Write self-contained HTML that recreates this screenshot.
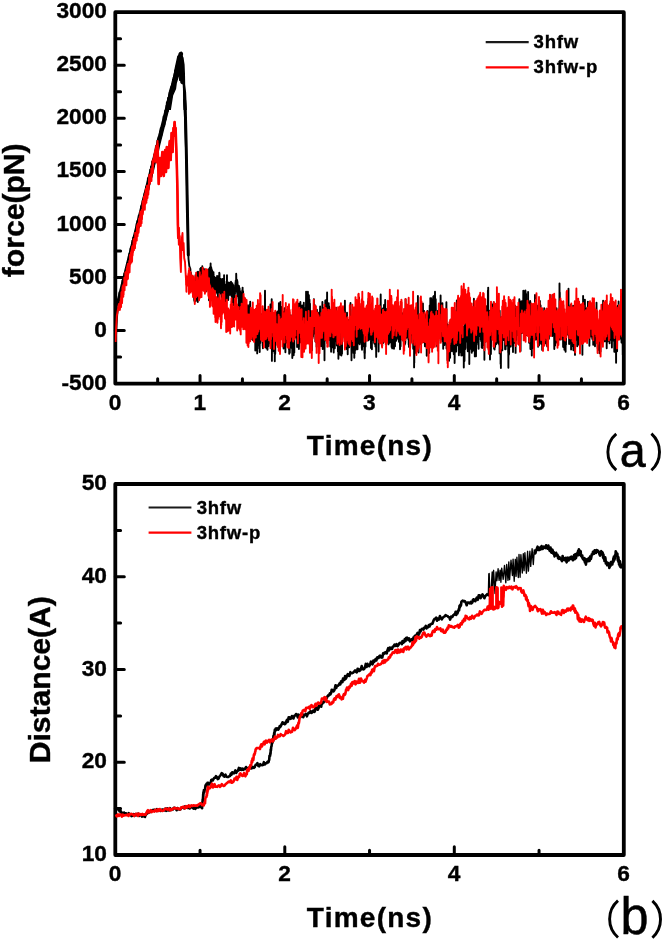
<!DOCTYPE html>
<html><head><meta charset="utf-8"><title>Force and distance vs time</title>
<style>html,body{margin:0;padding:0;background:#fff;width:666px;height:943px;overflow:hidden}svg{display:block;will-change:transform}</style>
</head><body>
<svg width="666" height="943" viewBox="0 0 666 943">
<rect width="666" height="943" fill="#fff"/>
<clipPath id="ca"><rect x="114.6" y="14" width="507.4" height="368"/></clipPath>
<clipPath id="cb"><rect x="114.6" y="486" width="507.4" height="367"/></clipPath>
<path d="M115.3 65.30H124.3 M115.3 118.35H124.3 M115.3 171.40H124.3 M115.3 224.45H124.3 M115.3 277.50H124.3 M115.3 330.55H124.3 M115.3 38.77H120.6 M115.3 91.83H120.6 M115.3 144.88H120.6 M115.3 197.93H120.6 M115.3 250.97H120.6 M115.3 304.03H120.6 M115.3 357.07H120.6 M200.05 383.6V375.4 M284.80 383.6V375.4 M369.55 383.6V375.4 M454.30 383.6V375.4 M539.05 383.6V375.4 M157.67 383.6V378.8 M242.42 383.6V378.8 M327.17 383.6V378.8 M411.92 383.6V378.8 M496.67 383.6V378.8 M581.42 383.6V378.8" stroke="#000" stroke-width="3" stroke-linecap="round" fill="none"/>
<path d="M115.3 12.2 H623.8 V383.6 H115.3 Z" fill="none" stroke="#000" stroke-width="3.8" stroke-linejoin="round"/>
<g clip-path="url(#ca)">
<polyline points="115.9,341.0 116.1,334.0 116.5,325.0 117.2,315.0 118.0,308.0 118.7,303.0 118.5,299.3 118.7,303.0 118.8,299.9 119.0,302.5 119.1,302.2 119.3,293.7 119.5,292.3 119.6,303.2 119.8,294.5 119.9,293.5 120.1,303.5 120.3,295.5 120.4,300.0 120.6,294.3 120.7,296.0 120.9,288.5 121.1,294.6 121.2,297.3 121.4,291.8 121.5,294.2 121.7,292.6 121.9,283.5 122.0,292.5 122.2,289.6 122.3,284.9 122.5,280.4 122.7,291.5 122.8,285.3 123.0,288.1 123.1,289.7 123.3,286.8 123.5,289.1 123.6,281.0 123.8,286.1 123.9,280.5 124.1,286.7 124.3,285.3 124.4,273.7 124.6,273.6 124.7,274.1 124.9,283.9 125.1,275.9 125.2,277.9 125.4,272.7 125.5,274.9 125.7,272.6 125.9,271.5 126.0,274.1 126.2,273.5 126.3,277.3 126.5,273.5 126.7,276.4 126.8,274.7 127.0,276.0 127.1,270.8 127.3,263.1 127.5,272.2 127.6,273.0 127.8,271.5 127.9,266.2 128.1,267.6 128.3,259.9 128.4,268.0 128.6,263.7 128.7,259.0 128.9,255.3 129.1,265.7 129.2,267.0 129.4,253.7 129.5,263.0 129.7,256.9 129.9,252.7 130.0,254.0 130.2,260.0 130.3,260.9 130.5,248.6 130.7,256.0 130.8,247.3 131.0,256.1 131.1,250.1 131.3,257.1 131.5,257.9 131.6,250.6 131.8,256.9 131.9,246.6 132.1,242.7 132.3,249.4 132.4,240.8 132.6,242.4 132.7,244.8 132.9,246.9 133.1,239.9 133.2,237.7 133.4,248.6 133.5,240.2 133.7,248.6 133.9,247.1 134.0,239.2 134.2,239.7 134.3,239.9 134.5,241.0 134.7,239.7 134.8,238.5 135.0,238.8 135.1,242.6 135.3,235.9 135.5,234.2 135.6,237.6 135.8,230.2 135.9,230.5 136.1,239.3 136.3,232.3 136.4,232.0 136.6,223.8 136.7,228.9 136.9,230.5 137.1,222.0 137.2,229.7 137.4,229.3 137.5,220.7 137.7,228.0 137.9,225.1 138.0,227.4 138.2,222.2 138.3,226.5 138.5,226.3 138.7,215.7 138.8,215.6 139.0,223.5 139.1,226.9 139.3,216.3 139.5,218.5 139.6,219.8 139.8,215.4 139.9,215.3 140.1,214.0 140.3,214.1 140.4,216.7 140.6,211.9 140.7,212.3 140.9,217.2 141.1,206.1 141.2,213.1 141.4,214.8 141.5,208.2 141.7,206.3 141.9,213.8 142.0,205.3 142.2,203.9 142.3,206.7 142.5,209.8 142.7,200.8 142.8,203.2 143.0,202.8 143.1,209.1 143.3,202.9 143.5,208.1 143.6,197.9 143.8,199.6 143.9,203.3 144.1,206.0 144.3,199.3 144.4,195.5 144.6,193.4 144.7,198.5 144.9,193.1 145.1,201.1 145.2,200.9 145.4,191.1 145.5,191.7 145.7,198.5 145.9,195.5 146.0,197.2 146.2,190.1 146.3,186.5 146.5,188.1 146.7,194.5 146.8,186.5 147.0,186.9 147.1,187.3 147.3,186.7 147.5,185.9 147.6,192.4 147.8,181.1 147.9,178.3 148.1,190.8 148.3,189.3 148.4,190.1 148.6,181.8 148.7,188.3 148.9,187.4 149.1,176.9 149.2,183.6 149.4,184.2 149.5,181.1 149.7,178.5 149.9,174.6 150.0,174.7 150.2,172.5 150.3,169.6 150.5,176.2 150.7,171.4 150.8,178.1 151.0,166.7 151.1,178.1 151.3,174.5 151.5,177.1 151.6,176.1 151.8,175.5 151.9,170.3 152.1,161.8 152.3,171.4 152.4,162.7 152.6,163.9 152.7,168.3 152.9,165.7 153.1,163.6 153.2,170.3 153.4,165.1 153.5,160.6 153.7,158.7 153.9,166.6 154.0,160.6 154.2,164.2 154.3,157.6 154.5,154.8 154.7,158.8 154.8,162.2 155.0,152.5 155.1,160.5 155.3,161.7 155.5,159.4 155.6,159.0 155.8,147.0 155.9,155.0 156.1,157.7 156.3,145.7 156.4,148.1 156.6,147.4 156.7,150.4 156.9,148.3 157.1,148.4 157.2,152.0 157.4,140.5 157.5,140.6 157.7,141.0 157.9,140.3 158.0,138.9 158.2,150.9 158.3,148.6 158.5,137.2 158.7,142.4 158.8,139.1 159.0,138.5 159.1,138.4 159.3,141.9 159.5,140.4 159.6,136.6 159.8,133.6 159.9,134.8 160.1,131.3 160.3,136.7 160.4,138.3 160.6,133.0 160.7,128.2 160.9,128.9 161.1,131.0 161.2,133.6 161.4,135.4 161.5,129.2 161.7,134.4 161.9,131.3 162.0,128.0 162.2,126.5 162.3,127.6 162.5,129.8 162.7,125.2 162.8,128.4 163.0,124.5 163.1,120.9 163.3,124.3 163.5,125.9 163.6,116.5 163.8,120.8 163.9,120.2 164.1,125.9 164.3,126.1 164.4,117.6 164.6,124.2 164.7,122.1 164.9,114.1 165.1,116.3 165.2,110.8 165.4,119.9 165.5,117.1 165.7,119.6 165.9,117.7 166.0,115.3 166.2,115.6 166.3,112.5 166.5,105.4 166.7,111.6 166.8,102.8 167.0,104.1 167.1,112.3 167.3,101.4 167.5,101.4 167.6,100.9 167.8,111.2 167.9,100.7 168.1,97.9 168.3,108.7 168.4,98.0 168.6,107.5 168.7,104.5 168.9,106.1 169.1,107.1 169.2,101.2 169.4,103.7 169.5,92.3 169.7,101.9 169.9,97.7 170.0,99.9 170.2,90.8 170.3,99.1 170.5,101.1 170.7,88.2 170.8,91.3 171.0,94.0 171.1,97.0 171.3,88.2 171.5,86.7 171.6,87.0 171.8,91.5 171.9,92.8 172.1,87.1 172.3,86.1 172.4,85.9 172.6,84.6 172.7,84.9 172.9,79.6 173.1,84.8 173.2,90.7 173.4,82.3 173.5,86.3 173.7,77.4 173.9,84.2 174.0,84.5 174.2,82.7 174.3,79.9 174.5,78.8 174.7,80.4 174.8,83.3 175.0,72.2 175.1,70.8 175.3,79.3 175.5,81.0 175.6,74.8 175.8,73.1 175.9,76.3 176.1,68.2 176.3,68.7 176.4,67.1 176.6,71.9 176.7,67.4 176.9,65.7 177.1,71.4 177.2,74.5 177.4,64.6 177.5,69.7 177.7,65.0 177.9,70.5 178.0,66.1 178.2,61.0 178.3,59.7 178.5,56.3 178.7,62.1 178.8,60.1 179.0,56.5 179.1,58.5 179.3,57.3 179.5,63.0 179.6,53.5 179.8,64.8 179.9,57.0 180.1,58.0 180.3,55.5 181.3,52.6 180.6,66.0 179.9,80.0 180.4,74.0 181.2,60.0 182.2,57.0 182.8,68.0 183.3,76.0 183.8,84.6 184.5,105.0 185.2,125.0 186.0,150.0 186.6,170.0 187.1,195.0 187.6,221.0 188.1,240.0 188.5,259.0 189.3,266.0 190.4,269.0 190.5,282.7 190.6,279.0 190.7,280.0 190.8,286.9 190.9,272.7 191.0,283.1 191.0,287.5 191.1,280.5 191.2,283.1 191.3,277.5 191.4,284.5 191.5,282.9 191.6,287.2 191.7,285.6 191.8,286.3 191.9,280.0 191.9,279.4 192.0,279.9 192.1,282.0 192.2,275.9 192.3,286.3 192.4,284.6 192.5,277.1 192.6,278.7 192.7,282.2 192.8,285.5 192.8,283.0 192.9,286.4 193.0,291.5 193.1,283.7 193.2,290.9 193.3,287.7 193.4,292.7 193.5,290.9 193.6,286.3 193.7,285.9 193.7,296.6 193.8,294.8 193.9,293.2 194.0,293.4 194.1,288.9 194.2,300.2 194.3,294.6 194.4,283.6 194.5,301.6 194.6,295.7 194.6,286.3 194.7,292.6 194.8,295.1 194.9,298.2 195.0,293.9 195.1,288.6 195.2,282.9 195.3,290.7 195.4,283.6 195.5,292.3 195.5,275.1 195.6,301.3 195.7,284.2 195.8,289.7 195.9,294.1 196.0,298.9 196.1,300.0 196.2,286.0 196.3,296.8 196.4,290.9 196.4,283.0 196.5,283.0 196.6,284.5 196.7,287.3 196.8,286.9 196.9,291.1 197.0,284.3 197.1,292.8 197.2,284.3 197.3,277.7 197.3,285.7 197.4,288.0 197.5,272.0 197.6,287.8 197.7,285.8 197.8,302.1 197.9,287.1 198.0,271.7 198.1,274.7 198.2,271.9 198.2,289.4 198.3,277.7 198.4,287.4 198.5,277.8 198.6,278.5 198.7,277.3 198.8,286.2 198.9,283.9 199.0,278.6 199.1,276.5 199.1,285.6 199.2,287.8 199.3,285.8 199.4,284.0 199.5,276.7 199.6,272.7 199.7,281.8 199.8,288.4 199.9,283.8 200.0,277.3 200.0,283.9 200.1,286.3 200.2,285.0 200.3,268.6 200.4,277.3 200.5,277.7 200.6,285.9 200.7,272.8 200.8,268.0 200.9,284.5 200.9,281.6 201.0,286.2 201.1,275.0 201.2,288.6 201.3,279.4 201.4,280.9 201.5,279.3 201.6,273.1 201.7,288.7 201.8,280.4 201.8,280.1 201.9,276.5 202.0,281.7 202.1,275.1 202.2,272.5 202.3,266.3 202.4,275.8 202.5,279.2 202.6,280.3 202.7,276.3 202.7,284.7 202.8,272.7 202.9,271.6 203.0,282.7 203.1,275.7 203.2,275.0 203.3,284.1 203.4,269.1 203.5,282.1 203.6,271.6 203.6,277.6 203.7,276.2 203.8,268.7 203.9,270.9 204.0,290.3 204.1,279.6 204.2,277.3 204.3,289.8 204.4,275.1 204.5,283.3 204.5,275.5 204.6,278.4 204.7,276.6 204.8,275.4 204.9,286.4 205.0,280.8 205.1,275.7 205.2,270.3 205.3,276.7 205.4,278.6 205.4,286.5 205.5,288.1 205.6,273.0 205.7,273.1 205.8,283.9 205.9,270.0 206.0,291.3 206.1,280.5 206.2,279.4 206.3,278.2 206.3,278.7 206.4,279.5 206.5,285.1 206.6,275.4 206.7,275.9 206.8,275.4 206.9,275.9 207.0,285.6 207.1,284.4 207.2,269.7 207.2,280.6 207.3,287.8 207.4,279.5 207.5,279.6 207.6,284.8 207.7,275.9 207.8,285.8 207.9,286.6 208.0,286.5 208.1,285.4 208.1,279.1 208.2,283.6 208.3,278.2 208.4,287.0 208.5,273.0 208.6,272.9 208.7,276.5 208.8,269.2 208.9,277.5 209.0,291.2 209.0,300.2 209.1,278.4 209.2,289.7 209.3,283.0 209.4,275.6 209.5,278.0 209.6,284.4 209.7,280.6 209.8,267.5 209.9,279.0 209.9,277.3 210.0,275.9 210.1,278.5 210.2,277.9 210.3,273.7 210.4,274.2 210.5,279.7 210.6,263.4 210.7,277.6 210.8,286.6 210.8,281.8 210.9,284.7 211.0,277.4 211.1,277.4 211.2,267.1 211.3,283.9 211.4,272.6 211.5,281.9 211.6,278.6 211.7,274.0 211.7,269.1 211.8,275.0 211.9,274.4 212.0,279.3 212.1,292.7 212.2,270.6 212.3,275.6 212.4,275.7 212.5,273.1 212.6,276.5 212.6,280.0 212.7,286.7 212.8,282.9 212.9,275.7 213.0,295.2 213.1,277.2 213.2,274.8 213.3,278.8 213.4,281.6 213.5,272.2 213.5,281.3 213.6,274.3 213.7,285.9 213.8,282.3 213.9,282.7 214.0,293.0 214.1,278.0 214.2,280.1 214.3,282.9 214.4,281.3 214.4,276.6 214.5,287.8 214.6,290.1 214.7,291.0 214.8,283.9 214.9,284.2 215.0,283.4 215.1,287.4 215.2,277.6 215.3,291.4 215.3,284.0 215.4,284.8 215.5,291.7 215.6,289.9 215.7,281.0 215.8,284.3 215.9,292.4 216.0,288.7 216.1,286.1 216.2,282.5 216.2,278.3 216.3,284.8 216.4,284.1 216.5,280.8 216.6,286.7 216.7,284.0 216.8,285.9 216.9,283.7 217.0,279.1 217.1,275.9 217.1,284.7 217.2,281.1 217.3,293.8 217.4,279.7 217.5,289.5 217.6,279.6 217.7,280.7 217.8,281.4 217.9,299.4 218.0,281.4 218.0,287.5 218.1,292.3 218.2,284.9 218.3,285.7 218.4,291.6 218.5,283.9 218.6,289.7 218.7,290.4 218.8,276.0 218.9,287.5 218.9,280.2 219.0,283.5 219.1,288.2 219.2,282.2 219.3,272.6 219.4,290.5 219.5,273.4 219.6,286.3 219.7,291.9 219.8,287.5 219.8,283.2 219.9,281.4 220.0,283.6 220.1,293.2 220.2,288.9 220.3,278.9 220.4,289.3 220.5,291.9 220.6,287.3 220.7,278.9 220.7,281.4 220.8,285.4 220.9,284.4 221.0,292.6 221.1,285.6 221.2,294.5 221.3,292.6 221.4,291.3 221.5,294.8 221.6,283.0 221.6,284.0 221.7,297.8 221.8,287.9 221.9,292.5 222.0,288.5 222.1,290.0 222.2,289.8 222.3,287.1 222.4,291.0 222.5,278.9 222.5,294.4 222.6,298.2 222.7,288.0 222.8,299.7 222.9,288.3 223.0,291.5 223.1,288.6 223.2,289.1 223.3,280.7 223.4,286.7 223.4,283.3 223.5,283.7 223.6,282.7 223.7,291.1 223.8,290.1 223.9,286.5 224.0,292.2 224.1,275.1 224.2,292.2 224.3,295.4 224.3,302.4 224.4,291.8 224.5,296.0 224.6,288.1 224.7,294.2 224.8,284.5 224.9,291.0 225.0,293.9 225.1,298.7 225.2,288.0 225.2,294.1 225.3,298.5 225.4,296.3 225.5,285.6 225.6,301.1 225.7,288.9 225.8,285.2 225.9,288.6 226.0,294.2 226.1,286.0 226.1,288.4 226.2,304.2 226.3,285.5 226.4,290.1 226.5,295.0 226.6,281.6 226.7,291.1 226.8,291.9 226.9,284.7 227.0,275.2 227.0,293.4 227.1,295.3 227.2,290.2 227.3,283.4 227.4,293.7 227.5,289.3 227.6,291.0 227.7,289.7 227.8,288.6 227.9,287.0 227.9,291.2 228.0,289.4 228.1,289.6 228.2,300.1 228.3,295.7 228.4,294.3 228.5,292.4 228.6,295.7 228.7,293.6 228.8,291.2 228.8,282.4 228.9,290.2 229.0,286.0 229.1,286.5 229.2,292.7 229.3,288.6 229.4,288.4 229.5,294.7 229.6,294.3 229.7,293.6 229.7,292.3 229.8,284.4 229.9,287.9 230.0,285.5 230.1,288.2 230.2,292.2 230.3,282.7 230.4,294.9 230.5,285.1 230.6,293.4 230.6,293.9 230.7,292.4 230.8,289.6 230.9,290.2 231.0,281.6 231.1,293.2 231.2,290.6 231.3,293.5 231.4,289.7 231.5,284.1 231.5,291.4 231.6,296.2 231.7,293.9 231.8,288.6 231.9,283.7 232.0,298.0 232.1,288.1 232.2,295.8 232.3,298.2 232.4,292.6 232.4,283.2 232.5,304.7 232.6,290.3 232.7,295.1 232.8,288.2 232.9,300.9 233.0,294.4 233.1,301.5 233.2,301.5 233.3,290.2 233.3,289.8 233.4,285.3 233.5,287.9 233.6,301.9 233.7,305.1 233.8,301.1 233.9,291.8 234.0,293.5 234.1,295.2 234.2,295.7 234.2,292.4 234.3,287.8 234.4,298.5 234.5,293.0 234.6,299.4 234.7,298.4 234.8,292.5 234.9,292.5 235.0,290.2 235.1,290.8 235.1,289.2 235.2,291.2 235.3,292.9 235.4,285.4 235.5,282.6 235.6,289.4 235.7,280.7 235.8,291.3 235.9,282.2 236.0,284.8 236.0,288.7 236.1,285.9 236.2,273.8 236.3,278.0 236.4,280.8 236.5,284.1 236.6,290.1 236.7,285.5 236.8,289.8 236.9,286.2 236.9,291.5 237.0,289.0 237.1,282.5 237.2,279.9 237.3,291.6 237.4,296.0 237.5,281.7 237.6,293.0 237.7,293.3 237.8,289.1 237.8,293.6 237.9,290.9 238.0,285.2 238.1,293.3 238.2,289.7 238.3,295.0 238.4,298.3 238.5,289.7 238.6,295.5 238.7,305.6 238.7,293.0 238.8,291.6 238.9,295.8 239.0,286.0 239.1,305.5 239.2,309.4 239.3,300.4 239.4,295.0 239.5,294.9 239.6,298.3 239.6,288.2 239.7,300.6 239.8,304.7 239.9,296.5 240.0,304.0 240.1,291.1 240.2,304.4 240.3,294.9 240.4,304.7 240.5,297.9 240.5,309.3 240.6,312.7 240.7,305.3 240.8,302.2 240.9,299.1 241.0,312.2 241.1,305.3 241.2,298.6 241.3,309.9 241.4,315.2 241.4,304.0 241.5,304.7 241.6,309.5 241.7,300.2 241.8,296.0 241.9,304.9 242.0,291.9 242.1,296.7 242.2,290.3 242.3,297.0 242.3,295.1 242.4,295.7 242.5,300.9 242.6,287.6 242.7,305.7 242.8,307.3 242.9,299.5 243.0,292.8 243.1,291.2 243.2,300.9 243.2,300.4 243.3,301.6 243.4,310.4 243.5,308.2 243.6,297.8 243.7,297.3 243.8,307.3 243.9,305.8 244.0,298.2 244.1,312.3 244.1,312.4 244.2,311.2 244.3,316.5 244.4,299.4 244.5,313.2 244.6,313.7 244.7,310.4 244.8,309.5 244.9,309.4 245.0,310.9 245.0,310.3 245.1,307.6 245.2,312.8 245.3,310.3 245.4,318.3 245.5,302.9 245.6,319.1 245.7,311.6 245.8,314.1 245.9,314.5 245.9,310.9 246.0,315.2 246.1,311.4 246.2,321.2 246.3,306.8 246.4,310.0 246.5,321.5 246.6,319.9 246.7,318.6 246.8,321.3 246.8,318.0 246.9,322.2 247.0,321.3 247.1,316.0 247.2,313.5 247.3,318.7 247.4,310.2 247.5,318.0 247.6,322.4 247.7,325.1 247.7,309.4 247.8,318.0 247.9,313.6 248.0,305.1 248.1,316.3 248.2,323.2 248.3,327.1 248.4,329.8 248.5,317.9 248.6,321.0 248.6,319.7 248.7,317.5 248.8,325.4 248.9,316.6 249.0,312.1 249.1,306.7 249.2,322.6 249.3,330.1 249.4,321.7 249.5,314.4 249.5,325.2 249.6,321.0 249.7,322.8 249.8,313.4 249.9,319.5 250.0,304.0 250.1,331.5 250.2,301.7 250.3,315.4 250.4,317.0 250.4,321.9 250.5,323.1 250.6,327.9 250.7,324.5 250.8,324.1 250.9,330.6 251.0,324.4 251.1,327.4 251.2,330.5 251.3,312.1 251.3,320.4 251.4,326.0 251.5,326.2 251.6,328.2 251.7,319.1 251.8,329.1 251.9,326.4 252.0,320.5 252.1,339.2 252.2,336.5 252.2,311.8 252.3,332.4 252.4,322.1 252.5,317.6 252.6,329.3 252.7,340.0 252.8,320.5 252.9,325.6 253.0,335.8 253.1,335.4 253.1,328.5 253.2,335.5 253.3,323.9 253.4,331.8 253.5,334.8 253.6,329.3 253.7,323.3 253.8,318.4 253.9,324.9 254.0,339.5 254.0,336.9 254.1,311.8 254.2,324.0 254.3,339.4 254.4,328.2 254.5,332.2 254.6,316.7 254.7,334.6 254.8,332.9 254.9,327.2 254.9,330.0 255.0,339.4 255.1,339.2 255.2,323.5 255.3,350.6 255.4,333.9 255.5,346.7 255.6,328.3 255.7,330.0 255.8,328.7 255.8,348.2 255.9,323.1 256.0,331.8 256.1,322.8 256.2,322.3 256.3,343.8 256.4,331.1 256.5,338.3 256.6,322.3 256.7,333.4 256.7,324.9 256.8,325.8 256.9,326.3 257.0,344.1 257.1,341.8 257.2,353.4 257.3,339.5 257.4,341.1 257.5,334.4 257.6,341.5 257.6,320.4 257.7,345.3 257.8,323.7 257.9,334.8 258.0,324.3 258.1,330.5 258.2,339.5 258.3,334.0 258.4,336.1 258.5,337.2 258.5,332.6 258.6,328.4 258.7,344.3 258.8,338.3 258.9,334.7 259.0,329.9 259.1,338.5 259.2,333.0 259.3,348.6 259.4,330.3 259.4,321.5 259.5,336.5 259.6,320.4 259.7,352.0 259.8,312.2 259.9,337.3 260.0,325.5 260.1,333.3 260.2,335.4 260.3,343.1 260.3,340.7 260.4,332.2 260.5,331.8 260.6,326.1 260.7,315.4 260.8,337.4 260.9,315.3 261.0,329.9 261.1,329.2 261.2,325.0 261.2,331.1 261.3,328.0 261.4,335.6 261.5,314.1 261.6,336.8 261.7,332.2 261.8,323.3 261.9,334.1 262.0,323.1 262.1,317.9 262.1,324.0 262.2,333.4 262.3,337.2 262.4,332.1 262.5,334.9 262.6,320.7 262.7,345.9 262.8,340.5 262.9,348.2 263.0,336.9 263.0,336.7 263.1,321.6 263.2,341.1 263.3,326.2 263.4,337.8 263.5,330.5 263.6,322.9 263.7,324.0 263.8,313.3 263.9,317.9 263.9,325.7 264.0,340.8 264.1,318.8 264.2,319.1 264.3,331.4 264.4,317.9 264.5,324.8 264.6,316.6 264.7,315.3 264.8,321.5 264.8,324.4 264.9,310.9 265.0,290.8 265.1,327.9 265.2,342.0 265.3,321.0 265.4,311.0 265.5,319.3 265.6,316.1 265.6,327.7 265.7,319.1 265.8,347.3 265.9,331.3 266.0,324.2 266.1,341.9 266.2,336.1 266.3,320.4 266.4,348.4 266.5,320.3 266.5,323.0 266.6,324.4 266.7,332.5 266.8,332.9 266.9,319.6 267.0,338.0 267.1,343.0 267.2,314.2 267.3,345.5 267.4,346.6 267.4,324.7 267.5,349.7 267.6,336.3 267.7,341.6 267.8,327.6 267.9,321.9 268.0,335.8 268.1,320.3 268.2,334.5 268.3,328.6 268.3,337.4 268.4,334.6 268.5,325.6 268.6,343.0 268.7,346.0 268.8,340.0 268.9,335.8 269.0,324.7 269.1,336.6 269.2,337.4 269.2,343.3 269.3,342.1 269.4,313.4 269.5,321.1 269.6,311.9 269.7,325.8 269.8,327.4 269.9,328.3 270.0,333.7 270.1,312.7 270.1,321.6 270.2,316.0 270.3,323.7 270.4,304.4 270.5,313.4 270.6,335.8 270.7,330.4 270.8,334.7 270.9,315.3 271.0,312.8 271.0,331.8 271.1,329.8 271.2,328.4 271.3,313.8 271.4,325.8 271.5,332.1 271.6,321.2 271.7,299.2 271.8,337.7 271.9,339.2 271.9,360.9 272.0,341.4 272.1,341.0 272.2,329.0 272.3,346.5 272.4,320.6 272.5,349.5 272.6,314.4 272.7,340.1 272.8,338.0 272.8,332.4 272.9,342.1 273.0,335.2 273.1,351.1 273.2,349.8 273.3,349.0 273.4,343.1 273.5,337.4 273.6,330.6 273.7,338.5 273.7,347.4 273.8,330.7 273.9,331.2 274.0,330.6 274.1,335.0 274.2,342.1 274.3,318.5 274.4,337.6 274.5,353.3 274.6,322.4 274.6,348.6 274.7,339.9 274.8,361.2 274.9,319.5 275.0,338.9 275.1,340.5 275.2,353.9 275.3,348.2 275.4,318.7 275.5,333.3 275.5,332.9 275.6,336.7 275.7,323.9 275.8,337.6 275.9,329.5 276.0,330.9 276.1,335.6 276.2,336.5 276.3,327.1 276.4,334.6 276.4,335.1 276.5,328.4 276.6,316.4 276.7,330.3 276.8,329.6 276.9,312.1 277.0,334.3 277.1,329.6 277.2,313.6 277.3,331.9 277.3,317.0 277.4,321.4 277.5,328.2 277.6,311.5 277.7,315.3 277.8,337.1 277.9,342.0 278.0,320.8 278.1,343.6 278.2,314.1 278.2,336.7 278.3,337.3 278.4,321.8 278.5,327.1 278.6,325.0 278.7,330.8 278.8,320.8 278.9,303.1 279.0,327.3 279.1,319.3 279.1,320.1 279.2,331.1 279.3,334.8 279.4,325.1 279.5,344.0 279.6,319.5 279.7,334.1 279.8,351.7 279.9,316.9 280.0,335.6 280.0,318.2 280.1,339.5 280.2,325.6 280.3,327.7 280.4,301.9 280.5,320.0 280.6,328.5 280.7,330.4 280.8,333.4 280.9,331.6 280.9,332.0 281.0,316.0 281.1,329.2 281.2,314.5 281.3,315.0 281.4,321.7 281.5,315.8 281.6,338.6 281.7,318.3 281.8,332.5 281.8,334.2 281.9,326.8 282.0,307.0 282.1,313.3 282.2,318.8 282.3,314.2 282.4,335.9 282.5,324.7 282.6,314.4 282.7,324.4 282.7,317.9 282.8,319.3 282.9,317.3 283.0,336.6 283.1,321.3 283.2,311.9 283.3,315.3 283.4,319.1 283.5,326.0 283.6,348.6 283.6,321.7 283.7,331.4 283.8,326.2 283.9,334.8 284.0,337.5 284.1,336.8 284.2,340.0 284.3,325.0 284.4,316.5 284.5,321.7 284.5,317.1 284.6,308.2 284.7,319.6 284.8,339.2 284.9,342.4 285.0,340.1 285.1,338.8 285.2,325.3 285.3,324.0 285.4,352.3 285.4,346.7 285.5,327.9 285.6,329.0 285.7,328.6 285.8,331.5 285.9,329.9 286.0,328.6 286.1,336.5 286.2,335.0 286.3,324.5 286.3,336.5 286.4,334.3 286.5,331.7 286.6,331.8 286.7,321.1 286.8,330.5 286.9,328.7 287.0,327.9 287.1,337.3 287.2,342.6 287.2,323.9 287.3,330.9 287.4,322.2 287.5,343.2 287.6,330.5 287.7,327.2 287.8,334.8 287.9,328.3 288.0,333.0 288.1,316.8 288.1,335.6 288.2,322.9 288.3,331.7 288.4,315.2 288.5,333.7 288.6,308.8 288.7,326.6 288.8,342.0 288.9,338.7 289.0,349.6 289.0,332.9 289.1,323.3 289.2,353.7 289.3,338.5 289.4,344.4 289.5,324.4 289.6,347.6 289.7,344.8 289.8,352.7 289.9,339.3 289.9,340.3 290.0,316.5 290.1,319.7 290.2,342.4 290.3,341.0 290.4,344.3 290.5,334.3 290.6,316.3 290.7,334.9 290.8,315.2 290.8,345.1 290.9,334.5 291.0,317.1 291.1,325.6 291.2,326.3 291.3,327.4 291.4,323.1 291.5,346.8 291.6,325.7 291.7,348.1 291.7,342.9 291.8,329.5 291.9,344.7 292.0,324.5 292.1,333.5 292.2,339.4 292.3,358.1 292.4,338.3 292.5,337.3 292.6,339.9 292.6,343.8 292.7,329.3 292.8,320.3 292.9,331.6 293.0,336.8 293.1,347.1 293.2,327.8 293.3,341.4 293.4,328.6 293.5,307.3 293.5,333.8 293.6,322.2 293.7,355.3 293.8,332.8 293.9,322.8 294.0,335.7 294.1,349.3 294.2,336.5 294.3,352.5 294.4,331.8 294.4,331.7 294.5,332.6 294.6,335.0 294.7,324.9 294.8,330.9 294.9,336.3 295.0,320.8 295.1,333.7 295.2,328.0 295.3,323.3 295.3,322.8 295.4,327.1 295.5,323.9 295.6,331.2 295.7,317.9 295.8,321.3 295.9,323.2 296.0,337.1 296.1,337.4 296.2,323.0 296.2,320.1 296.3,323.6 296.4,336.4 296.5,313.9 296.6,330.6 296.7,323.4 296.8,322.0 296.9,324.4 297.0,316.6 297.1,309.6 297.1,347.0 297.2,323.2 297.3,311.0 297.4,318.2 297.5,335.7 297.6,315.6 297.7,323.4 297.8,303.4 297.9,320.7 298.0,306.0 298.0,304.1 298.1,316.6 298.2,315.5 298.3,346.3 298.4,327.9 298.5,339.2 298.6,307.0 298.7,318.0 298.8,332.6 298.9,349.1 298.9,325.6 299.0,347.1 299.1,303.7 299.2,328.2 299.3,328.0 299.4,320.7 299.5,314.0 299.6,319.3 299.7,318.9 299.8,332.7 299.8,328.5 299.9,321.0 300.0,311.7 300.1,313.9 300.2,332.1 300.3,339.4 300.4,302.0 300.5,342.4 300.6,319.4 300.7,322.4 300.7,325.7 300.8,335.9 300.9,324.9 301.0,334.8 301.1,325.5 301.2,320.3 301.3,341.3 301.4,337.7 301.5,330.6 301.6,337.4 301.6,325.7 301.7,333.6 301.8,339.9 301.9,328.1 302.0,332.8 302.1,314.0 302.2,305.5 302.3,320.9 302.4,310.1 302.5,317.0 302.5,315.2 302.6,330.8 302.7,336.3 302.8,311.7 302.9,306.6 303.0,310.1 303.1,322.3 303.2,319.9 303.3,314.8 303.4,322.3 303.4,308.4 303.5,328.0 303.6,310.5 303.7,324.4 303.8,302.8 303.9,323.5 304.0,322.3 304.1,320.1 304.2,326.3 304.3,322.2 304.3,319.5 304.4,323.8 304.5,347.2 304.6,328.1 304.7,343.0 304.8,320.8 304.9,330.9 305.0,336.5 305.1,308.0 305.2,325.7 305.2,319.1 305.3,308.3 305.4,331.5 305.5,316.8 305.6,308.2 305.7,328.6 305.8,314.9 305.9,324.3 306.0,307.7 306.1,291.6 306.1,302.4 306.2,318.7 306.3,331.2 306.4,302.7 306.5,322.1 306.6,312.7 306.7,304.8 306.8,307.6 306.9,327.2 307.0,331.5 307.0,318.5 307.1,298.6 307.2,323.0 307.3,297.7 307.4,301.7 307.5,331.2 307.6,309.1 307.7,315.1 307.8,307.7 307.9,291.8 307.9,329.3 308.0,312.7 308.1,329.0 308.2,310.2 308.3,336.7 308.4,321.2 308.5,310.3 308.6,306.1 308.7,297.8 308.8,320.9 308.8,313.6 308.9,295.2 309.0,302.6 309.1,321.2 309.2,311.7 309.3,321.4 309.4,319.8 309.5,299.7 309.6,323.4 309.7,321.1 309.7,303.6 309.8,331.3 309.9,317.6 310.0,303.7 310.1,338.1 310.2,313.8 310.3,318.8 310.4,323.7 310.5,325.8 310.6,311.3 310.6,318.5 310.7,333.7 310.8,344.3 310.9,331.4 311.0,327.2 311.1,314.4 311.2,331.5 311.3,316.3 311.4,312.4 311.5,335.9 311.5,342.8 311.6,334.3 311.7,340.4 311.8,326.7 311.9,332.3 312.0,350.3 312.1,312.2 312.2,326.7 312.3,330.0 312.4,335.8 312.4,313.6 312.5,336.3 312.6,338.1 312.7,332.0 312.8,333.1 312.9,326.6 313.0,336.5 313.1,328.9 313.2,316.0 313.3,323.2 313.3,315.4 313.4,314.1 313.5,312.6 313.6,327.5 313.7,320.1 313.8,316.1 313.9,299.1 314.0,322.3 314.1,322.8 314.2,308.1 314.2,327.9 314.3,310.2 314.4,309.1 314.5,312.3 314.6,329.3 314.7,305.0 314.8,319.9 314.9,334.0 315.0,330.5 315.1,330.0 315.1,322.9 315.2,332.4 315.3,332.6 315.4,341.6 315.5,328.9 315.6,319.0 315.7,331.9 315.8,315.8 315.9,334.3 316.0,317.9 316.0,337.9 316.1,323.1 316.2,316.5 316.3,325.6 316.4,318.3 316.5,334.7 316.6,346.7 316.7,322.4 316.8,317.3 316.9,309.8 316.9,321.3 317.0,332.1 317.1,334.3 317.2,331.2 317.3,329.3 317.4,331.6 317.5,319.6 317.6,313.2 317.7,323.2 317.8,318.9 317.8,316.7 317.9,317.2 318.0,319.5 318.1,327.3 318.2,314.6 318.3,326.1 318.4,332.1 318.5,312.6 318.6,326.6 318.7,320.0 318.7,315.2 318.8,333.0 318.9,335.2 319.0,328.1 319.1,328.2 319.2,333.6 319.3,312.7 319.4,336.8 319.5,322.8 319.6,318.8 319.6,338.2 319.7,336.2 319.8,329.3 319.9,328.2 320.0,310.7 320.1,306.5 320.2,332.2 320.3,331.8 320.4,328.0 320.5,321.8 320.5,330.8 320.6,319.3 320.7,329.4 320.8,337.2 320.9,336.5 321.0,346.3 321.1,338.2 321.2,328.6 321.3,342.6 321.4,329.4 321.4,329.7 321.5,323.8 321.6,329.2 321.7,321.2 321.8,335.8 321.9,326.8 322.0,337.1 322.1,335.8 322.2,323.4 322.3,333.0 322.3,307.3 322.4,301.9 322.5,333.9 322.6,313.0 322.7,349.1 322.8,310.2 322.9,339.0 323.0,326.9 323.1,318.7 323.2,332.1 323.2,308.0 323.3,338.4 323.4,327.1 323.5,325.7 323.6,322.2 323.7,339.2 323.8,337.9 323.9,308.0 324.0,340.4 324.1,324.1 324.1,325.3 324.2,325.8 324.3,329.0 324.4,330.7 324.5,360.2 324.6,326.1 324.7,321.4 324.8,327.3 324.9,309.8 325.0,331.0 325.0,330.7 325.1,314.2 325.2,319.8 325.3,300.5 325.4,340.4 325.5,329.6 325.6,329.6 325.7,313.0 325.8,300.2 325.9,326.4 325.9,329.4 326.0,314.6 326.1,318.7 326.2,327.6 326.3,322.2 326.4,326.6 326.5,327.8 326.6,322.8 326.7,309.8 326.8,325.1 326.8,305.4 326.9,313.4 327.0,309.0 327.1,292.4 327.2,333.7 327.3,307.4 327.4,319.3 327.5,332.4 327.6,316.2 327.7,320.3 327.7,307.0 327.8,319.4 327.9,331.1 328.0,316.5 328.1,328.2 328.2,314.0 328.3,313.1 328.4,313.2 328.5,315.7 328.6,308.4 328.6,323.9 328.7,303.1 328.8,315.4 328.9,326.2 329.0,313.0 329.1,306.3 329.2,319.3 329.3,307.7 329.4,327.4 329.5,332.9 329.5,320.0 329.6,320.2 329.7,339.9 329.8,328.3 329.9,316.0 330.0,317.7 330.1,331.2 330.2,319.6 330.3,346.5 330.4,340.0 330.4,340.2 330.5,327.9 330.6,345.4 330.7,323.2 330.8,338.3 330.9,346.2 331.0,333.4 331.1,351.8 331.2,343.6 331.3,320.3 331.3,344.8 331.4,319.0 331.5,334.2 331.6,337.2 331.7,323.9 331.8,325.4 331.9,336.4 332.0,332.0 332.1,347.3 332.2,325.3 332.2,319.6 332.3,318.0 332.4,341.9 332.5,339.5 332.6,340.9 332.7,336.3 332.8,315.9 332.9,311.5 333.0,336.2 333.1,335.5 333.1,340.2 333.2,326.8 333.3,333.5 333.4,342.8 333.5,329.3 333.6,348.7 333.7,352.5 333.8,339.6 333.9,338.8 334.0,333.0 334.0,326.6 334.1,312.9 334.2,332.0 334.3,329.6 334.4,314.3 334.5,330.7 334.6,323.0 334.7,332.3 334.8,348.3 334.9,341.6 334.9,316.2 335.0,341.4 335.1,337.3 335.2,333.5 335.3,333.0 335.4,331.6 335.5,320.6 335.6,321.0 335.7,334.8 335.8,325.9 335.8,327.0 335.9,324.3 336.0,312.8 336.1,307.7 336.2,330.0 336.3,329.8 336.4,327.4 336.5,331.7 336.6,322.8 336.7,317.5 336.7,313.4 336.8,330.9 336.9,345.5 337.0,338.3 337.1,321.5 337.2,324.5 337.3,331.0 337.4,332.1 337.5,325.4 337.6,335.5 337.6,325.0 337.7,334.0 337.8,325.6 337.9,351.5 338.0,335.5 338.1,317.5 338.2,334.2 338.3,341.4 338.4,358.7 338.5,332.4 338.5,346.0 338.6,353.4 338.7,320.5 338.8,339.4 338.9,334.9 339.0,334.1 339.1,320.6 339.2,325.9 339.3,332.8 339.4,331.6 339.4,336.3 339.5,327.6 339.6,337.4 339.7,340.6 339.8,345.7 339.9,327.7 340.0,340.3 340.1,340.5 340.2,354.7 340.3,334.2 340.3,346.5 340.4,321.9 340.5,347.4 340.6,344.2 340.7,327.6 340.8,315.3 340.9,316.9 341.0,330.5 341.1,333.5 341.2,329.0 341.2,343.2 341.3,321.2 341.4,355.6 341.5,327.1 341.6,339.8 341.7,346.3 341.8,333.3 341.9,334.4 342.0,353.8 342.1,342.3 342.1,337.6 342.2,340.5 342.3,339.1 342.4,333.0 342.5,322.1 342.6,328.7 342.7,331.3 342.8,335.7 342.9,329.5 343.0,327.7 343.0,322.2 343.1,330.8 343.2,328.1 343.3,315.4 343.4,326.6 343.5,314.3 343.6,308.8 343.7,319.7 343.8,318.6 343.9,323.3 343.9,319.7 344.0,320.7 344.1,309.5 344.2,307.5 344.3,326.2 344.4,336.9 344.5,332.4 344.6,336.8 344.7,321.7 344.8,339.1 344.8,321.6 344.9,300.6 345.0,313.8 345.1,332.4 345.2,321.2 345.3,322.1 345.4,331.6 345.5,332.6 345.6,316.4 345.7,340.9 345.7,347.4 345.8,339.3 345.9,337.5 346.0,334.2 346.1,324.3 346.2,325.2 346.3,342.9 346.4,336.0 346.5,324.9 346.6,331.7 346.6,333.3 346.7,349.1 346.8,330.8 346.9,340.6 347.0,312.8 347.1,338.0 347.2,332.5 347.3,325.9 347.4,319.3 347.5,334.1 347.5,329.1 347.6,342.8 347.7,354.3 347.8,340.0 347.9,331.2 348.0,331.3 348.1,326.2 348.2,338.5 348.3,320.0 348.4,336.2 348.4,347.2 348.5,337.9 348.6,337.3 348.7,322.8 348.8,326.0 348.9,331.3 349.0,326.9 349.1,326.0 349.2,347.3 349.3,323.7 349.3,335.5 349.4,338.0 349.5,340.4 349.6,338.3 349.7,324.9 349.8,339.0 349.9,323.2 350.0,325.7 350.1,334.5 350.2,327.8 350.2,308.6 350.3,315.4 350.4,305.3 350.5,303.0 350.6,331.2 350.7,319.1 350.8,319.7 350.9,330.7 351.0,318.8 351.1,332.2 351.1,321.3 351.2,336.3 351.3,331.9 351.4,339.8 351.5,360.3 351.6,338.4 351.7,328.5 351.8,341.4 351.9,343.1 352.0,338.6 352.0,350.6 352.1,339.6 352.2,329.7 352.3,347.0 352.4,337.4 352.5,323.5 352.6,323.3 352.7,330.1 352.8,309.0 352.9,311.3 352.9,314.2 353.0,329.3 353.1,308.1 353.2,329.6 353.3,342.9 353.4,320.2 353.5,352.9 353.6,330.8 353.7,331.8 353.8,341.7 353.8,341.9 353.9,346.6 354.0,345.6 354.1,319.4 354.2,325.0 354.3,357.7 354.4,347.6 354.5,342.7 354.6,339.2 354.7,327.6 354.7,342.7 354.8,353.3 354.9,334.8 355.0,345.0 355.1,340.5 355.2,334.3 355.3,332.6 355.4,320.7 355.5,349.3 355.6,327.1 355.6,328.9 355.7,349.7 355.8,341.2 355.9,331.2 356.0,331.6 356.1,302.6 356.2,328.5 356.3,333.3 356.4,319.3 356.5,327.6 356.5,337.0 356.6,332.0 356.7,328.3 356.8,343.0 356.9,340.8 357.0,321.8 357.1,328.1 357.2,323.8 357.3,318.8 357.4,306.8 357.4,316.9 357.5,349.2 357.6,319.6 357.7,329.5 357.8,343.5 357.9,332.2 358.0,338.0 358.1,335.1 358.2,336.1 358.3,333.8 358.3,323.9 358.4,326.3 358.5,330.4 358.6,342.4 358.7,334.0 358.8,323.3 358.9,317.9 359.0,297.4 359.1,314.4 359.2,333.1 359.2,334.5 359.3,333.0 359.4,325.9 359.5,344.0 359.6,313.1 359.7,344.2 359.8,341.4 359.9,326.0 360.0,329.6 360.1,341.4 360.1,323.3 360.2,341.8 360.3,336.8 360.4,322.1 360.5,313.2 360.6,338.5 360.7,342.4 360.8,340.3 360.9,318.1 361.0,331.8 361.0,315.6 361.1,325.5 361.2,334.4 361.3,320.1 361.4,332.2 361.5,337.6 361.6,328.9 361.7,319.8 361.8,348.3 361.9,342.7 361.9,335.0 362.0,349.8 362.1,345.3 362.2,346.9 362.3,327.4 362.4,334.1 362.5,342.9 362.6,328.8 362.7,343.0 362.8,339.6 362.8,341.4 362.9,339.6 363.0,325.7 363.1,329.5 363.2,346.1 363.3,328.7 363.4,326.4 363.5,340.5 363.6,342.7 363.7,331.9 363.7,339.2 363.8,330.1 363.9,331.8 364.0,336.2 364.1,340.8 364.2,333.6 364.3,341.1 364.4,353.1 364.5,332.6 364.6,353.7 364.6,355.2 364.7,358.3 364.8,316.5 364.9,353.2 365.0,327.2 365.1,322.9 365.2,332.0 365.3,324.1 365.4,341.8 365.5,346.5 365.5,342.3 365.6,328.0 365.7,313.8 365.8,319.7 365.9,322.6 366.0,339.6 366.1,326.1 366.2,311.2 366.3,319.5 366.4,330.1 366.4,332.9 366.5,319.4 366.6,313.3 366.7,308.9 366.8,317.1 366.9,329.0 367.0,309.2 367.1,337.3 367.2,321.4 367.3,340.4 367.3,329.4 367.4,332.3 367.5,329.8 367.6,324.0 367.7,312.7 367.8,313.9 367.9,315.6 368.0,322.0 368.1,335.7 368.2,301.6 368.2,305.9 368.3,306.9 368.4,322.1 368.5,298.8 368.6,340.2 368.7,318.7 368.8,322.7 368.9,325.5 369.0,326.9 369.1,311.4 369.1,315.0 369.2,311.9 369.3,314.6 369.4,311.8 369.5,333.8 369.6,315.0 369.7,325.3 369.8,339.0 369.9,332.5 370.0,324.7 370.0,322.4 370.1,318.2 370.2,335.9 370.3,331.8 370.4,326.4 370.5,322.2 370.6,339.6 370.7,335.1 370.8,337.7 370.9,329.3 370.9,314.5 371.0,348.0 371.1,319.7 371.2,314.9 371.3,328.1 371.4,323.1 371.5,329.6 371.6,325.9 371.7,316.1 371.8,311.8 371.8,303.5 371.9,349.3 372.0,317.8 372.1,336.6 372.2,324.2 372.3,338.6 372.4,339.0 372.5,321.2 372.6,310.1 372.7,310.2 372.7,312.6 372.8,339.4 372.9,324.2 373.0,317.3 373.1,327.1 373.2,322.9 373.3,324.5 373.4,324.9 373.5,334.6 373.6,323.9 373.6,317.7 373.7,322.7 373.8,340.4 373.9,330.3 374.0,326.2 374.1,343.1 374.2,324.7 374.3,329.0 374.4,337.7 374.5,327.6 374.5,343.7 374.6,317.0 374.7,327.3 374.8,329.4 374.9,327.9 375.0,338.1 375.1,332.5 375.2,339.2 375.3,340.5 375.4,322.1 375.4,346.6 375.5,336.4 375.6,338.3 375.7,314.3 375.8,325.3 375.9,328.0 376.0,342.7 376.1,346.5 376.2,356.9 376.3,337.4 376.3,327.9 376.4,320.1 376.5,333.8 376.6,309.1 376.7,319.4 376.8,324.3 376.9,334.2 377.0,326.2 377.1,324.3 377.2,317.0 377.2,328.0 377.3,316.0 377.4,311.9 377.5,310.0 377.6,331.6 377.7,333.1 377.8,323.1 377.9,320.9 378.0,322.5 378.1,331.6 378.1,334.0 378.2,330.1 378.3,336.4 378.4,331.8 378.5,330.4 378.6,351.6 378.7,326.7 378.8,329.3 378.9,320.8 379.0,332.0 379.0,340.7 379.1,321.2 379.2,316.1 379.3,316.5 379.4,315.8 379.5,310.3 379.6,316.5 379.7,318.8 379.8,335.2 379.9,323.2 379.9,319.4 380.0,319.4 380.1,334.8 380.2,305.2 380.3,332.4 380.4,326.1 380.5,308.2 380.6,303.2 380.7,294.4 380.8,322.8 380.8,311.7 380.9,311.0 381.0,314.1 381.1,319.7 381.2,330.0 381.3,318.5 381.4,309.2 381.5,317.4 381.6,331.8 381.7,334.3 381.7,327.6 381.8,317.5 381.9,346.0 382.0,341.9 382.1,332.9 382.2,346.0 382.3,338.2 382.4,339.1 382.5,323.2 382.6,338.7 382.6,314.0 382.7,323.2 382.8,339.4 382.9,308.5 383.0,320.4 383.1,321.6 383.2,342.9 383.3,309.6 383.4,320.2 383.5,322.9 383.5,330.3 383.6,327.1 383.7,323.2 383.8,316.2 383.9,328.3 384.0,304.9 384.1,335.0 384.2,328.4 384.3,338.3 384.4,307.9 384.4,308.4 384.5,320.0 384.6,321.5 384.7,323.6 384.8,328.4 384.9,329.8 385.0,324.9 385.1,305.0 385.2,300.0 385.3,316.6 385.3,318.6 385.4,326.7 385.5,319.3 385.6,316.6 385.7,324.4 385.8,308.9 385.9,334.9 386.0,337.3 386.1,332.5 386.2,321.0 386.2,340.7 386.3,322.9 386.4,311.3 386.5,314.5 386.6,329.2 386.7,313.2 386.8,309.2 386.9,316.9 387.0,321.2 387.1,320.4 387.1,320.5 387.2,313.1 387.3,331.1 387.4,325.9 387.5,322.3 387.6,310.9 387.7,319.6 387.8,328.1 387.9,334.3 388.0,330.8 388.0,321.8 388.1,338.1 388.2,317.8 388.3,328.0 388.4,323.7 388.5,344.4 388.6,334.1 388.7,332.5 388.8,343.8 388.9,331.9 388.9,319.1 389.0,340.2 389.1,331.0 389.2,341.5 389.3,328.2 389.4,334.2 389.5,333.5 389.6,340.2 389.7,340.1 389.8,342.6 389.8,342.1 389.9,333.9 390.0,332.4 390.1,323.5 390.2,328.0 390.3,310.6 390.4,295.8 390.5,327.4 390.6,318.9 390.7,321.6 390.7,311.8 390.8,310.3 390.9,315.8 391.0,298.0 391.1,308.7 391.2,314.3 391.3,322.3 391.4,305.8 391.5,323.9 391.6,309.4 391.6,347.0 391.7,336.6 391.8,326.1 391.9,331.1 392.0,327.6 392.1,311.6 392.2,348.4 392.3,327.1 392.4,318.3 392.5,325.3 392.5,313.3 392.6,332.0 392.7,311.5 392.8,338.8 392.9,345.3 393.0,317.2 393.1,333.2 393.2,323.8 393.3,333.0 393.4,320.7 393.4,336.0 393.5,317.0 393.6,326.4 393.7,331.2 393.8,341.0 393.9,332.7 394.0,348.7 394.1,326.6 394.2,346.7 394.3,337.1 394.3,338.1 394.4,324.4 394.5,325.2 394.6,333.7 394.7,334.4 394.8,315.9 394.9,312.9 395.0,346.2 395.1,319.9 395.2,331.4 395.2,307.9 395.3,316.8 395.4,316.8 395.5,312.8 395.6,330.6 395.7,333.4 395.8,316.8 395.9,329.3 396.0,304.4 396.1,320.4 396.1,334.7 396.2,340.8 396.3,324.9 396.4,323.8 396.5,328.1 396.6,316.2 396.7,331.8 396.8,323.5 396.9,330.9 397.0,324.4 397.0,313.4 397.1,334.6 397.2,337.8 397.3,335.2 397.4,304.2 397.5,314.1 397.6,320.7 397.7,327.7 397.8,317.4 397.9,325.9 397.9,312.9 398.0,315.8 398.1,321.1 398.2,325.8 398.3,339.2 398.4,327.3 398.5,326.8 398.6,317.4 398.7,328.3 398.8,328.7 398.8,334.0 398.9,341.8 399.0,331.5 399.1,341.5 399.2,328.1 399.3,334.0 399.4,323.1 399.5,321.1 399.6,331.2 399.7,337.1 399.7,335.5 399.8,331.6 399.9,327.2 400.0,349.3 400.1,348.9 400.2,328.4 400.3,337.1 400.4,322.6 400.5,317.7 400.6,335.3 400.6,346.3 400.7,322.1 400.8,326.9 400.9,325.4 401.0,336.5 401.1,324.4 401.2,320.4 401.3,321.5 401.4,316.8 401.5,334.2 401.5,323.0 401.6,323.8 401.7,329.0 401.8,329.2 401.9,328.8 402.0,316.4 402.1,327.3 402.2,316.4 402.3,326.9 402.4,313.3 402.4,322.1 402.5,339.3 402.6,315.3 402.7,321.1 402.8,328.0 402.9,331.1 403.0,340.4 403.1,329.3 403.2,330.2 403.3,335.2 403.3,340.1 403.4,337.5 403.5,337.4 403.6,335.2 403.7,328.0 403.8,333.7 403.9,344.8 404.0,322.3 404.1,321.9 404.2,341.3 404.2,344.6 404.3,345.6 404.4,321.7 404.5,327.9 404.6,319.6 404.7,312.1 404.8,322.3 404.9,324.3 405.0,326.6 405.1,341.4 405.1,343.9 405.2,328.5 405.3,343.1 405.4,336.4 405.5,327.2 405.6,299.2 405.7,334.5 405.8,315.8 405.9,322.3 406.0,325.5 406.0,331.1 406.1,306.3 406.2,323.2 406.3,330.9 406.4,305.0 406.5,337.7 406.6,318.3 406.7,314.1 406.8,324.0 406.9,325.9 406.9,314.1 407.0,333.2 407.1,317.9 407.2,328.1 407.3,314.7 407.4,325.1 407.5,333.8 407.6,336.8 407.7,324.4 407.8,332.2 407.8,310.3 407.9,337.4 408.0,329.5 408.1,323.1 408.2,334.0 408.3,315.1 408.4,339.7 408.5,329.1 408.6,339.8 408.7,331.8 408.7,344.4 408.8,321.7 408.9,330.9 409.0,346.9 409.1,329.3 409.2,339.5 409.3,337.6 409.4,336.5 409.5,310.1 409.6,310.1 409.6,338.8 409.7,341.0 409.8,316.2 409.9,315.7 410.0,338.0 410.1,338.5 410.2,347.5 410.3,332.8 410.4,328.9 410.5,344.0 410.5,340.8 410.6,329.3 410.7,329.5 410.8,331.2 410.9,342.2 411.0,324.5 411.1,326.0 411.2,334.7 411.3,319.3 411.4,335.6 411.4,335.1 411.5,329.8 411.6,322.9 411.7,331.1 411.8,316.8 411.9,322.1 412.0,328.8 412.1,333.6 412.2,324.7 412.3,329.3 412.3,311.4 412.4,322.1 412.5,334.4 412.6,321.8 412.7,307.8 412.8,325.8 412.9,333.8 413.0,326.9 413.1,344.1 413.2,338.3 413.2,348.7 413.3,339.7 413.4,340.2 413.5,335.0 413.6,325.6 413.7,335.9 413.8,332.6 413.9,343.7 414.0,337.1 414.1,338.4 414.1,367.4 414.2,335.6 414.3,362.7 414.4,322.7 414.5,335.9 414.6,335.5 414.7,326.1 414.8,336.6 414.9,329.1 415.0,347.1 415.0,343.8 415.1,337.6 415.2,334.7 415.3,333.9 415.4,336.8 415.5,352.9 415.6,339.3 415.7,338.2 415.8,340.5 415.9,324.4 415.9,342.3 416.0,342.0 416.1,339.8 416.2,326.1 416.3,310.3 416.4,347.3 416.5,331.2 416.6,318.5 416.7,328.0 416.8,347.6 416.8,307.5 416.9,338.8 417.0,326.0 417.1,339.3 417.2,321.0 417.3,344.6 417.4,331.0 417.5,318.7 417.6,335.1 417.7,311.2 417.7,337.0 417.8,338.2 417.9,295.9 418.0,319.6 418.1,330.6 418.2,328.4 418.3,337.1 418.4,347.2 418.5,337.9 418.6,340.5 418.6,352.6 418.7,322.1 418.8,333.0 418.9,316.3 419.0,327.2 419.1,335.0 419.2,327.4 419.3,317.1 419.4,333.9 419.5,340.2 419.5,333.3 419.6,316.7 419.7,316.3 419.8,321.8 419.9,336.0 420.0,315.5 420.1,328.3 420.2,320.5 420.3,340.8 420.4,332.0 420.4,336.2 420.5,320.4 420.6,317.7 420.7,323.0 420.8,344.1 420.9,323.2 421.0,320.3 421.1,333.4 421.2,343.0 421.3,315.5 421.3,327.2 421.4,332.1 421.5,341.0 421.6,325.1 421.7,331.2 421.8,315.3 421.9,309.7 422.0,321.2 422.1,342.3 422.2,324.9 422.2,322.1 422.3,310.8 422.4,313.7 422.5,329.1 422.6,336.9 422.7,325.3 422.8,315.8 422.9,303.5 423.0,311.8 423.1,318.6 423.1,318.4 423.2,323.3 423.3,328.5 423.4,323.6 423.5,340.5 423.6,325.8 423.7,333.9 423.8,327.8 423.9,342.3 424.0,329.6 424.0,328.0 424.1,310.9 424.2,322.5 424.3,320.3 424.4,326.8 424.5,322.2 424.6,330.9 424.7,334.6 424.8,316.2 424.9,323.6 424.9,346.2 425.0,329.9 425.1,328.4 425.2,331.2 425.3,339.3 425.4,346.4 425.5,318.5 425.6,330.4 425.7,342.3 425.8,317.1 425.8,335.4 425.9,330.0 426.0,322.7 426.1,314.1 426.2,327.1 426.3,337.9 426.4,329.2 426.5,323.0 426.6,341.8 426.7,323.1 426.7,355.4 426.8,355.8 426.9,335.9 427.0,324.3 427.1,332.2 427.2,339.9 427.3,329.4 427.4,335.2 427.5,335.2 427.6,310.9 427.6,345.9 427.7,334.8 427.8,323.9 427.9,331.1 428.0,340.4 428.1,332.0 428.2,336.9 428.3,345.1 428.4,327.2 428.5,323.2 428.5,318.0 428.6,339.3 428.7,337.4 428.8,324.0 428.9,334.3 429.0,315.2 429.1,334.1 429.2,352.9 429.3,338.8 429.4,324.9 429.4,338.4 429.5,321.2 429.6,319.0 429.7,305.4 429.8,331.8 429.9,324.4 430.0,311.7 430.1,323.6 430.2,317.8 430.3,324.3 430.3,298.1 430.4,317.0 430.5,320.2 430.6,322.4 430.7,314.9 430.8,309.7 430.9,326.8 431.0,310.8 431.1,311.1 431.2,298.3 431.2,317.0 431.3,327.5 431.4,315.6 431.5,311.9 431.6,306.4 431.7,328.2 431.8,328.0 431.9,313.9 432.0,310.3 432.1,320.4 432.1,321.4 432.2,310.8 432.3,301.2 432.4,316.6 432.5,301.0 432.6,336.6 432.7,318.7 432.8,306.1 432.9,299.7 433.0,305.5 433.0,319.6 433.1,317.7 433.2,297.3 433.3,296.5 433.4,302.2 433.5,301.4 433.6,334.0 433.7,305.8 433.8,304.4 433.9,303.6 433.9,295.9 434.0,307.7 434.1,323.7 434.2,309.7 434.3,312.3 434.4,308.0 434.5,320.5 434.6,326.2 434.7,305.1 434.8,301.0 434.8,320.5 434.9,308.1 435.0,291.8 435.1,313.1 435.2,313.8 435.3,330.0 435.4,324.7 435.5,310.2 435.6,313.6 435.7,302.8 435.7,299.1 435.8,306.2 435.9,312.5 436.0,324.1 436.1,311.9 436.2,318.5 436.3,319.4 436.4,319.3 436.5,335.0 436.6,326.9 436.6,339.8 436.7,325.8 436.8,345.2 436.9,333.8 437.0,331.6 437.1,346.5 437.2,328.5 437.3,324.4 437.4,324.3 437.5,328.5 437.5,334.6 437.6,330.0 437.7,324.0 437.8,334.6 437.9,315.3 438.0,310.6 438.1,346.5 438.2,330.3 438.3,328.1 438.4,343.5 438.4,335.5 438.5,319.6 438.6,324.5 438.7,315.3 438.8,303.8 438.9,331.9 439.0,315.4 439.1,322.1 439.2,324.0 439.3,334.6 439.3,315.9 439.4,314.8 439.5,333.7 439.6,324.2 439.7,316.3 439.8,324.3 439.9,326.2 440.0,327.3 440.1,325.2 440.2,320.5 440.2,309.5 440.3,330.9 440.4,333.7 440.5,328.4 440.6,295.4 440.7,332.5 440.8,324.0 440.9,322.1 441.0,314.9 441.1,339.1 441.1,320.6 441.2,325.3 441.3,304.4 441.4,335.6 441.5,326.5 441.6,313.4 441.7,311.4 441.8,314.3 441.9,309.9 442.0,335.8 442.0,323.3 442.1,331.1 442.2,341.1 442.3,319.3 442.4,303.1 442.5,324.5 442.6,308.6 442.7,315.7 442.8,325.2 442.9,313.8 442.9,310.2 443.0,312.9 443.1,322.8 443.2,348.7 443.3,319.2 443.4,319.3 443.5,315.2 443.6,316.0 443.7,316.9 443.8,317.9 443.8,321.5 443.9,322.7 444.0,323.7 444.1,326.8 444.2,326.5 444.3,330.4 444.4,331.7 444.5,345.1 444.6,339.6 444.7,328.3 444.7,322.3 444.8,330.1 444.9,342.6 445.0,327.4 445.1,326.2 445.2,331.7 445.3,326.0 445.4,324.3 445.5,323.1 445.6,322.3 445.6,316.4 445.7,337.7 445.8,332.2 445.9,328.2 446.0,322.5 446.1,322.8 446.2,330.5 446.3,310.7 446.4,302.3 446.5,324.7 446.5,348.4 446.6,344.4 446.7,326.5 446.8,348.8 446.9,330.9 447.0,330.7 447.1,323.9 447.2,336.6 447.3,341.4 447.4,331.7 447.4,346.8 447.5,360.3 447.6,332.7 447.7,351.2 447.8,340.5 447.9,358.4 448.0,344.0 448.1,332.1 448.2,330.7 448.3,325.1 448.3,353.9 448.4,343.1 448.5,337.9 448.6,339.7 448.7,338.3 448.8,341.2 448.9,334.9 449.0,344.2 449.1,360.8 449.2,331.9 449.2,331.6 449.3,337.5 449.4,330.1 449.5,331.1 449.6,341.5 449.7,341.7 449.8,343.1 449.9,353.3 450.0,352.1 450.1,357.7 450.1,351.5 450.2,337.7 450.3,345.0 450.4,328.2 450.5,343.5 450.6,334.5 450.7,341.0 450.8,349.7 450.9,348.4 451.0,333.4 451.0,328.6 451.1,351.3 451.2,328.8 451.3,337.6 451.4,326.2 451.5,327.5 451.6,335.4 451.7,318.5 451.8,342.9 451.9,321.7 451.9,321.7 452.0,343.7 452.1,329.1 452.2,336.2 452.3,337.3 452.4,342.3 452.5,321.0 452.6,339.3 452.7,340.2 452.8,332.7 452.8,317.5 452.9,330.3 453.0,351.4 453.1,339.6 453.2,347.5 453.3,328.0 453.4,339.9 453.5,329.4 453.6,330.8 453.7,345.3 453.7,336.6 453.8,354.3 453.9,326.0 454.0,341.5 454.1,320.8 454.2,333.6 454.3,334.2 454.4,337.5 454.5,329.5 454.6,345.3 454.6,363.0 454.7,356.1 454.8,342.3 454.9,349.1 455.0,322.7 455.1,338.7 455.2,351.0 455.3,346.6 455.4,338.7 455.5,337.1 455.5,345.4 455.6,338.3 455.7,321.3 455.8,333.3 455.9,348.7 456.0,318.4 456.1,331.0 456.2,351.5 456.3,310.3 456.4,319.1 456.4,325.3 456.5,325.3 456.6,327.7 456.7,309.5 456.8,300.4 456.9,334.5 457.0,316.2 457.1,337.4 457.2,324.4 457.3,323.2 457.3,333.1 457.4,331.9 457.5,333.5 457.6,329.0 457.7,325.2 457.8,341.1 457.9,337.4 458.0,345.4 458.1,326.2 458.2,330.9 458.2,330.1 458.3,322.7 458.4,339.5 458.5,320.5 458.6,343.5 458.7,344.3 458.8,348.8 458.9,355.2 459.0,317.3 459.1,337.6 459.1,339.2 459.2,343.4 459.3,343.7 459.4,330.3 459.5,336.9 459.6,346.7 459.7,340.4 459.8,333.1 459.9,352.2 460.0,334.7 460.0,319.6 460.1,317.8 460.2,335.2 460.3,320.3 460.4,344.7 460.5,329.1 460.6,343.9 460.7,348.5 460.8,339.3 460.9,335.2 460.9,332.4 461.0,332.8 461.1,331.1 461.2,331.5 461.3,355.6 461.4,346.9 461.5,348.7 461.6,348.8 461.7,339.9 461.8,340.3 461.8,344.7 461.9,334.0 462.0,343.6 462.1,322.1 462.2,345.7 462.3,349.3 462.4,332.2 462.5,348.3 462.6,350.6 462.7,339.5 462.7,347.4 462.8,337.1 462.9,347.2 463.0,355.6 463.1,338.3 463.2,333.2 463.3,337.4 463.4,353.4 463.5,345.6 463.6,330.4 463.6,344.1 463.7,326.6 463.8,367.6 463.9,338.2 464.0,341.3 464.1,347.6 464.2,353.2 464.3,353.4 464.4,361.0 464.5,360.9 464.5,334.3 464.6,325.0 464.7,338.9 464.8,323.1 464.9,338.2 465.0,331.5 465.1,337.2 465.2,321.6 465.3,333.0 465.4,318.2 465.4,349.0 465.5,323.2 465.6,323.1 465.7,332.5 465.8,342.0 465.9,311.7 466.0,333.8 466.1,329.4 466.2,338.6 466.3,321.4 466.3,337.8 466.4,325.1 466.5,313.2 466.6,323.7 466.7,325.7 466.8,326.2 466.9,331.4 467.0,311.8 467.1,333.6 467.2,328.1 467.2,320.7 467.3,325.2 467.4,329.7 467.5,330.4 467.6,348.0 467.7,335.7 467.8,351.2 467.9,338.5 468.0,327.8 468.1,326.2 468.1,335.4 468.2,328.9 468.3,337.5 468.4,334.0 468.5,341.6 468.6,332.0 468.7,333.9 468.8,336.8 468.9,309.3 469.0,329.7 469.0,317.2 469.1,334.8 469.2,324.4 469.3,364.0 469.4,343.1 469.5,305.3 469.6,331.7 469.7,335.7 469.8,309.1 469.9,344.1 469.9,331.0 470.0,329.2 470.1,344.6 470.2,324.7 470.3,336.3 470.4,348.8 470.5,318.3 470.6,307.0 470.7,316.4 470.8,331.8 470.8,331.1 470.9,337.2 471.0,334.7 471.1,336.9 471.2,343.9 471.3,340.8 471.4,311.8 471.5,339.0 471.6,333.0 471.7,338.9 471.7,350.8 471.8,352.8 471.9,319.8 472.0,337.3 472.1,311.6 472.2,351.2 472.3,314.7 472.4,341.3 472.5,344.4 472.6,348.3 472.6,349.5 472.7,346.9 472.8,317.8 472.9,349.2 473.0,335.2 473.1,328.6 473.2,316.3 473.3,350.6 473.4,308.1 473.5,329.2 473.5,324.3 473.6,326.3 473.7,338.7 473.8,321.3 473.9,298.7 474.0,330.4 474.1,307.5 474.2,326.3 474.3,334.3 474.4,335.8 474.4,328.2 474.5,343.2 474.6,317.9 474.7,331.7 474.8,356.4 474.9,326.8 475.0,332.0 475.1,332.3 475.2,314.0 475.3,353.9 475.3,334.1 475.4,337.8 475.5,339.7 475.6,328.1 475.7,334.8 475.8,343.0 475.9,335.4 476.0,356.2 476.1,339.1 476.2,340.9 476.2,336.8 476.3,321.8 476.4,330.3 476.5,340.9 476.6,331.9 476.7,334.5 476.8,332.8 476.9,307.2 477.0,323.2 477.1,317.5 477.1,342.4 477.2,333.0 477.3,327.9 477.4,322.3 477.5,315.6 477.6,336.5 477.7,324.7 477.8,324.6 477.9,327.3 478.0,323.5 478.0,314.3 478.1,320.1 478.2,344.7 478.3,333.8 478.4,337.3 478.5,306.7 478.6,348.8 478.7,318.0 478.8,332.8 478.9,325.9 478.9,319.2 479.0,319.1 479.1,313.4 479.2,329.0 479.3,335.9 479.4,308.9 479.5,316.4 479.6,321.3 479.7,304.7 479.8,314.2 479.8,313.7 479.9,310.0 480.0,329.5 480.1,336.1 480.2,319.6 480.3,320.9 480.4,329.6 480.5,330.9 480.6,311.7 480.7,332.6 480.7,316.3 480.8,339.7 480.9,336.9 481.0,312.7 481.1,320.8 481.2,341.3 481.3,322.3 481.4,328.3 481.5,336.6 481.6,340.4 481.6,328.0 481.7,347.4 481.8,329.2 481.9,341.0 482.0,333.2 482.1,327.4 482.2,348.1 482.3,328.7 482.4,311.6 482.5,317.1 482.5,342.7 482.6,333.4 482.7,337.5 482.8,338.6 482.9,317.2 483.0,330.6 483.1,316.9 483.2,337.2 483.3,343.1 483.4,332.2 483.4,343.6 483.5,323.2 483.6,335.6 483.7,327.4 483.8,322.3 483.9,326.8 484.0,329.5 484.1,345.8 484.2,340.7 484.3,330.8 484.3,319.3 484.4,359.7 484.5,331.2 484.6,332.4 484.7,338.3 484.8,342.6 484.9,329.0 485.0,323.4 485.1,336.4 485.2,326.8 485.2,305.6 485.3,336.2 485.4,324.0 485.5,330.0 485.6,330.7 485.7,322.4 485.8,320.0 485.9,317.7 486.0,324.7 486.1,330.0 486.1,334.9 486.2,327.8 486.3,313.5 486.4,316.3 486.5,320.6 486.6,330.4 486.7,321.6 486.8,315.6 486.9,330.2 487.0,305.9 487.0,311.2 487.1,325.9 487.2,329.1 487.3,325.2 487.4,325.0 487.5,326.2 487.6,326.6 487.7,323.2 487.8,314.9 487.9,325.4 487.9,290.5 488.0,326.2 488.1,319.2 488.2,287.6 488.3,316.8 488.4,324.9 488.5,332.7 488.6,325.2 488.7,330.5 488.8,319.2 488.8,343.4 488.9,337.0 489.0,325.8 489.1,322.3 489.2,349.6 489.3,328.4 489.4,325.0 489.5,319.0 489.6,342.6 489.7,352.3 489.7,333.6 489.8,310.7 489.9,330.6 490.0,359.5 490.1,335.8 490.2,329.3 490.3,343.3 490.4,341.3 490.5,336.3 490.6,338.7 490.6,346.1 490.7,349.3 490.8,341.3 490.9,354.0 491.0,343.5 491.1,332.9 491.2,333.5 491.3,338.0 491.4,331.3 491.5,333.0 491.5,336.5 491.6,320.2 491.7,319.5 491.8,304.1 491.9,318.2 492.0,321.9 492.1,313.9 492.2,331.8 492.3,322.7 492.4,326.8 492.4,310.7 492.5,314.2 492.6,329.1 492.7,317.4 492.8,311.0 492.9,320.0 493.0,329.6 493.1,322.4 493.2,329.7 493.3,310.5 493.3,328.4 493.4,307.7 493.5,308.3 493.6,319.1 493.7,302.3 493.8,331.6 493.9,325.5 494.0,311.9 494.1,348.7 494.2,325.8 494.2,324.8 494.3,326.7 494.4,341.3 494.5,331.8 494.6,349.6 494.7,326.6 494.8,340.6 494.9,334.4 495.0,339.6 495.1,346.9 495.1,326.3 495.2,319.1 495.3,324.9 495.4,330.7 495.5,323.3 495.6,313.0 495.7,324.9 495.8,322.6 495.9,329.4 496.0,336.7 496.0,341.8 496.1,334.6 496.2,344.3 496.3,336.9 496.4,325.2 496.5,343.8 496.6,335.7 496.7,329.0 496.8,340.4 496.9,331.2 496.9,334.8 497.0,333.1 497.1,331.0 497.2,333.0 497.3,332.9 497.4,326.1 497.5,322.8 497.6,329.9 497.7,330.8 497.8,313.1 497.8,328.2 497.9,327.1 498.0,328.9 498.1,308.6 498.2,331.2 498.3,313.1 498.4,343.0 498.5,336.2 498.6,315.8 498.7,323.3 498.7,327.0 498.8,327.7 498.9,319.9 499.0,339.0 499.1,344.7 499.2,332.9 499.3,325.4 499.4,341.2 499.5,333.3 499.6,353.4 499.6,318.1 499.7,310.7 499.8,318.5 499.9,324.6 500.0,339.8 500.1,336.8 500.2,325.8 500.3,331.6 500.4,342.4 500.5,317.4 500.5,322.1 500.6,364.0 500.7,340.1 500.8,337.8 500.9,368.0 501.0,336.6 501.1,340.8 501.2,345.4 501.3,350.0 501.4,334.3 501.4,341.0 501.5,346.4 501.6,341.6 501.7,339.6 501.8,335.0 501.9,339.6 502.0,330.8 502.1,342.3 502.2,329.1 502.3,340.4 502.3,350.4 502.4,332.4 502.5,334.8 502.6,338.4 502.7,332.4 502.8,331.5 502.9,334.6 503.0,323.5 503.1,329.7 503.2,337.0 503.2,336.8 503.3,316.1 503.4,321.1 503.5,323.9 503.6,319.8 503.7,318.5 503.8,319.4 503.9,340.0 504.0,332.7 504.1,331.1 504.1,321.8 504.2,336.1 504.3,310.0 504.4,307.0 504.5,317.6 504.6,317.5 504.7,322.7 504.8,322.8 504.9,310.7 505.0,330.1 505.0,328.8 505.1,349.3 505.2,305.6 505.3,316.6 505.4,327.5 505.5,341.3 505.6,349.3 505.7,335.5 505.8,319.5 505.9,322.3 505.9,321.6 506.0,313.5 506.1,312.0 506.2,341.2 506.3,338.2 506.4,325.1 506.5,332.3 506.6,315.4 506.7,336.3 506.8,327.4 506.8,328.3 506.9,333.6 507.0,326.2 507.1,325.4 507.2,345.6 507.3,340.0 507.4,336.6 507.5,336.5 507.6,330.5 507.7,336.5 507.7,340.2 507.8,326.2 507.9,326.9 508.0,345.8 508.1,336.4 508.2,352.5 508.3,346.4 508.4,367.8 508.5,340.8 508.6,346.1 508.6,348.3 508.7,345.4 508.8,341.5 508.9,337.5 509.0,352.3 509.1,354.4 509.2,336.5 509.3,347.5 509.4,325.7 509.5,339.1 509.5,327.5 509.6,337.0 509.7,344.6 509.8,316.5 509.9,334.7 510.0,345.8 510.1,330.9 510.2,338.5 510.3,331.0 510.4,323.0 510.4,330.6 510.5,332.3 510.6,314.7 510.7,336.2 510.8,346.5 510.9,321.7 511.0,311.2 511.1,319.8 511.2,322.6 511.3,319.9 511.3,322.1 511.4,319.4 511.5,321.8 511.6,324.2 511.7,331.0 511.8,326.9 511.9,317.1 512.0,314.4 512.1,340.7 512.2,329.3 512.2,323.9 512.3,321.5 512.4,329.0 512.5,327.7 512.6,315.5 512.7,342.9 512.8,334.8 512.9,305.8 513.0,352.1 513.1,332.1 513.1,320.8 513.2,317.2 513.3,313.0 513.4,324.2 513.5,314.7 513.6,327.5 513.7,330.6 513.8,317.6 513.9,304.0 514.0,321.5 514.0,331.4 514.1,315.8 514.2,342.8 514.3,336.2 514.4,313.6 514.5,337.9 514.6,336.2 514.7,307.0 514.8,319.5 514.9,339.1 514.9,305.5 515.0,322.5 515.1,323.3 515.2,318.3 515.3,329.8 515.4,330.1 515.5,311.6 515.6,352.9 515.7,330.2 515.8,328.6 515.8,321.6 515.9,314.7 516.0,320.3 516.1,328.6 516.2,320.1 516.3,339.9 516.4,326.4 516.5,308.9 516.6,316.2 516.7,310.9 516.7,325.0 516.8,335.6 516.9,326.1 517.0,313.4 517.1,335.4 517.2,315.3 517.3,332.0 517.4,320.5 517.5,332.4 517.6,307.6 517.6,320.5 517.7,324.6 517.8,323.8 517.9,318.4 518.0,330.2 518.1,332.4 518.2,318.2 518.3,328.1 518.4,316.3 518.5,325.3 518.5,327.0 518.6,323.9 518.7,314.9 518.8,330.1 518.9,328.3 519.0,324.3 519.1,344.8 519.2,331.5 519.3,299.3 519.4,328.7 519.4,330.2 519.5,336.3 519.6,328.9 519.7,342.7 519.8,330.2 519.9,335.1 520.0,334.9 520.1,332.7 520.2,336.3 520.3,324.1 520.3,338.6 520.4,325.8 520.5,311.7 520.6,351.1 520.7,318.9 520.8,326.6 520.9,314.7 521.0,320.6 521.1,312.4 521.2,333.2 521.2,301.3 521.3,326.6 521.4,311.3 521.5,317.0 521.6,309.7 521.7,321.1 521.8,314.4 521.9,313.9 522.0,319.7 522.1,318.5 522.1,331.0 522.2,332.9 522.3,321.8 522.4,313.8 522.5,318.3 522.6,310.6 522.7,329.3 522.8,301.0 522.9,313.5 523.0,316.5 523.0,303.7 523.1,310.0 523.2,305.9 523.3,290.8 523.4,317.9 523.5,304.2 523.6,313.2 523.7,306.6 523.8,319.3 523.9,307.6 523.9,325.2 524.0,324.3 524.1,330.4 524.2,316.7 524.3,309.5 524.4,326.6 524.5,314.8 524.6,310.4 524.7,291.0 524.8,330.3 524.8,307.1 524.9,314.8 525.0,309.4 525.1,306.2 525.2,316.4 525.3,307.2 525.4,290.5 525.5,300.5 525.6,291.7 525.7,301.0 525.7,307.3 525.8,308.8 525.9,325.9 526.0,323.8 526.1,294.0 526.2,315.1 526.3,312.1 526.4,317.9 526.5,302.7 526.6,315.3 526.6,315.6 526.7,335.1 526.8,319.0 526.9,304.9 527.0,314.9 527.1,332.1 527.2,325.2 527.3,319.3 527.4,324.6 527.5,323.8 527.5,322.8 527.6,324.0 527.7,321.0 527.8,321.9 527.9,314.1 528.0,319.5 528.1,291.9 528.2,312.8 528.3,323.4 528.4,315.8 528.4,302.0 528.5,311.3 528.6,323.8 528.7,308.7 528.8,307.6 528.9,308.4 529.0,330.2 529.1,342.8 529.2,325.6 529.3,326.3 529.3,332.0 529.4,330.0 529.5,327.4 529.6,324.5 529.7,318.1 529.8,323.4 529.9,323.7 530.0,322.5 530.1,338.3 530.2,301.0 530.2,322.3 530.3,342.6 530.4,349.0 530.5,321.9 530.6,348.5 530.7,330.2 530.8,318.3 530.9,343.5 531.0,336.5 531.1,327.1 531.1,336.8 531.2,323.7 531.3,333.8 531.4,319.8 531.5,335.8 531.6,317.3 531.7,317.6 531.8,355.5 531.9,325.9 532.0,330.1 532.0,345.4 532.1,332.2 532.2,319.5 532.3,327.8 532.4,333.3 532.5,322.0 532.6,341.6 532.7,317.9 532.8,329.6 532.9,331.7 532.9,339.4 533.0,348.0 533.1,332.8 533.2,317.3 533.3,317.9 533.4,323.5 533.5,326.7 533.6,343.8 533.7,347.3 533.8,338.7 533.8,335.0 533.9,318.8 534.0,331.1 534.1,315.4 534.2,315.5 534.3,318.3 534.4,306.9 534.5,314.1 534.6,328.2 534.7,324.9 534.7,325.4 534.8,329.1 534.9,325.4 535.0,295.0 535.1,316.5 535.2,297.7 535.3,321.0 535.4,320.6 535.5,317.0 535.6,324.7 535.6,339.6 535.7,337.6 535.8,332.6 535.9,303.5 536.0,327.7 536.1,305.6 536.2,316.0 536.3,324.6 536.4,311.8 536.5,310.6 536.5,327.0 536.6,316.2 536.7,307.5 536.8,339.4 536.9,324.4 537.0,316.1 537.1,325.7 537.2,331.3 537.3,305.7 537.4,317.5 537.4,333.9 537.5,316.4 537.6,310.7 537.7,330.1 537.8,343.3 537.9,311.0 538.0,338.3 538.1,346.8 538.2,317.6 538.3,321.8 538.3,327.3 538.4,323.7 538.5,326.4 538.6,333.4 538.7,333.9 538.8,322.1 538.9,339.9 539.0,345.4 539.1,336.5 539.2,336.6 539.2,320.3 539.3,328.1 539.4,311.3 539.5,332.1 539.6,322.8 539.7,306.1 539.8,316.7 539.9,301.0 540.0,316.3 540.1,304.2 540.1,318.6 540.2,320.7 540.3,319.3 540.4,307.4 540.5,325.0 540.6,305.5 540.7,312.5 540.8,320.2 540.9,327.9 541.0,343.8 541.0,328.7 541.1,336.4 541.2,339.9 541.3,335.7 541.4,337.2 541.5,338.0 541.6,327.9 541.7,314.8 541.8,340.2 541.9,320.8 541.9,330.3 542.0,343.3 542.1,330.0 542.2,350.0 542.3,329.0 542.4,320.0 542.5,341.0 542.6,321.8 542.7,325.1 542.8,342.9 542.8,336.2 542.9,331.2 543.0,332.7 543.1,342.3 543.2,330.7 543.3,343.6 543.4,342.2 543.5,333.4 543.6,324.4 543.7,320.4 543.7,336.6 543.8,333.3 543.9,328.6 544.0,341.6 544.1,339.7 544.2,308.1 544.3,337.5 544.4,320.5 544.5,335.8 544.6,331.3 544.6,342.4 544.7,319.1 544.8,343.2 544.9,333.3 545.0,336.3 545.1,316.6 545.2,335.6 545.3,318.6 545.4,327.2 545.5,328.9 545.5,322.2 545.6,342.6 545.7,317.8 545.8,343.2 545.9,340.6 546.0,339.4 546.1,336.5 546.2,339.4 546.3,340.9 546.4,338.1 546.4,338.8 546.5,334.8 546.6,340.9 546.7,333.2 546.8,344.3 546.9,345.6 547.0,339.0 547.1,326.6 547.2,342.5 547.3,346.5 547.3,346.4 547.4,331.0 547.5,344.0 547.6,342.3 547.7,312.7 547.8,319.3 547.9,329.4 548.0,335.8 548.1,312.2 548.2,314.2 548.2,330.2 548.3,325.3 548.4,317.2 548.5,316.6 548.6,320.6 548.7,326.1 548.8,321.7 548.9,338.8 549.0,306.2 549.1,329.0 549.1,328.4 549.2,330.0 549.3,308.7 549.4,330.5 549.5,305.3 549.6,305.5 549.7,313.6 549.8,310.3 549.9,315.9 550.0,296.2 550.0,309.3 550.1,313.2 550.2,296.1 550.3,328.3 550.4,316.4 550.5,313.3 550.6,295.3 550.7,303.9 550.8,318.1 550.9,330.8 550.9,311.2 551.0,313.5 551.1,318.2 551.2,301.6 551.3,328.1 551.4,316.6 551.5,318.6 551.6,323.4 551.7,315.6 551.8,303.7 551.8,303.1 551.9,309.4 552.0,312.0 552.1,323.3 552.2,313.2 552.3,336.1 552.4,326.3 552.5,323.9 552.6,316.7 552.7,328.9 552.7,321.7 552.8,321.7 552.9,327.6 553.0,323.0 553.1,335.5 553.2,319.2 553.3,314.5 553.4,326.2 553.5,313.8 553.6,322.5 553.6,324.9 553.7,301.9 553.8,319.4 553.9,324.9 554.0,335.3 554.1,330.8 554.2,338.7 554.3,349.0 554.4,333.4 554.5,333.9 554.5,326.4 554.6,322.3 554.7,318.8 554.8,306.2 554.9,329.6 555.0,336.2 555.1,345.6 555.2,334.4 555.3,328.3 555.4,311.5 555.4,314.5 555.5,309.1 555.6,335.3 555.7,319.9 555.8,313.1 555.9,340.4 556.0,337.0 556.1,333.2 556.2,311.2 556.3,322.2 556.3,316.4 556.4,316.5 556.5,319.3 556.6,308.2 556.7,342.5 556.8,328.8 556.9,312.8 557.0,314.0 557.1,315.8 557.2,317.8 557.2,331.4 557.3,340.7 557.4,332.9 557.5,330.4 557.6,331.2 557.7,333.5 557.8,320.3 557.9,322.1 558.0,328.8 558.1,318.7 558.1,328.3 558.2,325.1 558.3,316.7 558.4,314.7 558.5,325.4 558.6,317.5 558.7,333.7 558.8,326.9 558.9,332.7 559.0,339.8 559.0,323.4 559.1,327.9 559.2,329.3 559.3,330.0 559.4,310.6 559.5,283.4 559.6,314.2 559.7,331.8 559.8,292.4 559.9,308.5 559.9,310.6 560.0,310.2 560.1,330.4 560.2,334.3 560.3,335.8 560.4,333.5 560.5,300.7 560.6,314.5 560.7,339.6 560.8,327.9 560.8,315.1 560.9,324.8 561.0,318.8 561.1,319.6 561.2,326.2 561.3,326.2 561.4,318.3 561.5,311.1 561.6,312.7 561.7,337.7 561.7,316.9 561.8,323.8 561.9,312.7 562.0,338.5 562.1,316.7 562.2,326.6 562.3,325.5 562.4,314.5 562.5,325.8 562.6,328.6 562.6,322.4 562.7,317.9 562.8,325.7 562.9,331.6 563.0,332.6 563.1,346.6 563.2,346.9 563.3,318.5 563.4,336.9 563.5,325.9 563.5,338.2 563.6,316.2 563.7,331.1 563.8,342.8 563.9,320.4 564.0,320.8 564.1,324.0 564.2,321.6 564.3,343.6 564.4,349.8 564.4,312.0 564.5,322.8 564.6,331.9 564.7,333.2 564.8,329.0 564.9,328.6 565.0,346.3 565.1,330.8 565.2,326.6 565.3,336.5 565.3,332.8 565.4,335.5 565.5,343.3 565.6,351.7 565.7,339.6 565.8,336.2 565.9,339.1 566.0,344.8 566.1,329.7 566.2,325.6 566.2,320.2 566.3,333.1 566.4,319.2 566.5,323.3 566.6,318.9 566.7,327.9 566.8,335.1 566.9,324.0 567.0,332.3 567.1,322.8 567.1,328.2 567.2,329.2 567.3,322.0 567.4,303.9 567.5,325.6 567.6,323.4 567.7,304.9 567.8,316.5 567.9,316.7 568.0,315.9 568.0,313.7 568.1,330.8 568.2,326.4 568.3,318.8 568.4,299.9 568.5,288.7 568.6,312.8 568.7,334.5 568.8,310.2 568.9,308.8 568.9,321.6 569.0,306.9 569.1,344.0 569.2,344.0 569.3,309.9 569.4,331.0 569.5,323.6 569.6,339.7 569.7,320.2 569.8,340.3 569.8,324.3 569.9,324.5 570.0,340.1 570.1,325.5 570.2,314.1 570.3,328.9 570.4,311.6 570.5,338.3 570.6,316.2 570.7,316.5 570.7,304.9 570.8,319.4 570.9,339.6 571.0,330.7 571.1,349.6 571.2,329.8 571.3,329.8 571.4,320.3 571.5,338.4 571.6,315.4 571.6,329.4 571.7,331.9 571.8,327.4 571.9,343.0 572.0,313.8 572.1,333.8 572.2,339.0 572.3,318.8 572.4,341.3 572.5,314.3 572.5,343.9 572.6,341.1 572.7,325.5 572.8,346.3 572.9,329.2 573.0,314.4 573.1,305.6 573.2,322.1 573.3,340.7 573.4,350.3 573.4,328.6 573.5,324.2 573.6,329.5 573.7,324.9 573.8,329.3 573.9,328.8 574.0,335.9 574.1,318.5 574.2,328.0 574.3,336.0 574.3,322.4 574.4,334.1 574.5,332.9 574.6,338.8 574.7,333.4 574.8,326.4 574.9,340.0 575.0,354.9 575.1,336.8 575.2,325.7 575.2,340.8 575.3,331.8 575.4,335.8 575.5,329.4 575.6,339.7 575.7,324.6 575.8,312.8 575.9,314.5 576.0,329.6 576.1,323.9 576.1,311.9 576.2,332.1 576.3,334.9 576.4,309.3 576.5,332.1 576.6,315.4 576.7,332.5 576.8,336.5 576.9,333.6 577.0,325.4 577.0,319.6 577.1,315.7 577.2,346.3 577.3,322.5 577.4,338.7 577.5,338.7 577.6,345.4 577.7,322.7 577.8,331.4 577.9,333.1 577.9,310.4 578.0,335.7 578.1,336.3 578.2,323.3 578.3,330.4 578.4,334.5 578.5,324.8 578.6,344.4 578.7,319.7 578.8,327.2 578.8,317.1 578.9,319.0 579.0,333.0 579.1,326.7 579.2,338.0 579.3,336.0 579.4,332.3 579.5,320.5 579.6,334.0 579.7,325.5 579.7,317.7 579.8,327.6 579.9,338.6 580.0,329.2 580.1,323.4 580.2,319.2 580.3,332.6 580.4,337.0 580.5,317.6 580.6,304.9 580.6,331.7 580.7,330.6 580.8,325.1 580.9,332.5 581.0,324.5 581.1,328.7 581.2,307.8 581.3,328.8 581.4,323.5 581.5,332.4 581.5,334.6 581.6,343.0 581.7,330.4 581.8,339.7 581.9,309.7 582.0,322.6 582.1,332.4 582.2,339.0 582.3,328.9 582.4,332.9 582.4,354.7 582.5,333.1 582.6,333.0 582.7,328.8 582.8,316.7 582.9,317.8 583.0,318.9 583.1,295.9 583.2,338.6 583.3,318.0 583.3,331.2 583.4,323.8 583.5,315.8 583.6,311.0 583.7,333.2 583.8,328.1 583.9,315.3 584.0,319.8 584.1,319.9 584.2,309.9 584.2,310.6 584.3,328.0 584.4,319.7 584.5,315.6 584.6,307.2 584.7,326.6 584.8,330.3 584.9,299.8 585.0,320.7 585.1,324.0 585.1,325.1 585.2,334.4 585.3,323.3 585.4,332.8 585.5,327.6 585.6,333.6 585.7,319.1 585.8,319.4 585.9,323.3 586.0,310.9 586.0,319.5 586.1,333.5 586.2,325.2 586.3,332.4 586.4,308.8 586.5,333.3 586.6,321.6 586.7,325.0 586.8,326.0 586.9,316.2 586.9,332.0 587.0,333.4 587.1,320.5 587.2,320.9 587.3,307.4 587.4,310.7 587.5,319.4 587.6,325.8 587.7,309.1 587.8,317.4 587.8,332.4 587.9,301.6 588.0,323.2 588.1,323.5 588.2,325.7 588.3,305.9 588.4,316.9 588.5,314.9 588.6,318.1 588.7,320.9 588.7,325.9 588.8,327.2 588.9,335.8 589.0,320.8 589.1,323.8 589.2,328.7 589.3,323.4 589.4,345.7 589.5,337.5 589.6,320.8 589.6,321.3 589.7,317.0 589.8,318.8 589.9,312.1 590.0,311.5 590.1,311.9 590.2,333.4 590.3,328.9 590.4,322.0 590.5,335.9 590.5,317.4 590.6,330.1 590.7,307.4 590.8,318.5 590.9,322.7 591.0,321.4 591.1,306.7 591.2,336.5 591.3,312.5 591.4,310.5 591.4,327.1 591.5,313.3 591.6,318.2 591.7,325.0 591.8,330.6 591.9,331.6 592.0,321.4 592.1,330.6 592.2,321.1 592.3,338.9 592.3,315.5 592.4,323.6 592.5,308.5 592.6,331.6 592.7,323.2 592.8,334.7 592.9,327.2 593.0,336.5 593.1,330.1 593.2,328.2 593.2,344.7 593.3,341.1 593.4,344.6 593.5,329.8 593.6,336.4 593.7,336.5 593.8,327.6 593.9,342.0 594.0,331.1 594.1,327.4 594.1,316.6 594.2,333.0 594.3,330.8 594.4,314.0 594.5,329.4 594.6,323.8 594.7,328.3 594.8,322.8 594.9,327.2 595.0,346.2 595.0,319.7 595.1,334.8 595.2,325.7 595.3,321.5 595.4,322.3 595.5,327.0 595.6,331.3 595.7,322.6 595.8,328.0 595.9,319.9 595.9,324.1 596.0,340.2 596.1,334.2 596.2,337.1 596.3,333.1 596.4,325.0 596.5,302.6 596.6,317.3 596.7,313.8 596.8,332.8 596.8,328.8 596.9,340.4 597.0,332.6 597.1,324.2 597.2,323.3 597.3,342.5 597.4,324.4 597.5,337.0 597.6,328.9 597.7,348.3 597.7,332.7 597.8,341.9 597.9,332.5 598.0,329.9 598.1,331.6 598.2,344.5 598.3,334.7 598.4,338.9 598.5,338.9 598.6,338.2 598.6,338.1 598.7,327.6 598.8,349.9 598.9,345.6 599.0,347.3 599.1,343.2 599.2,333.0 599.3,326.3 599.4,330.1 599.5,353.3 599.5,332.5 599.6,351.5 599.7,334.5 599.8,330.5 599.9,325.2 600.0,338.0 600.1,326.2 600.2,316.5 600.3,351.8 600.4,327.8 600.4,338.1 600.5,351.5 600.6,333.2 600.7,344.2 600.8,332.7 600.9,322.5 601.0,316.0 601.1,323.5 601.2,335.8 601.3,327.8 601.3,317.0 601.4,321.6 601.5,318.3 601.6,335.2 601.7,335.2 601.8,336.4 601.9,305.0 602.0,311.3 602.1,320.0 602.2,330.6 602.2,330.1 602.3,309.2 602.4,325.4 602.5,307.9 602.6,322.6 602.7,314.5 602.8,326.5 602.9,315.0 603.0,339.5 603.1,300.8 603.1,314.0 603.2,321.0 603.3,314.1 603.4,325.2 603.5,322.9 603.6,334.9 603.7,324.4 603.8,316.4 603.9,306.8 604.0,331.7 604.0,320.1 604.1,304.4 604.2,307.4 604.3,339.4 604.4,307.8 604.5,310.6 604.6,314.0 604.7,320.9 604.8,341.4 604.9,338.2 604.9,316.3 605.0,318.7 605.1,324.5 605.2,317.4 605.3,328.9 605.4,336.8 605.5,317.4 605.6,315.1 605.7,315.1 605.8,327.4 605.8,326.4 605.9,328.9 606.0,324.9 606.1,329.7 606.2,331.6 606.3,331.2 606.4,321.0 606.5,318.5 606.6,317.6 606.7,326.3 606.7,348.2 606.8,329.4 606.9,325.7 607.0,333.3 607.1,338.6 607.2,335.7 607.3,318.7 607.4,321.4 607.5,324.8 607.6,341.6 607.6,330.7 607.7,311.9 607.8,326.2 607.9,329.3 608.0,325.7 608.1,340.9 608.2,340.0 608.3,320.9 608.4,324.9 608.5,320.7 608.5,316.5 608.6,332.6 608.7,331.6 608.8,333.1 608.9,335.0 609.0,324.2 609.1,322.1 609.2,308.8 609.3,330.7 609.4,329.0 609.4,327.7 609.5,335.1 609.6,343.2 609.7,327.5 609.8,319.6 609.9,333.2 610.0,311.2 610.1,303.7 610.2,328.2 610.3,338.7 610.3,326.8 610.4,335.7 610.5,328.2 610.6,334.9 610.7,308.6 610.8,318.3 610.9,338.7 611.0,318.6 611.1,324.5 611.2,337.3 611.2,332.5 611.3,328.7 611.4,317.9 611.5,340.3 611.6,331.9 611.7,319.0 611.8,333.9 611.9,347.6 612.0,333.9 612.1,330.9 612.1,326.0 612.2,336.8 612.3,337.4 612.4,319.0 612.5,331.6 612.6,326.9 612.7,325.2 612.8,326.2 612.9,334.5 613.0,320.6 613.0,340.5 613.1,315.3 613.2,332.4 613.3,311.3 613.4,314.2 613.5,335.9 613.6,324.6 613.7,325.1 613.8,331.2 613.9,313.4 613.9,325.5 614.0,336.1 614.1,326.9 614.2,321.9 614.3,351.8 614.4,326.7 614.5,344.8 614.6,328.3 614.7,320.1 614.8,347.3 614.8,341.1 614.9,334.9 615.0,332.1 615.1,336.4 615.2,331.9 615.3,340.1 615.4,346.4 615.5,352.0 615.6,329.1 615.7,343.1 615.7,319.7 615.8,342.8 615.9,331.4 616.0,347.2 616.1,362.7 616.2,324.7 616.3,337.3 616.4,330.7 616.5,334.7 616.6,348.4 616.6,320.9 616.7,322.5 616.8,332.9 616.9,319.1 617.0,341.4 617.1,351.3 617.2,342.9 617.3,330.1 617.4,325.5 617.5,326.9 617.5,322.4 617.6,316.6 617.7,305.7 617.8,322.2 617.9,323.2 618.0,315.8 618.1,334.5 618.2,326.6 618.3,305.3 618.4,313.5 618.4,324.3 618.5,327.4 618.6,301.4 618.7,336.5 618.8,332.7 618.9,328.9 619.0,310.1 619.1,321.6 619.2,327.7 619.3,317.2 619.3,323.7 619.4,328.4 619.5,333.7 619.6,331.1 619.7,333.0 619.8,311.4 619.9,312.6 620.0,336.8 620.1,329.9 620.2,321.6 620.2,323.3 620.3,329.6 620.4,338.5 620.5,320.4 620.6,323.6 620.7,307.6 620.8,336.8 620.9,329.5 621.0,333.1 621.1,337.0 621.1,333.8 621.2,320.7 621.3,323.8 621.4,334.7 621.5,342.5 621.6,323.7 621.7,324.3 621.8,320.2 621.9,320.9 622.0,336.3 622.0,312.3 622.1,330.9 622.2,314.0 622.3,324.4 622.4,326.3 622.5,323.7 622.6,344.0 622.7,333.0 622.8,354.7 622.9,343.0 622.9,345.7" fill="none" stroke="#000" stroke-width="1.9" stroke-linejoin="round"/>
<path d="M118.2,303.5 L180.9,54" stroke="#000" stroke-width="4.4" stroke-linecap="round"/>
<path d="M177.2,56.3 L180.9,51.9 L183.5,57.8 L184.6,64.5 L185,73.4 L185.2,84.5 L186.1,91.9 L186.9,110 L183.5,110 L182.8,84.5 L181.5,84 L180.4,83 L179.3,75.6 L176.9,83 L176.1,88.9 L173.2,95.6 L170.9,110 L165.7,110 L168,96.3 L170.2,87.4 L172.4,81.5 L174.6,68.2 Z" fill="#000"/>
<path d="M184.6,100 L185.3,110 L186.3,150 L187.4,210 L188.3,255" fill="none" stroke="#000" stroke-width="3.0" stroke-linecap="round" stroke-linejoin="round"/>
<polyline points="115.6,342.0 116.0,330.0 116.8,316.0 118.9,304.0 119.8,310.0 120.0,309.1 120.1,303.7 120.3,301.7 120.4,305.3 120.6,307.1 120.8,298.3 120.9,303.6 121.1,307.0 121.2,297.5 121.4,292.6 121.6,292.0 121.7,300.0 121.9,298.6 122.0,303.1 122.2,300.5 122.4,288.8 122.5,287.2 122.7,287.8 122.8,285.9 123.0,294.5 123.2,296.7 123.3,296.7 123.5,284.5 123.6,294.8 123.8,284.2 124.0,285.5 124.1,290.4 124.3,278.2 124.4,277.6 124.6,290.3 124.8,279.9 124.9,280.4 125.1,283.8 125.2,284.8 125.4,272.1 125.6,277.4 125.7,278.5 125.9,278.8 126.0,273.2 126.2,279.3 126.4,285.3 126.5,274.4 126.7,276.5 126.8,268.2 127.0,270.4 127.2,276.8 127.3,266.1 127.5,279.4 127.6,279.2 127.8,263.9 128.0,278.4 128.1,267.6 128.3,274.1 128.4,273.2 128.6,264.2 128.8,270.4 128.9,269.3 129.1,271.4 129.2,261.0 129.4,269.2 129.6,272.2 129.7,266.4 129.9,263.3 130.0,255.0 130.2,261.2 130.4,258.0 130.5,263.9 130.7,262.5 130.8,259.9 131.0,252.3 131.2,260.0 131.3,259.1 131.5,250.3 131.6,262.4 131.8,257.5 132.0,247.3 132.1,261.2 132.3,246.3 132.4,249.1 132.6,255.4 132.8,252.5 132.9,251.1 133.1,252.1 133.2,248.1 133.4,244.8 133.6,241.7 133.7,239.1 133.9,250.1 134.0,250.1 134.2,245.6 134.4,248.5 134.5,241.0 134.7,238.7 134.8,240.1 135.0,248.3 135.2,232.7 135.3,240.4 135.5,235.1 135.6,243.8 135.8,235.7 136.0,234.6 136.1,235.2 136.3,237.1 136.4,240.6 136.6,232.4 136.8,240.6 136.9,226.7 137.1,228.9 137.2,225.2 137.4,224.8 137.6,236.1 137.7,234.5 137.9,224.1 138.0,223.5 138.2,226.9 138.4,232.2 138.5,232.8 138.7,231.0 138.8,227.5 139.0,218.8 139.2,222.7 139.3,218.3 139.5,223.7 139.6,223.8 139.8,216.5 140.0,216.7 140.1,225.6 140.3,211.4 140.4,224.7 140.6,225.6 140.8,226.0 140.9,215.2 141.1,217.6 141.2,217.5 141.4,217.7 141.6,223.2 141.7,217.4 141.9,209.7 142.0,219.2 142.2,211.7 142.4,213.2 142.5,214.8 142.7,201.1 142.8,214.3 143.0,211.7 143.2,207.9 143.3,207.8 143.5,206.1 143.6,200.6 143.8,206.0 144.0,196.5 144.1,204.1 144.3,206.1 144.4,201.8 144.6,203.4 144.8,209.8 144.9,207.9 145.1,193.6 145.2,204.8 145.4,201.1 145.6,190.1 145.7,195.0 145.9,192.1 146.0,188.7 146.2,196.3 146.4,202.7 146.5,191.1 146.7,200.3 146.8,196.5 147.0,185.7 147.2,198.1 147.3,192.8 147.5,198.0 147.6,193.6 147.8,193.3 148.0,185.6 148.1,193.2 148.3,194.8 148.4,192.9 148.6,184.6 148.8,189.7 148.9,184.2 149.1,176.7 149.2,174.9 149.4,174.9 149.6,176.4 149.7,175.0 149.9,180.4 150.0,183.4 150.2,179.8 150.4,177.1 150.5,180.5 150.7,173.7 150.8,175.9 151.0,180.5 151.2,173.5 151.3,168.8 151.5,181.1 151.6,177.2 151.8,170.2 152.0,169.6 152.1,171.8 152.3,172.4 152.4,165.0 152.6,160.4 152.8,163.4 152.9,173.1 153.1,160.9 153.2,166.0 153.4,160.5 153.6,160.1 153.7,158.8 153.9,162.3 154.0,157.4 154.2,154.2 154.4,155.1 154.5,155.5 154.7,160.6 154.8,152.2 155.0,150.9 155.2,157.9 155.3,156.5 155.5,161.2 155.6,148.8 155.8,154.4 156.0,153.7 156.1,146.3 156.3,162.6 156.4,148.5 156.6,145.6 156.8,151.8 156.9,145.5 157.1,153.1 157.2,147.5 157.4,142.8 157.6,140.9 157.7,152.4 157.9,143.6 157.5,145.5 158.0,160.0 158.4,172.0 158.7,184.0 159.1,175.0 159.5,162.0 160.0,158.0 160.5,170.0 160.9,176.0 161.4,165.0 161.9,157.0 162.4,152.0 162.9,162.0 163.4,172.0 163.8,176.0 164.3,165.0 164.8,152.0 165.2,150.0 165.6,165.0 166.0,172.0 166.4,158.0 166.8,147.0 167.3,155.0 167.8,164.0 168.3,168.0 168.8,156.0 169.3,146.0 169.8,141.0 170.3,152.0 170.7,160.0 171.1,146.0 171.6,133.0 172.1,142.0 172.6,152.0 173.0,140.0 173.5,128.0 173.9,134.0 174.3,126.0 174.6,122.0 175.0,128.0 175.4,136.0 175.6,128.0 176.0,140.0 176.4,152.0 176.8,165.0 177.2,180.0 177.5,195.0 177.7,210.0 177.9,225.0 178.3,238.0 178.7,228.0 179.2,245.0 179.7,236.0 180.2,258.0 180.9,272.0 181.4,250.0 181.9,238.0 182.5,233.0 183.0,250.0 183.6,243.0 184.2,258.0 185.0,262.0 186.0,280.0 186.1,285.1 186.2,282.3 186.3,284.4 186.4,291.2 186.5,291.8 186.5,286.3 186.6,279.8 186.7,283.0 186.8,285.1 186.9,276.4 187.0,276.4 187.1,283.3 187.2,278.8 187.3,279.2 187.4,285.1 187.4,282.7 187.5,277.0 187.6,277.3 187.7,285.4 187.8,277.8 187.9,283.6 188.0,284.0 188.1,276.4 188.2,285.7 188.3,285.7 188.3,274.1 188.4,284.2 188.5,273.1 188.6,278.8 188.7,276.6 188.8,270.6 188.9,293.9 189.0,283.6 189.1,285.3 189.2,268.1 189.2,270.3 189.3,276.4 189.4,275.4 189.5,281.2 189.6,284.6 189.7,282.7 189.8,278.7 189.9,287.4 190.0,283.4 190.1,279.3 190.1,288.5 190.2,279.8 190.3,292.6 190.4,271.9 190.5,277.5 190.6,272.1 190.7,278.8 190.8,287.8 190.9,274.9 191.0,277.1 191.0,287.3 191.1,288.1 191.2,278.3 191.3,282.1 191.4,278.9 191.5,289.5 191.6,282.2 191.7,280.7 191.8,287.3 191.9,291.0 191.9,291.1 192.0,289.0 192.1,284.1 192.2,276.3 192.3,275.6 192.4,278.8 192.5,293.0 192.6,289.4 192.7,278.9 192.8,275.8 192.8,280.9 192.9,288.5 193.0,297.0 193.1,287.3 193.2,286.0 193.3,280.7 193.4,284.7 193.5,283.1 193.6,292.6 193.7,280.7 193.7,281.2 193.8,277.1 193.9,277.0 194.0,277.8 194.1,282.3 194.2,288.3 194.3,290.9 194.4,295.8 194.5,293.6 194.6,292.4 194.6,289.1 194.7,283.8 194.8,304.0 194.9,288.1 195.0,292.5 195.1,300.0 195.2,292.3 195.3,284.2 195.4,281.8 195.5,285.3 195.5,290.5 195.6,285.7 195.7,290.3 195.8,281.8 195.9,282.7 196.0,293.2 196.1,272.8 196.2,297.3 196.3,287.0 196.4,294.0 196.4,278.7 196.5,292.4 196.6,280.4 196.7,288.6 196.8,290.2 196.9,294.4 197.0,281.9 197.1,290.7 197.2,295.9 197.3,288.2 197.3,280.5 197.4,287.5 197.5,283.6 197.6,277.5 197.7,286.8 197.8,288.4 197.9,283.0 198.0,289.2 198.1,290.2 198.2,289.2 198.2,281.5 198.3,293.6 198.4,288.2 198.5,284.5 198.6,286.9 198.7,291.8 198.8,296.8 198.9,297.1 199.0,280.9 199.1,287.6 199.1,300.3 199.2,291.5 199.3,285.5 199.4,280.6 199.5,285.6 199.6,278.7 199.7,285.0 199.8,272.3 199.9,283.3 200.0,281.0 200.0,297.8 200.1,291.9 200.2,281.7 200.3,290.2 200.4,291.0 200.5,279.5 200.6,276.5 200.7,296.7 200.8,284.8 200.9,284.1 200.9,289.8 201.0,284.4 201.1,287.4 201.2,278.4 201.3,283.3 201.4,278.9 201.5,297.1 201.6,294.2 201.7,284.1 201.8,289.5 201.8,287.2 201.9,276.4 202.0,280.8 202.1,274.9 202.2,288.5 202.3,274.8 202.4,278.2 202.5,280.1 202.6,278.4 202.7,269.7 202.7,267.6 202.8,287.5 202.9,271.6 203.0,279.2 203.1,289.9 203.2,287.5 203.3,280.9 203.4,278.6 203.5,287.7 203.6,278.5 203.6,290.7 203.7,286.0 203.8,270.9 203.9,272.0 204.0,289.8 204.1,274.2 204.2,282.8 204.3,281.1 204.4,276.4 204.5,278.2 204.5,288.7 204.6,284.5 204.7,287.2 204.8,287.9 204.9,293.8 205.0,282.3 205.1,275.9 205.2,281.6 205.3,273.6 205.4,270.8 205.4,281.3 205.5,283.4 205.6,292.1 205.7,279.7 205.8,274.5 205.9,268.9 206.0,284.3 206.1,273.9 206.2,280.9 206.3,279.8 206.3,282.2 206.4,279.5 206.5,276.4 206.6,269.9 206.7,283.9 206.8,277.5 206.9,281.4 207.0,279.9 207.1,289.7 207.2,280.0 207.2,280.1 207.3,269.8 207.4,286.7 207.5,276.4 207.6,281.1 207.7,283.1 207.8,284.0 207.9,289.0 208.0,282.3 208.1,287.2 208.1,291.7 208.2,283.5 208.3,295.0 208.4,295.8 208.5,281.4 208.6,279.4 208.7,280.8 208.8,284.9 208.9,298.1 209.0,279.7 209.0,278.1 209.1,283.8 209.2,289.1 209.3,289.9 209.4,284.0 209.5,291.3 209.6,284.6 209.7,292.5 209.8,286.0 209.9,306.9 209.9,286.8 210.0,287.9 210.1,291.0 210.2,285.9 210.3,287.3 210.4,296.8 210.5,291.8 210.6,291.0 210.7,305.7 210.8,299.2 210.8,289.4 210.9,296.0 211.0,297.3 211.1,292.9 211.2,292.0 211.3,292.7 211.4,299.6 211.5,294.4 211.6,299.4 211.7,290.6 211.7,289.5 211.8,290.2 211.9,296.9 212.0,298.0 212.1,298.1 212.2,290.4 212.3,295.6 212.4,293.9 212.5,300.5 212.6,299.6 212.6,288.3 212.7,299.0 212.8,306.5 212.9,302.8 213.0,299.8 213.1,289.7 213.2,291.8 213.3,301.8 213.4,289.7 213.5,296.3 213.5,302.2 213.6,313.8 213.7,307.9 213.8,302.0 213.9,299.2 214.0,297.8 214.1,300.5 214.2,309.1 214.3,312.0 214.4,307.2 214.4,304.0 214.5,311.6 214.6,313.9 214.7,306.1 214.8,303.3 214.9,304.8 215.0,291.0 215.1,311.3 215.2,317.4 215.3,302.0 215.3,301.3 215.4,306.4 215.5,322.0 215.6,313.9 215.7,310.9 215.8,318.7 215.9,313.1 216.0,303.3 216.1,303.2 216.2,297.3 216.2,302.2 216.3,308.2 216.4,309.8 216.5,305.5 216.6,319.3 216.7,297.1 216.8,305.2 216.9,310.4 217.0,306.7 217.1,304.7 217.1,315.7 217.2,316.4 217.3,306.9 217.4,322.8 217.5,322.4 217.6,318.4 217.7,307.5 217.8,319.6 217.9,310.6 218.0,317.0 218.0,318.5 218.1,307.0 218.2,303.2 218.3,305.4 218.4,305.7 218.5,302.6 218.6,298.4 218.7,316.2 218.8,306.0 218.9,314.4 218.9,315.1 219.0,312.9 219.1,308.4 219.2,316.0 219.3,297.6 219.4,301.3 219.5,300.9 219.6,313.2 219.7,294.8 219.8,313.1 219.8,311.5 219.9,316.6 220.0,314.7 220.1,312.9 220.2,309.0 220.3,308.0 220.4,301.9 220.5,313.2 220.6,319.6 220.7,317.4 220.7,310.9 220.8,309.1 220.9,317.5 221.0,328.2 221.1,312.3 221.2,305.0 221.3,325.0 221.4,315.3 221.5,305.9 221.6,322.3 221.6,299.9 221.7,322.1 221.8,298.1 221.9,305.2 222.0,301.6 222.1,303.7 222.2,300.9 222.3,306.7 222.4,294.2 222.5,313.4 222.5,313.8 222.6,309.2 222.7,304.2 222.8,296.7 222.9,301.3 223.0,296.5 223.1,296.5 223.2,307.4 223.3,295.6 223.4,306.2 223.4,305.5 223.5,309.7 223.6,304.9 223.7,312.1 223.8,309.7 223.9,302.8 224.0,303.3 224.1,305.4 224.2,295.0 224.3,300.8 224.3,291.8 224.4,306.7 224.5,299.2 224.6,305.3 224.7,305.0 224.8,314.1 224.9,303.7 225.0,318.5 225.1,312.7 225.2,308.8 225.2,310.3 225.3,308.4 225.4,309.8 225.5,313.9 225.6,306.0 225.7,316.6 225.8,311.0 225.9,302.8 226.0,320.1 226.1,316.8 226.1,311.2 226.2,332.1 226.3,304.8 226.4,312.5 226.5,308.1 226.6,309.5 226.7,312.0 226.8,317.9 226.9,299.7 227.0,320.7 227.0,317.5 227.1,317.4 227.2,322.1 227.3,310.2 227.4,309.6 227.5,322.1 227.6,316.7 227.7,331.2 227.8,318.8 227.9,328.5 227.9,319.6 228.0,308.9 228.1,330.8 228.2,323.6 228.3,308.4 228.4,317.4 228.5,315.2 228.6,315.8 228.7,314.9 228.8,318.0 228.8,327.0 228.9,325.8 229.0,321.0 229.1,330.2 229.2,321.2 229.3,325.5 229.4,317.7 229.5,315.1 229.6,313.7 229.7,310.1 229.7,324.1 229.8,320.5 229.9,317.3 230.0,315.3 230.1,311.2 230.2,333.5 230.3,316.9 230.4,313.9 230.5,324.5 230.6,324.6 230.6,318.3 230.7,304.4 230.8,316.3 230.9,320.0 231.0,316.6 231.1,316.5 231.2,326.7 231.3,301.1 231.4,317.0 231.5,325.3 231.5,298.3 231.6,314.0 231.7,325.0 231.8,327.0 231.9,315.0 232.0,326.9 232.1,320.1 232.2,319.2 232.3,323.2 232.4,317.0 232.4,303.6 232.5,326.0 232.6,306.4 232.7,306.0 232.8,320.1 232.9,319.4 233.0,311.5 233.1,315.5 233.2,314.4 233.3,323.4 233.3,306.9 233.4,308.3 233.5,322.1 233.6,312.3 233.7,326.1 233.8,311.0 233.9,319.0 234.0,307.8 234.1,318.4 234.2,311.4 234.2,326.5 234.3,307.6 234.4,313.8 234.5,307.9 234.6,315.7 234.7,308.6 234.8,312.9 234.9,298.6 235.0,307.6 235.1,309.6 235.1,304.0 235.2,305.2 235.3,306.0 235.4,314.2 235.5,302.5 235.6,319.5 235.7,307.0 235.8,305.1 235.9,317.2 236.0,309.6 236.0,316.6 236.1,311.9 236.2,295.8 236.3,310.0 236.4,319.0 236.5,317.0 236.6,317.2 236.7,309.3 236.8,312.3 236.9,307.1 236.9,307.5 237.0,304.2 237.1,320.5 237.2,330.6 237.3,316.8 237.4,317.6 237.5,314.5 237.6,312.8 237.7,312.8 237.8,312.6 237.8,328.7 237.9,311.7 238.0,324.7 238.1,317.8 238.2,307.2 238.3,312.7 238.4,326.6 238.5,323.2 238.6,317.4 238.7,317.1 238.7,315.3 238.8,307.3 238.9,314.9 239.0,318.8 239.1,310.8 239.2,323.5 239.3,314.3 239.4,316.6 239.5,321.5 239.6,317.7 239.6,328.0 239.7,319.7 239.8,329.0 239.9,329.8 240.0,326.6 240.1,324.1 240.2,313.6 240.3,329.6 240.4,319.3 240.5,332.0 240.5,318.4 240.6,324.2 240.7,334.4 240.8,325.3 240.9,318.5 241.0,306.7 241.1,320.6 241.2,319.0 241.3,326.4 241.4,324.9 241.4,319.3 241.5,319.8 241.6,303.6 241.7,317.1 241.8,318.8 241.9,323.3 242.0,317.8 242.1,326.8 242.2,325.0 242.3,320.1 242.3,313.2 242.4,317.0 242.5,312.2 242.6,309.1 242.7,325.9 242.8,310.5 242.9,313.8 243.0,316.9 243.1,320.2 243.2,317.5 243.2,319.7 243.3,329.2 243.4,322.2 243.5,294.8 243.6,293.9 243.7,307.7 243.8,315.3 243.9,323.8 244.0,312.2 244.1,316.6 244.1,309.5 244.2,326.4 244.3,320.5 244.4,308.6 244.5,312.2 244.6,324.9 244.7,322.1 244.8,328.7 244.9,321.3 245.0,319.5 245.0,319.4 245.1,329.2 245.2,298.2 245.3,307.6 245.4,324.3 245.5,310.9 245.6,316.4 245.7,305.2 245.8,308.4 245.9,323.9 245.9,324.5 246.0,312.4 246.1,316.1 246.2,321.0 246.3,321.3 246.4,342.8 246.5,324.5 246.6,300.0 246.7,328.9 246.8,314.4 246.8,312.9 246.9,314.0 247.0,322.5 247.1,326.6 247.2,341.6 247.3,335.3 247.4,332.9 247.5,328.3 247.6,345.4 247.7,319.6 247.7,322.9 247.8,337.8 247.9,336.5 248.0,334.3 248.1,325.0 248.2,331.3 248.3,341.0 248.4,347.0 248.5,327.9 248.6,336.4 248.6,333.8 248.7,314.4 248.8,343.2 248.9,333.4 249.0,334.3 249.1,318.0 249.2,326.0 249.3,338.9 249.4,321.1 249.5,328.4 249.5,325.2 249.6,328.1 249.7,325.4 249.8,327.5 249.9,326.6 250.0,318.1 250.1,324.3 250.2,341.3 250.3,324.4 250.4,314.0 250.4,329.1 250.5,339.5 250.6,320.8 250.7,314.4 250.8,307.7 250.9,319.9 251.0,321.0 251.1,330.9 251.2,316.8 251.3,324.8 251.3,338.4 251.4,317.3 251.5,319.1 251.6,322.9 251.7,314.7 251.8,315.8 251.9,317.5 252.0,316.5 252.1,310.0 252.2,325.3 252.2,319.5 252.3,316.3 252.4,336.2 252.5,323.4 252.6,321.9 252.7,323.2 252.8,302.5 252.9,332.1 253.0,322.4 253.1,333.0 253.1,330.5 253.2,313.8 253.3,337.2 253.4,328.1 253.5,339.7 253.6,341.0 253.7,330.7 253.8,325.2 253.9,335.0 254.0,329.3 254.0,309.7 254.1,336.8 254.2,342.0 254.3,325.8 254.4,322.4 254.5,323.4 254.6,314.6 254.7,323.8 254.8,321.5 254.9,330.3 254.9,334.2 255.0,317.0 255.1,323.9 255.2,332.5 255.3,314.9 255.4,324.5 255.5,309.9 255.6,327.5 255.7,327.7 255.8,308.8 255.8,337.5 255.9,315.0 256.0,314.9 256.1,323.5 256.2,322.1 256.3,328.1 256.4,326.7 256.5,313.5 256.6,327.5 256.7,305.6 256.7,315.9 256.8,325.3 256.9,322.6 257.0,309.5 257.1,310.2 257.2,312.3 257.3,323.9 257.4,334.0 257.5,319.3 257.6,313.9 257.6,311.8 257.7,313.5 257.8,312.3 257.9,300.0 258.0,313.7 258.1,317.0 258.2,329.2 258.3,321.8 258.4,331.5 258.5,314.6 258.5,322.2 258.6,314.7 258.7,330.0 258.8,324.3 258.9,311.4 259.0,308.6 259.1,307.1 259.2,312.9 259.3,304.0 259.4,325.1 259.4,324.4 259.5,309.4 259.6,305.3 259.7,306.5 259.8,313.1 259.9,328.7 260.0,325.4 260.1,293.1 260.2,316.4 260.3,319.4 260.3,296.6 260.4,320.0 260.5,309.4 260.6,295.1 260.7,328.5 260.8,324.3 260.9,318.9 261.0,339.8 261.1,324.2 261.2,329.0 261.2,329.9 261.3,316.0 261.4,325.1 261.5,324.5 261.6,318.3 261.7,321.3 261.8,329.2 261.9,320.7 262.0,332.8 262.1,315.3 262.1,319.6 262.2,324.2 262.3,341.1 262.4,322.3 262.5,318.4 262.6,334.1 262.7,306.3 262.8,335.4 262.9,328.2 263.0,308.6 263.0,314.0 263.1,327.2 263.2,329.2 263.3,325.7 263.4,319.5 263.5,321.7 263.6,337.9 263.7,335.6 263.8,314.3 263.9,347.6 263.9,333.4 264.0,323.3 264.1,330.8 264.2,315.0 264.3,333.8 264.4,328.3 264.5,336.3 264.6,311.4 264.7,338.5 264.8,323.3 264.8,317.5 264.9,321.5 265.0,330.1 265.1,329.2 265.2,327.9 265.3,327.5 265.4,319.7 265.5,320.9 265.6,319.3 265.6,330.5 265.7,339.4 265.8,316.4 265.9,332.5 266.0,312.0 266.1,338.4 266.2,327.1 266.3,324.5 266.4,314.1 266.5,315.8 266.5,332.1 266.6,332.6 266.7,338.0 266.8,313.2 266.9,309.7 267.0,323.8 267.1,326.1 267.2,321.5 267.3,313.5 267.4,325.5 267.4,327.1 267.5,324.7 267.6,321.1 267.7,326.9 267.8,334.8 267.9,326.9 268.0,314.1 268.1,336.1 268.2,326.3 268.3,325.9 268.3,318.7 268.4,319.9 268.5,306.6 268.6,316.4 268.7,315.8 268.8,331.7 268.9,336.1 269.0,340.2 269.1,310.4 269.2,321.0 269.2,325.8 269.3,338.1 269.4,334.5 269.5,339.7 269.6,330.2 269.7,320.6 269.8,340.6 269.9,327.2 270.0,332.7 270.1,339.2 270.1,336.4 270.2,318.5 270.3,329.4 270.4,318.2 270.5,348.2 270.6,343.4 270.7,337.8 270.8,312.6 270.9,328.5 271.0,339.2 271.0,331.9 271.1,314.8 271.2,317.6 271.3,322.2 271.4,325.1 271.5,309.2 271.6,322.9 271.7,312.1 271.8,332.3 271.9,323.7 271.9,329.6 272.0,317.5 272.1,324.4 272.2,324.7 272.3,328.6 272.4,318.2 272.5,321.8 272.6,301.9 272.7,318.1 272.8,323.5 272.8,324.9 272.9,325.7 273.0,320.2 273.1,321.5 273.2,336.6 273.3,329.0 273.4,321.7 273.5,316.6 273.6,317.2 273.7,320.8 273.7,313.0 273.8,333.7 273.9,332.8 274.0,349.1 274.1,327.7 274.2,319.3 274.3,324.6 274.4,329.8 274.5,334.3 274.6,323.7 274.6,323.1 274.7,313.8 274.8,313.2 274.9,325.2 275.0,326.1 275.1,311.5 275.2,327.1 275.3,310.6 275.4,332.3 275.5,315.9 275.5,316.7 275.6,340.5 275.7,328.5 275.8,331.0 275.9,330.0 276.0,324.8 276.1,339.1 276.2,341.3 276.3,329.7 276.4,338.9 276.4,327.9 276.5,330.4 276.6,330.0 276.7,329.9 276.8,324.1 276.9,341.8 277.0,335.1 277.1,345.1 277.2,330.7 277.3,329.9 277.3,340.8 277.4,343.9 277.5,329.6 277.6,325.8 277.7,339.1 277.8,347.1 277.9,330.5 278.0,336.5 278.1,328.2 278.2,345.4 278.2,324.2 278.3,332.6 278.4,343.0 278.5,332.1 278.6,314.8 278.7,350.7 278.8,322.7 278.9,345.7 279.0,331.4 279.1,332.9 279.1,325.5 279.2,327.0 279.3,338.0 279.4,316.4 279.5,326.5 279.6,321.9 279.7,336.7 279.8,333.3 279.9,329.6 280.0,329.0 280.0,354.1 280.1,331.7 280.2,340.1 280.3,320.9 280.4,319.6 280.5,324.6 280.6,325.1 280.7,324.1 280.8,322.4 280.9,324.0 280.9,327.2 281.0,328.3 281.1,335.3 281.2,335.8 281.3,333.5 281.4,327.4 281.5,325.5 281.6,327.2 281.7,318.5 281.8,339.2 281.8,333.0 281.9,329.4 282.0,320.1 282.1,323.5 282.2,333.5 282.3,325.5 282.4,334.3 282.5,346.5 282.6,317.3 282.7,294.9 282.7,324.6 282.8,308.7 282.9,322.8 283.0,323.1 283.1,319.5 283.2,327.9 283.3,316.5 283.4,332.3 283.5,317.0 283.6,317.5 283.6,329.2 283.7,337.3 283.8,317.2 283.9,322.7 284.0,322.3 284.1,331.2 284.2,326.8 284.3,319.7 284.4,313.4 284.5,342.5 284.5,324.8 284.6,342.5 284.7,323.5 284.8,334.2 284.9,328.0 285.0,331.8 285.1,322.3 285.2,317.6 285.3,324.8 285.4,309.7 285.4,325.3 285.5,307.5 285.6,324.7 285.7,322.7 285.8,302.9 285.9,319.0 286.0,324.6 286.1,328.8 286.2,309.7 286.3,317.7 286.3,316.4 286.4,335.2 286.5,326.3 286.6,333.3 286.7,330.1 286.8,323.6 286.9,339.3 287.0,320.4 287.1,315.9 287.2,319.2 287.2,322.9 287.3,347.1 287.4,338.9 287.5,331.7 287.6,336.6 287.7,347.6 287.8,345.1 287.9,306.6 288.0,323.5 288.1,326.5 288.1,326.0 288.2,334.7 288.3,318.0 288.4,328.9 288.5,331.9 288.6,324.1 288.7,312.4 288.8,317.9 288.9,333.7 289.0,347.9 289.0,304.2 289.1,331.9 289.2,326.4 289.3,322.4 289.4,326.1 289.5,323.1 289.6,318.8 289.7,309.9 289.8,323.2 289.9,316.7 289.9,311.9 290.0,331.1 290.1,331.4 290.2,340.7 290.3,330.3 290.4,322.8 290.5,316.5 290.6,334.4 290.7,318.1 290.8,323.6 290.8,326.6 290.9,326.8 291.0,337.1 291.1,324.0 291.2,334.9 291.3,327.1 291.4,327.7 291.5,319.6 291.6,321.7 291.7,326.9 291.7,319.9 291.8,333.3 291.9,336.4 292.0,322.8 292.1,321.0 292.2,315.3 292.3,317.9 292.4,327.6 292.5,324.1 292.6,318.9 292.6,309.4 292.7,318.6 292.8,313.7 292.9,341.0 293.0,299.3 293.1,341.5 293.2,336.2 293.3,325.2 293.4,312.4 293.5,312.5 293.5,305.1 293.6,299.7 293.7,335.3 293.8,304.4 293.9,320.8 294.0,313.2 294.1,322.0 294.2,324.9 294.3,327.0 294.4,327.1 294.4,329.0 294.5,326.7 294.6,339.2 294.7,333.7 294.8,329.2 294.9,334.3 295.0,318.7 295.1,331.0 295.2,320.3 295.3,328.1 295.3,311.8 295.4,304.0 295.5,335.4 295.6,306.9 295.7,328.0 295.8,316.4 295.9,314.3 296.0,319.2 296.1,307.5 296.2,307.3 296.2,302.2 296.3,316.1 296.4,329.0 296.5,328.3 296.6,304.4 296.7,310.2 296.8,317.2 296.9,327.3 297.0,317.1 297.1,313.5 297.1,302.8 297.2,325.9 297.3,320.9 297.4,299.7 297.5,319.7 297.6,321.5 297.7,325.0 297.8,309.9 297.9,343.3 298.0,328.1 298.0,330.4 298.1,309.8 298.2,324.5 298.3,333.7 298.4,322.5 298.5,317.8 298.6,309.4 298.7,328.4 298.8,331.0 298.9,324.4 298.9,323.7 299.0,332.5 299.1,319.7 299.2,319.2 299.3,328.8 299.4,307.8 299.5,316.2 299.6,332.2 299.7,320.6 299.8,323.1 299.8,328.8 299.9,320.4 300.0,310.7 300.1,322.2 300.2,318.7 300.3,322.8 300.4,310.5 300.5,317.3 300.6,333.6 300.7,324.6 300.7,322.6 300.8,327.6 300.9,337.4 301.0,334.2 301.1,335.0 301.2,341.1 301.3,357.0 301.4,344.2 301.5,329.7 301.6,309.2 301.6,328.6 301.7,337.7 301.8,324.5 301.9,340.2 302.0,329.3 302.1,329.7 302.2,330.8 302.3,325.1 302.4,323.0 302.5,344.1 302.5,357.3 302.6,331.5 302.7,340.8 302.8,344.4 302.9,331.1 303.0,337.6 303.1,329.2 303.2,340.8 303.3,326.7 303.4,328.0 303.4,320.9 303.5,335.9 303.6,343.3 303.7,328.9 303.8,318.1 303.9,330.7 304.0,339.1 304.1,351.7 304.2,341.9 304.3,339.2 304.3,327.8 304.4,337.0 304.5,340.9 304.6,338.5 304.7,324.4 304.8,326.8 304.9,343.4 305.0,328.2 305.1,344.3 305.2,328.2 305.2,334.2 305.3,332.8 305.4,325.9 305.5,332.8 305.6,348.6 305.7,339.5 305.8,325.4 305.9,311.7 306.0,328.9 306.1,324.5 306.1,322.7 306.2,329.2 306.3,327.9 306.4,342.6 306.5,337.2 306.6,332.4 306.7,343.8 306.8,336.1 306.9,327.6 307.0,342.0 307.0,321.7 307.1,333.0 307.2,327.4 307.3,333.1 307.4,334.3 307.5,333.5 307.6,334.7 307.7,325.4 307.8,337.5 307.9,343.4 307.9,332.6 308.0,328.6 308.1,337.7 308.2,327.5 308.3,334.2 308.4,331.0 308.5,328.4 308.6,310.9 308.7,325.0 308.8,328.4 308.8,326.1 308.9,325.2 309.0,334.8 309.1,335.7 309.2,317.8 309.3,329.6 309.4,325.3 309.5,344.7 309.6,333.8 309.7,342.6 309.7,331.1 309.8,333.7 309.9,352.7 310.0,328.2 310.1,339.1 310.2,337.2 310.3,337.2 310.4,338.3 310.5,318.4 310.6,330.5 310.6,317.6 310.7,325.9 310.8,318.2 310.9,342.3 311.0,321.7 311.1,329.5 311.2,343.1 311.3,338.9 311.4,320.9 311.5,335.9 311.5,337.5 311.6,331.6 311.7,331.5 311.8,358.1 311.9,324.3 312.0,311.0 312.1,324.4 312.2,339.8 312.3,338.6 312.4,330.6 312.4,322.4 312.5,333.7 312.6,329.2 312.7,325.3 312.8,330.1 312.9,315.7 313.0,316.4 313.1,313.2 313.2,320.4 313.3,312.8 313.3,316.8 313.4,314.6 313.5,326.3 313.6,310.7 313.7,311.4 313.8,299.6 313.9,321.6 314.0,322.4 314.1,314.9 314.2,313.6 314.2,317.4 314.3,311.4 314.4,322.0 314.5,318.7 314.6,310.4 314.7,324.4 314.8,324.8 314.9,313.2 315.0,314.8 315.1,326.3 315.1,306.3 315.2,313.7 315.3,323.9 315.4,312.4 315.5,329.3 315.6,341.6 315.7,330.0 315.8,324.4 315.9,306.2 316.0,330.4 316.0,332.4 316.1,319.9 316.2,338.6 316.3,322.2 316.4,318.4 316.5,330.8 316.6,352.9 316.7,315.6 316.8,319.1 316.9,330.1 316.9,329.3 317.0,338.4 317.1,321.7 317.2,327.4 317.3,323.7 317.4,316.8 317.5,312.6 317.6,322.1 317.7,326.3 317.8,314.4 317.8,322.8 317.9,336.3 318.0,328.4 318.1,337.7 318.2,343.1 318.3,331.0 318.4,320.1 318.5,315.2 318.6,317.5 318.7,363.0 318.7,340.4 318.8,326.4 318.9,338.3 319.0,350.5 319.1,319.6 319.2,346.4 319.3,333.1 319.4,342.1 319.5,353.2 319.6,347.6 319.6,336.4 319.7,330.1 319.8,330.9 319.9,334.2 320.0,336.0 320.1,326.2 320.2,324.1 320.3,321.9 320.4,326.9 320.5,316.9 320.5,334.8 320.6,337.9 320.7,334.0 320.8,324.6 320.9,326.0 321.0,337.4 321.1,323.3 321.2,331.1 321.3,312.9 321.4,322.5 321.4,327.8 321.5,314.6 321.6,324.3 321.7,329.3 321.8,329.0 321.9,320.3 322.0,337.8 322.1,318.9 322.2,331.2 322.3,322.4 322.3,333.4 322.4,332.6 322.5,326.2 322.6,311.6 322.7,331.5 322.8,309.5 322.9,317.6 323.0,316.0 323.1,323.0 323.2,320.6 323.2,319.8 323.3,321.2 323.4,328.3 323.5,330.2 323.6,330.8 323.7,313.3 323.8,315.7 323.9,311.6 324.0,320.5 324.1,325.9 324.1,313.8 324.2,323.7 324.3,327.8 324.4,304.6 324.5,327.6 324.6,319.9 324.7,317.4 324.8,314.8 324.9,307.7 325.0,316.9 325.0,323.1 325.1,324.0 325.2,339.9 325.3,335.0 325.4,311.6 325.5,322.2 325.6,316.0 325.7,321.3 325.8,318.5 325.9,308.1 325.9,324.6 326.0,336.6 326.1,339.9 326.2,309.4 326.3,324.0 326.4,339.6 326.5,313.4 326.6,335.3 326.7,319.9 326.8,329.1 326.8,340.5 326.9,333.7 327.0,343.2 327.1,311.9 327.2,324.5 327.3,346.7 327.4,336.5 327.5,335.3 327.6,324.6 327.7,326.9 327.7,326.9 327.8,322.9 327.9,346.6 328.0,327.4 328.1,322.8 328.2,309.8 328.3,335.0 328.4,334.2 328.5,340.0 328.6,333.9 328.6,318.6 328.7,327.3 328.8,333.0 328.9,322.8 329.0,331.2 329.1,329.6 329.2,315.9 329.3,321.1 329.4,320.2 329.5,334.3 329.5,326.8 329.6,326.5 329.7,310.3 329.8,321.1 329.9,313.9 330.0,330.0 330.1,310.0 330.2,329.1 330.3,319.0 330.4,336.2 330.4,321.1 330.5,317.1 330.6,315.3 330.7,315.9 330.8,316.1 330.9,315.2 331.0,332.7 331.1,324.2 331.2,316.1 331.3,323.7 331.3,316.5 331.4,314.5 331.5,312.6 331.6,308.5 331.7,289.6 331.8,320.6 331.9,305.3 332.0,296.4 332.1,301.2 332.2,311.0 332.2,308.5 332.3,317.6 332.4,330.6 332.5,305.2 332.6,311.8 332.7,323.7 332.8,308.1 332.9,314.8 333.0,333.6 333.1,313.5 333.1,308.9 333.2,303.3 333.3,329.9 333.4,337.3 333.5,327.1 333.6,329.6 333.7,337.0 333.8,327.4 333.9,327.8 334.0,333.3 334.0,334.9 334.1,313.6 334.2,316.7 334.3,321.1 334.4,299.8 334.5,325.3 334.6,317.3 334.7,309.3 334.8,324.5 334.9,314.7 334.9,307.8 335.0,330.1 335.1,329.7 335.2,318.9 335.3,314.5 335.4,335.3 335.5,320.7 335.6,325.2 335.7,324.6 335.8,307.8 335.8,312.4 335.9,315.5 336.0,329.6 336.1,320.3 336.2,324.1 336.3,330.2 336.4,315.2 336.5,312.9 336.6,311.0 336.7,327.2 336.7,324.0 336.8,328.0 336.9,320.1 337.0,334.3 337.1,332.6 337.2,325.0 337.3,331.4 337.4,343.7 337.5,331.0 337.6,313.1 337.6,336.9 337.7,329.2 337.8,334.6 337.9,332.7 338.0,337.6 338.1,307.2 338.2,315.6 338.3,333.3 338.4,327.9 338.5,334.8 338.5,321.3 338.6,329.0 338.7,330.1 338.8,342.1 338.9,333.4 339.0,337.7 339.1,338.2 339.2,318.6 339.3,331.4 339.4,318.2 339.4,324.0 339.5,332.8 339.6,345.1 339.7,314.4 339.8,314.0 339.9,306.4 340.0,314.7 340.1,313.2 340.2,322.6 340.3,312.6 340.3,317.9 340.4,321.8 340.5,314.8 340.6,322.8 340.7,325.0 340.8,324.6 340.9,303.3 341.0,308.6 341.1,319.2 341.2,318.7 341.2,315.5 341.3,309.2 341.4,316.0 341.5,324.4 341.6,338.2 341.7,343.9 341.8,313.9 341.9,324.6 342.0,326.9 342.1,326.6 342.1,308.2 342.2,308.8 342.3,336.1 342.4,327.6 342.5,321.2 342.6,341.4 342.7,323.2 342.8,321.5 342.9,321.5 343.0,313.2 343.0,306.1 343.1,334.9 343.2,326.2 343.3,323.9 343.4,317.4 343.5,311.3 343.6,317.3 343.7,336.0 343.8,333.2 343.9,316.3 343.9,321.5 344.0,326.7 344.1,317.5 344.2,324.5 344.3,320.6 344.4,325.7 344.5,327.6 344.6,324.3 344.7,326.6 344.8,337.9 344.8,327.1 344.9,349.5 345.0,331.6 345.1,335.9 345.2,313.4 345.3,347.1 345.4,336.3 345.5,337.9 345.6,317.9 345.7,330.0 345.7,323.8 345.8,319.5 345.9,346.1 346.0,329.1 346.1,323.0 346.2,328.2 346.3,331.8 346.4,336.7 346.5,326.6 346.6,338.1 346.6,321.0 346.7,339.1 346.8,327.7 346.9,335.7 347.0,328.7 347.1,322.5 347.2,331.6 347.3,320.7 347.4,340.4 347.5,317.3 347.5,326.7 347.6,327.6 347.7,340.0 347.8,326.5 347.9,321.5 348.0,336.7 348.1,339.3 348.2,327.8 348.3,342.8 348.4,336.1 348.4,327.0 348.5,321.8 348.6,343.7 348.7,332.4 348.8,341.4 348.9,331.2 349.0,338.8 349.1,332.3 349.2,326.0 349.3,331.6 349.3,321.8 349.4,334.7 349.5,319.6 349.6,323.4 349.7,336.5 349.8,305.1 349.9,339.1 350.0,335.0 350.1,340.6 350.2,345.8 350.2,330.5 350.3,326.1 350.4,329.2 350.5,316.4 350.6,329.2 350.7,316.4 350.8,330.3 350.9,331.5 351.0,325.9 351.1,339.1 351.1,338.5 351.2,326.0 351.3,328.7 351.4,316.9 351.5,330.4 351.6,320.8 351.7,319.7 351.8,326.0 351.9,322.1 352.0,324.5 352.0,316.7 352.1,311.0 352.2,324.3 352.3,304.6 352.4,321.4 352.5,324.5 352.6,341.1 352.7,318.7 352.8,321.7 352.9,314.5 352.9,322.4 353.0,326.8 353.1,307.3 353.2,316.6 353.3,313.8 353.4,332.1 353.5,336.6 353.6,309.3 353.7,333.3 353.8,313.1 353.8,345.2 353.9,324.3 354.0,320.9 354.1,326.9 354.2,318.5 354.3,319.1 354.4,329.7 354.5,309.0 354.6,313.5 354.7,315.7 354.7,323.9 354.8,307.3 354.9,317.6 355.0,316.5 355.1,315.6 355.2,308.1 355.3,314.6 355.4,318.3 355.5,297.3 355.6,305.0 355.6,319.3 355.7,310.1 355.8,316.7 355.9,323.0 356.0,322.5 356.1,303.3 356.2,325.3 356.3,299.9 356.4,305.7 356.5,316.1 356.5,316.5 356.6,300.0 356.7,336.7 356.8,300.3 356.9,310.7 357.0,326.4 357.1,311.7 357.2,320.6 357.3,308.5 357.4,319.2 357.4,310.2 357.5,327.4 357.6,326.7 357.7,317.3 357.8,321.6 357.9,311.6 358.0,319.0 358.1,329.0 358.2,305.2 358.3,314.5 358.3,294.2 358.4,308.0 358.5,322.7 358.6,307.1 358.7,293.8 358.8,301.9 358.9,310.4 359.0,318.1 359.1,318.7 359.2,322.6 359.2,299.7 359.3,301.2 359.4,308.8 359.5,327.3 359.6,324.6 359.7,305.7 359.8,303.7 359.9,308.3 360.0,320.3 360.1,322.8 360.1,324.1 360.2,314.1 360.3,314.0 360.4,309.1 360.5,328.0 360.6,328.8 360.7,315.4 360.8,310.3 360.9,328.6 361.0,309.7 361.0,311.8 361.1,312.8 361.2,308.8 361.3,322.2 361.4,313.8 361.5,314.2 361.6,320.7 361.7,320.5 361.8,299.3 361.9,302.9 361.9,320.9 362.0,317.8 362.1,328.1 362.2,319.7 362.3,291.8 362.4,316.8 362.5,325.5 362.6,300.6 362.7,310.1 362.8,305.1 362.8,318.9 362.9,311.3 363.0,324.6 363.1,318.8 363.2,330.0 363.3,330.9 363.4,301.6 363.5,321.8 363.6,317.5 363.7,320.7 363.7,316.6 363.8,333.6 363.9,323.9 364.0,320.2 364.1,322.0 364.2,309.8 364.3,326.1 364.4,332.6 364.5,316.0 364.6,318.9 364.6,341.7 364.7,330.6 364.8,329.7 364.9,308.5 365.0,325.5 365.1,324.5 365.2,318.0 365.3,322.2 365.4,317.3 365.5,335.2 365.5,326.4 365.6,319.4 365.7,326.2 365.8,322.0 365.9,313.8 366.0,323.2 366.1,309.8 366.2,329.2 366.3,319.9 366.4,316.9 366.4,309.8 366.5,306.4 366.6,318.9 366.7,312.5 366.8,305.4 366.9,340.8 367.0,314.6 367.1,320.2 367.2,320.9 367.3,307.0 367.3,330.9 367.4,311.9 367.5,333.1 367.6,323.5 367.7,318.0 367.8,318.1 367.9,331.3 368.0,329.6 368.1,313.9 368.2,313.4 368.2,324.0 368.3,309.3 368.4,293.0 368.5,295.1 368.6,314.5 368.7,305.7 368.8,301.1 368.9,316.8 369.0,319.0 369.1,318.3 369.1,325.6 369.2,309.2 369.3,316.8 369.4,315.4 369.5,316.2 369.6,326.6 369.7,313.3 369.8,313.0 369.9,293.7 370.0,298.5 370.0,306.1 370.1,304.1 370.2,312.4 370.3,312.2 370.4,327.7 370.5,315.3 370.6,321.4 370.7,311.5 370.8,332.8 370.9,325.7 370.9,325.6 371.0,323.1 371.1,334.7 371.2,316.1 371.3,314.2 371.4,320.1 371.5,334.4 371.6,318.0 371.7,315.3 371.8,324.9 371.8,312.9 371.9,323.7 372.0,302.5 372.1,296.4 372.2,324.8 372.3,331.8 372.4,313.7 372.5,328.6 372.6,328.5 372.7,331.6 372.7,298.0 372.8,329.8 372.9,324.3 373.0,320.1 373.1,312.6 373.2,320.3 373.3,320.1 373.4,318.8 373.5,329.2 373.6,323.1 373.6,317.0 373.7,322.1 373.8,324.9 373.9,320.8 374.0,326.5 374.1,316.1 374.2,315.9 374.3,316.2 374.4,327.5 374.5,311.0 374.5,317.3 374.6,326.3 374.7,311.8 374.8,312.3 374.9,342.2 375.0,331.3 375.1,308.8 375.2,325.6 375.3,326.0 375.4,308.5 375.4,309.6 375.5,310.6 375.6,326.9 375.7,328.7 375.8,305.6 375.9,330.2 376.0,318.5 376.1,324.9 376.2,323.5 376.3,336.9 376.3,315.2 376.4,320.3 376.5,331.8 376.6,311.7 376.7,322.0 376.8,316.9 376.9,328.0 377.0,324.0 377.1,317.7 377.2,328.8 377.2,298.5 377.3,312.7 377.4,325.8 377.5,298.7 377.6,325.7 377.7,317.6 377.8,328.6 377.9,338.6 378.0,322.6 378.1,323.1 378.1,320.1 378.2,336.6 378.3,316.5 378.4,318.5 378.5,332.7 378.6,322.4 378.7,318.2 378.8,319.6 378.9,322.2 379.0,321.6 379.0,319.5 379.1,314.3 379.2,305.7 379.3,342.2 379.4,336.7 379.5,320.9 379.6,340.5 379.7,338.2 379.8,343.6 379.9,326.4 379.9,306.1 380.0,336.1 380.1,339.5 380.2,324.9 380.3,339.2 380.4,337.1 380.5,322.4 380.6,340.6 380.7,334.5 380.8,317.1 380.8,329.2 380.9,333.2 381.0,338.3 381.1,314.4 381.2,326.1 381.3,316.6 381.4,326.2 381.5,324.3 381.6,340.1 381.7,344.0 381.7,332.1 381.8,338.6 381.9,331.9 382.0,337.7 382.1,347.6 382.2,331.2 382.3,315.0 382.4,337.1 382.5,325.0 382.6,329.2 382.6,324.6 382.7,335.1 382.8,316.1 382.9,317.4 383.0,309.8 383.1,332.4 383.2,336.6 383.3,326.7 383.4,337.6 383.5,321.4 383.5,328.2 383.6,327.7 383.7,323.8 383.8,332.0 383.9,318.7 384.0,332.2 384.1,341.8 384.2,320.2 384.3,314.0 384.4,311.6 384.4,341.5 384.5,323.3 384.6,321.5 384.7,333.7 384.8,318.4 384.9,330.4 385.0,317.4 385.1,325.4 385.2,320.5 385.3,333.8 385.3,333.5 385.4,320.7 385.5,326.0 385.6,331.1 385.7,344.2 385.8,323.9 385.9,320.5 386.0,319.1 386.1,354.1 386.2,320.8 386.2,324.5 386.3,311.9 386.4,328.1 386.5,318.5 386.6,320.7 386.7,333.2 386.8,338.5 386.9,321.2 387.0,319.7 387.1,343.0 387.1,320.8 387.2,332.7 387.3,313.5 387.4,316.1 387.5,309.6 387.6,326.9 387.7,324.4 387.8,313.1 387.9,300.8 388.0,307.0 388.0,309.6 388.1,331.5 388.2,320.5 388.3,333.8 388.4,326.5 388.5,323.6 388.6,317.5 388.7,303.8 388.8,322.9 388.9,316.1 388.9,310.7 389.0,305.2 389.1,318.7 389.2,332.0 389.3,305.6 389.4,327.7 389.5,326.3 389.6,330.5 389.7,325.0 389.8,289.8 389.8,320.8 389.9,320.6 390.0,320.3 390.1,297.8 390.2,330.1 390.3,313.2 390.4,303.3 390.5,315.9 390.6,302.8 390.7,300.2 390.7,305.3 390.8,323.3 390.9,301.7 391.0,299.5 391.1,303.4 391.2,308.7 391.3,296.0 391.4,313.5 391.5,298.3 391.6,325.4 391.6,323.6 391.7,315.1 391.8,320.7 391.9,314.0 392.0,317.3 392.1,321.2 392.2,321.1 392.3,305.1 392.4,323.4 392.5,311.9 392.5,338.1 392.6,318.0 392.7,324.6 392.8,333.6 392.9,305.3 393.0,332.6 393.1,320.8 393.2,312.4 393.3,307.0 393.4,318.3 393.4,315.6 393.5,317.3 393.6,320.3 393.7,335.3 393.8,312.5 393.9,326.1 394.0,325.4 394.1,330.9 394.2,328.3 394.3,308.3 394.3,328.2 394.4,319.7 394.5,328.4 394.6,322.2 394.7,316.6 394.8,312.3 394.9,302.8 395.0,319.1 395.1,311.4 395.2,320.3 395.2,310.4 395.3,301.7 395.4,327.2 395.5,323.0 395.6,323.3 395.7,326.8 395.8,307.8 395.9,317.2 396.0,314.0 396.1,305.3 396.1,320.5 396.2,308.8 396.3,335.7 396.4,331.5 396.5,333.3 396.6,314.6 396.7,322.7 396.8,324.8 396.9,303.2 397.0,304.9 397.0,317.8 397.1,297.3 397.2,299.0 397.3,324.5 397.4,329.4 397.5,316.7 397.6,301.6 397.7,321.9 397.8,320.1 397.9,310.0 397.9,290.1 398.0,313.8 398.1,302.3 398.2,326.1 398.3,330.9 398.4,321.1 398.5,320.1 398.6,305.9 398.7,329.1 398.8,330.2 398.8,321.9 398.9,331.2 399.0,328.9 399.1,329.2 399.2,332.9 399.3,317.4 399.4,319.7 399.5,323.8 399.6,330.1 399.7,331.5 399.7,310.7 399.8,322.1 399.9,334.6 400.0,333.8 400.1,334.8 400.2,333.5 400.3,322.8 400.4,333.6 400.5,310.9 400.6,301.6 400.6,316.7 400.7,327.5 400.8,325.0 400.9,325.0 401.0,305.6 401.1,313.7 401.2,318.4 401.3,327.4 401.4,299.7 401.5,334.7 401.5,300.0 401.6,306.8 401.7,320.4 401.8,302.3 401.9,324.9 402.0,338.9 402.1,320.0 402.2,315.3 402.3,339.9 402.4,321.7 402.4,326.2 402.5,317.3 402.6,326.8 402.7,319.7 402.8,333.7 402.9,330.4 403.0,330.3 403.1,332.4 403.2,329.3 403.3,336.3 403.3,315.7 403.4,341.6 403.5,328.6 403.6,336.8 403.7,353.8 403.8,318.6 403.9,323.7 404.0,308.9 404.1,324.3 404.2,350.8 404.2,313.0 404.3,329.0 404.4,330.4 404.5,325.5 404.6,331.6 404.7,320.7 404.8,322.7 404.9,320.3 405.0,313.0 405.1,322.3 405.1,317.7 405.2,319.5 405.3,332.2 405.4,340.1 405.5,299.0 405.6,306.0 405.7,307.3 405.8,336.5 405.9,319.6 406.0,303.7 406.0,332.1 406.1,314.7 406.2,328.4 406.3,317.3 406.4,308.0 406.5,316.1 406.6,305.9 406.7,323.0 406.8,309.0 406.9,316.6 406.9,329.3 407.0,322.9 407.1,323.4 407.2,307.0 407.3,307.0 407.4,313.3 407.5,320.3 407.6,318.7 407.7,317.3 407.8,316.3 407.8,304.4 407.9,325.5 408.0,315.3 408.1,313.2 408.2,307.7 408.3,312.6 408.4,318.4 408.5,327.1 408.6,298.0 408.7,315.0 408.7,297.8 408.8,311.6 408.9,327.0 409.0,307.3 409.1,309.8 409.2,321.7 409.3,338.0 409.4,316.8 409.5,334.8 409.6,319.1 409.6,325.6 409.7,315.7 409.8,317.2 409.9,336.3 410.0,355.8 410.1,323.1 410.2,328.8 410.3,317.1 410.4,305.6 410.5,318.8 410.5,320.8 410.6,316.1 410.7,305.7 410.8,319.8 410.9,315.3 411.0,314.4 411.1,311.8 411.2,329.0 411.3,308.8 411.4,318.6 411.4,333.3 411.5,322.9 411.6,331.6 411.7,305.1 411.8,312.2 411.9,325.8 412.0,327.1 412.1,327.2 412.2,321.7 412.3,342.9 412.3,324.9 412.4,327.4 412.5,327.4 412.6,326.3 412.7,318.1 412.8,324.6 412.9,312.0 413.0,304.9 413.1,291.6 413.2,314.6 413.2,312.8 413.3,313.0 413.4,307.6 413.5,338.8 413.6,309.0 413.7,310.6 413.8,316.3 413.9,332.8 414.0,322.5 414.1,319.4 414.1,336.2 414.2,327.8 414.3,333.3 414.4,344.9 414.5,339.2 414.6,326.7 414.7,310.8 414.8,324.7 414.9,323.6 415.0,318.8 415.0,328.0 415.1,325.7 415.2,326.2 415.3,317.9 415.4,316.3 415.5,326.8 415.6,326.3 415.7,312.4 415.8,320.5 415.9,307.2 415.9,309.0 416.0,315.9 416.1,319.8 416.2,339.5 416.3,303.3 416.4,355.0 416.5,344.0 416.6,340.3 416.7,344.6 416.8,319.8 416.8,327.4 416.9,334.0 417.0,323.2 417.1,341.4 417.2,315.3 417.3,318.6 417.4,321.2 417.5,326.0 417.6,351.3 417.7,330.8 417.7,342.3 417.8,331.6 417.9,333.0 418.0,326.3 418.1,331.7 418.2,326.8 418.3,320.6 418.4,332.0 418.5,348.7 418.6,335.2 418.6,333.2 418.7,340.7 418.8,347.1 418.9,343.8 419.0,346.9 419.1,339.5 419.2,320.2 419.3,319.4 419.4,340.2 419.5,318.6 419.5,313.9 419.6,341.5 419.7,319.4 419.8,330.5 419.9,319.1 420.0,338.2 420.1,315.1 420.2,316.4 420.3,326.6 420.4,327.7 420.4,318.8 420.5,297.6 420.6,300.3 420.7,299.2 420.8,329.5 420.9,296.4 421.0,302.8 421.1,352.5 421.2,330.8 421.3,326.9 421.3,311.2 421.4,333.6 421.5,301.4 421.6,329.7 421.7,318.9 421.8,315.2 421.9,327.8 422.0,317.9 422.1,319.1 422.2,312.8 422.2,319.5 422.3,320.4 422.4,329.3 422.5,327.0 422.6,342.6 422.7,321.1 422.8,325.5 422.9,328.3 423.0,323.4 423.1,317.0 423.1,319.2 423.2,336.5 423.3,317.4 423.4,318.4 423.5,336.0 423.6,341.4 423.7,314.6 423.8,326.2 423.9,337.6 424.0,314.3 424.0,330.9 424.1,321.0 424.2,323.0 424.3,319.0 424.4,332.5 424.5,312.4 424.6,322.0 424.7,321.1 424.8,325.4 424.9,329.9 424.9,323.5 425.0,329.5 425.1,342.0 425.2,340.1 425.3,323.7 425.4,339.3 425.5,329.6 425.6,340.1 425.7,331.1 425.8,330.7 425.8,328.8 425.9,331.8 426.0,327.5 426.1,321.5 426.2,334.3 426.3,319.3 426.4,319.4 426.5,320.1 426.6,330.6 426.7,311.5 426.7,348.0 426.8,320.7 426.9,312.7 427.0,323.5 427.1,331.6 427.2,334.0 427.3,334.6 427.4,322.8 427.5,347.1 427.6,333.1 427.6,332.3 427.7,347.6 427.8,326.4 427.9,337.6 428.0,342.9 428.1,333.9 428.2,326.4 428.3,349.1 428.4,334.5 428.5,336.0 428.5,360.8 428.6,362.4 428.7,337.2 428.8,351.3 428.9,331.9 429.0,332.0 429.1,346.1 429.2,347.8 429.3,336.7 429.4,333.8 429.4,340.3 429.5,331.6 429.6,343.2 429.7,331.0 429.8,330.3 429.9,325.1 430.0,319.8 430.1,319.3 430.2,326.8 430.3,334.5 430.3,319.2 430.4,333.7 430.5,347.3 430.6,329.1 430.7,335.4 430.8,321.4 430.9,334.5 431.0,312.7 431.1,347.2 431.2,326.0 431.2,341.5 431.3,323.7 431.4,335.9 431.5,311.7 431.6,316.1 431.7,334.1 431.8,319.6 431.9,317.5 432.0,319.4 432.1,339.9 432.1,351.8 432.2,320.6 432.3,341.8 432.4,347.8 432.5,331.3 432.6,331.5 432.7,340.9 432.8,346.4 432.9,314.3 433.0,321.8 433.0,331.4 433.1,344.1 433.2,347.7 433.3,333.0 433.4,341.3 433.5,328.5 433.6,316.5 433.7,331.8 433.8,322.6 433.9,341.5 433.9,337.4 434.0,316.1 434.1,332.7 434.2,329.2 434.3,341.6 434.4,331.4 434.5,338.7 434.6,331.2 434.7,333.2 434.8,322.1 434.8,316.1 434.9,346.8 435.0,334.1 435.1,338.9 435.2,316.2 435.3,326.4 435.4,341.3 435.5,332.2 435.6,320.9 435.7,329.5 435.7,332.8 435.8,335.9 435.9,315.8 436.0,336.5 436.1,336.6 436.2,318.6 436.3,311.6 436.4,328.1 436.5,319.5 436.6,325.2 436.6,325.4 436.7,325.2 436.8,325.7 436.9,344.8 437.0,323.4 437.1,317.8 437.2,320.7 437.3,335.0 437.4,336.0 437.5,345.6 437.5,321.9 437.6,335.0 437.7,315.8 437.8,350.8 437.9,345.9 438.0,329.6 438.1,333.6 438.2,336.4 438.3,344.9 438.4,324.9 438.4,363.2 438.5,329.7 438.6,327.7 438.7,328.3 438.8,327.4 438.9,328.6 439.0,303.4 439.1,336.2 439.2,328.9 439.3,321.7 439.3,334.4 439.4,333.4 439.5,328.0 439.6,337.6 439.7,329.8 439.8,338.4 439.9,337.2 440.0,330.9 440.1,330.9 440.2,322.6 440.2,326.8 440.3,322.1 440.4,329.0 440.5,332.5 440.6,340.5 440.7,329.5 440.8,342.8 440.9,322.1 441.0,320.2 441.1,314.6 441.1,329.0 441.2,330.9 441.3,327.0 441.4,327.4 441.5,313.6 441.6,319.5 441.7,305.4 441.8,322.1 441.9,328.1 442.0,323.0 442.0,321.1 442.1,324.4 442.2,331.3 442.3,326.8 442.4,317.8 442.5,324.0 442.6,313.9 442.7,330.8 442.8,328.4 442.9,332.0 442.9,327.7 443.0,335.6 443.1,336.3 443.2,308.4 443.3,321.7 443.4,334.2 443.5,336.2 443.6,333.5 443.7,323.1 443.8,325.4 443.8,329.7 443.9,325.3 444.0,320.3 444.1,332.4 444.2,313.6 444.3,335.4 444.4,317.1 444.5,315.3 444.6,334.1 444.7,341.4 444.7,325.0 444.8,336.8 444.9,333.7 445.0,321.1 445.1,309.2 445.2,332.2 445.3,308.7 445.4,324.3 445.5,329.7 445.6,334.2 445.6,339.3 445.7,327.9 445.8,336.1 445.9,340.6 446.0,324.7 446.1,340.4 446.2,341.4 446.3,319.3 446.4,333.2 446.5,323.5 446.5,327.0 446.6,309.3 446.7,332.0 446.8,331.3 446.9,343.1 447.0,328.8 447.1,328.5 447.2,330.8 447.3,350.7 447.4,330.5 447.4,331.3 447.5,363.3 447.6,342.6 447.7,341.7 447.8,367.2 447.9,346.1 448.0,329.6 448.1,334.0 448.2,343.8 448.3,331.2 448.3,351.9 448.4,338.8 448.5,340.2 448.6,328.9 448.7,325.8 448.8,336.1 448.9,338.5 449.0,333.3 449.1,345.0 449.2,335.9 449.2,328.5 449.3,351.2 449.4,322.1 449.5,335.9 449.6,322.1 449.7,344.2 449.8,333.6 449.9,334.7 450.0,331.1 450.1,319.9 450.1,322.1 450.2,321.5 450.3,322.1 450.4,337.9 450.5,342.0 450.6,333.6 450.7,323.9 450.8,335.5 450.9,329.3 451.0,335.7 451.0,325.2 451.1,335.4 451.2,338.6 451.3,338.0 451.4,318.9 451.5,337.2 451.6,326.0 451.7,307.7 451.8,323.6 451.9,321.0 451.9,323.1 452.0,325.8 452.1,316.5 452.2,327.4 452.3,337.3 452.4,325.2 452.5,307.6 452.6,322.8 452.7,309.0 452.8,315.3 452.8,321.5 452.9,331.1 453.0,327.7 453.1,311.1 453.2,320.7 453.3,308.0 453.4,333.0 453.5,318.6 453.6,331.8 453.7,326.3 453.7,316.2 453.8,322.7 453.9,317.7 454.0,325.2 454.1,326.9 454.2,340.8 454.3,323.7 454.4,344.0 454.5,309.6 454.6,316.1 454.6,323.3 454.7,304.6 454.8,302.9 454.9,329.8 455.0,320.0 455.1,316.3 455.2,311.8 455.3,329.9 455.4,311.7 455.5,325.9 455.5,315.1 455.6,335.2 455.7,312.5 455.8,334.6 455.9,329.0 456.0,331.6 456.1,328.2 456.2,342.9 456.3,329.2 456.4,337.7 456.4,331.0 456.5,315.9 456.6,336.1 456.7,322.2 456.8,328.5 456.9,340.0 457.0,328.5 457.1,334.0 457.2,329.5 457.3,306.9 457.3,324.8 457.4,304.7 457.5,302.3 457.6,323.9 457.7,315.3 457.8,311.0 457.9,297.8 458.0,299.3 458.1,295.8 458.2,317.1 458.2,312.4 458.3,303.7 458.4,298.7 458.5,302.8 458.6,307.5 458.7,301.0 458.8,307.9 458.9,313.2 459.0,330.7 459.1,320.4 459.1,316.9 459.2,302.2 459.3,314.4 459.4,316.7 459.5,314.7 459.6,317.6 459.7,318.1 459.8,298.1 459.9,307.6 460.0,321.9 460.0,315.8 460.1,323.2 460.2,342.9 460.3,326.8 460.4,327.8 460.5,309.2 460.6,333.2 460.7,310.4 460.8,305.8 460.9,333.7 460.9,304.5 461.0,295.9 461.1,311.2 461.2,295.8 461.3,316.1 461.4,318.4 461.5,286.3 461.6,294.8 461.7,327.3 461.8,301.7 461.8,312.3 461.9,323.1 462.0,331.0 462.1,312.6 462.2,305.3 462.3,314.2 462.4,299.4 462.5,316.8 462.6,289.7 462.7,337.2 462.7,331.3 462.8,309.7 462.9,322.8 463.0,324.5 463.1,319.8 463.2,319.7 463.3,319.1 463.4,296.1 463.5,320.0 463.6,292.9 463.6,314.5 463.7,304.1 463.8,283.8 463.9,295.0 464.0,311.7 464.1,297.1 464.2,290.7 464.3,297.3 464.4,305.0 464.5,312.1 464.5,317.8 464.6,302.5 464.7,323.8 464.8,311.2 464.9,296.1 465.0,312.5 465.1,290.0 465.2,295.7 465.3,289.6 465.4,298.3 465.4,290.9 465.5,322.2 465.6,312.3 465.7,306.7 465.8,313.5 465.9,313.2 466.0,300.5 466.1,304.3 466.2,294.3 466.3,314.3 466.3,306.0 466.4,298.6 466.5,300.4 466.6,297.8 466.7,312.9 466.8,306.2 466.9,305.4 467.0,335.6 467.1,317.1 467.2,307.4 467.2,327.0 467.3,313.1 467.4,329.7 467.5,309.5 467.6,308.8 467.7,308.1 467.8,293.6 467.9,309.2 468.0,323.1 468.1,290.6 468.1,296.0 468.2,303.2 468.3,301.2 468.4,287.6 468.5,305.5 468.6,327.5 468.7,308.3 468.8,309.0 468.9,294.3 469.0,312.3 469.0,301.6 469.1,299.0 469.2,293.0 469.3,307.1 469.4,296.1 469.5,313.9 469.6,305.3 469.7,310.8 469.8,307.4 469.9,311.7 469.9,311.2 470.0,297.7 470.1,318.6 470.2,312.0 470.3,316.4 470.4,326.3 470.5,327.3 470.6,313.7 470.7,328.5 470.8,314.9 470.8,313.1 470.9,321.4 471.0,322.4 471.1,324.5 471.2,331.1 471.3,332.6 471.4,312.4 471.5,310.4 471.6,308.4 471.7,303.4 471.7,331.3 471.8,316.5 471.9,310.5 472.0,314.6 472.1,306.6 472.2,321.7 472.3,314.7 472.4,314.4 472.5,318.1 472.6,307.3 472.6,325.5 472.7,307.0 472.8,315.8 472.9,324.9 473.0,325.6 473.1,314.6 473.2,321.4 473.3,319.2 473.4,317.2 473.5,313.6 473.5,329.6 473.6,322.6 473.7,328.1 473.8,312.0 473.9,313.1 474.0,315.9 474.1,341.0 474.2,319.1 474.3,329.4 474.4,304.6 474.4,300.9 474.5,323.5 474.6,325.5 474.7,329.7 474.8,328.0 474.9,313.0 475.0,333.0 475.1,328.1 475.2,316.4 475.3,322.3 475.3,316.0 475.4,308.8 475.5,317.2 475.6,309.3 475.7,323.3 475.8,316.2 475.9,314.1 476.0,327.5 476.1,314.8 476.2,314.1 476.2,335.0 476.3,316.6 476.4,300.7 476.5,321.5 476.6,329.4 476.7,319.2 476.8,314.8 476.9,318.0 477.0,318.9 477.1,302.7 477.1,308.8 477.2,312.9 477.3,310.1 477.4,298.8 477.5,316.2 477.6,319.2 477.7,312.8 477.8,311.6 477.9,299.9 478.0,298.2 478.0,319.2 478.1,325.4 478.2,314.6 478.3,302.5 478.4,296.9 478.5,304.4 478.6,301.7 478.7,305.5 478.8,298.6 478.9,305.3 478.9,303.3 479.0,312.5 479.1,305.6 479.2,295.5 479.3,306.5 479.4,303.1 479.5,326.6 479.6,301.0 479.7,306.3 479.8,324.0 479.8,301.4 479.9,312.5 480.0,332.0 480.1,313.4 480.2,292.8 480.3,299.2 480.4,315.1 480.5,308.0 480.6,320.4 480.7,298.9 480.7,307.4 480.8,297.5 480.9,302.4 481.0,310.3 481.1,304.0 481.2,324.2 481.3,323.1 481.4,323.0 481.5,309.9 481.6,326.8 481.6,326.5 481.7,324.4 481.8,316.1 481.9,322.2 482.0,298.7 482.1,299.6 482.2,297.5 482.3,311.3 482.4,310.8 482.5,315.0 482.5,296.6 482.6,308.3 482.7,302.1 482.8,310.6 482.9,322.8 483.0,296.6 483.1,293.0 483.2,305.5 483.3,331.7 483.4,294.0 483.4,299.2 483.5,308.6 483.6,293.4 483.7,293.9 483.8,300.6 483.9,316.7 484.0,298.1 484.1,310.7 484.2,303.2 484.3,301.9 484.3,320.0 484.4,330.4 484.5,350.3 484.6,335.8 484.7,305.4 484.8,319.7 484.9,319.1 485.0,317.8 485.1,307.1 485.2,307.1 485.2,315.9 485.3,299.2 485.4,308.2 485.5,336.6 485.6,319.2 485.7,316.7 485.8,329.6 485.9,320.7 486.0,326.2 486.1,324.5 486.1,329.9 486.2,322.1 486.3,330.4 486.4,323.1 486.5,341.5 486.6,314.8 486.7,327.2 486.8,316.1 486.9,323.1 487.0,318.9 487.0,340.4 487.1,328.4 487.2,312.2 487.3,320.1 487.4,347.6 487.5,331.4 487.6,316.2 487.7,326.7 487.8,323.6 487.9,341.4 487.9,338.4 488.0,339.7 488.1,337.6 488.2,329.4 488.3,334.8 488.4,349.8 488.5,332.2 488.6,332.4 488.7,335.2 488.8,353.9 488.8,339.2 488.9,327.0 489.0,336.4 489.1,335.4 489.2,321.5 489.3,336.0 489.4,335.3 489.5,327.5 489.6,321.3 489.7,316.6 489.7,333.4 489.8,327.5 489.9,317.8 490.0,328.0 490.1,311.1 490.2,325.4 490.3,335.1 490.4,316.3 490.5,327.5 490.6,321.6 490.6,311.4 490.7,317.1 490.8,330.7 490.9,322.5 491.0,301.6 491.1,328.6 491.2,313.4 491.3,321.8 491.4,322.4 491.5,331.3 491.5,323.1 491.6,318.0 491.7,318.9 491.8,324.2 491.9,307.5 492.0,324.3 492.1,330.3 492.2,319.8 492.3,317.6 492.4,337.9 492.4,339.7 492.5,318.7 492.6,319.9 492.7,317.2 492.8,334.3 492.9,310.5 493.0,318.2 493.1,322.1 493.2,329.7 493.3,326.8 493.3,328.8 493.4,317.1 493.5,346.5 493.6,319.6 493.7,323.4 493.8,329.4 493.9,320.4 494.0,302.1 494.1,346.8 494.2,320.5 494.2,344.8 494.3,331.2 494.4,320.5 494.5,325.1 494.6,328.7 494.7,331.8 494.8,309.7 494.9,311.4 495.0,319.1 495.1,320.4 495.1,307.7 495.2,315.3 495.3,322.6 495.4,307.2 495.5,324.8 495.6,341.6 495.7,318.4 495.8,303.8 495.9,316.9 496.0,317.1 496.0,321.8 496.1,305.9 496.2,316.3 496.3,324.5 496.4,319.9 496.5,311.2 496.6,318.9 496.7,312.0 496.8,317.8 496.9,296.3 496.9,287.2 497.0,298.5 497.1,313.6 497.2,311.0 497.3,319.0 497.4,319.3 497.5,329.2 497.6,309.4 497.7,317.5 497.8,318.0 497.8,322.5 497.9,312.3 498.0,317.8 498.1,325.0 498.2,318.6 498.3,324.6 498.4,317.2 498.5,313.7 498.6,319.4 498.7,319.3 498.7,321.9 498.8,311.6 498.9,293.6 499.0,327.1 499.1,329.1 499.2,323.1 499.3,333.9 499.4,313.2 499.5,332.2 499.6,316.4 499.6,325.6 499.7,328.3 499.8,340.0 499.9,333.4 500.0,337.5 500.1,335.7 500.2,319.4 500.3,349.5 500.4,352.4 500.5,330.7 500.5,318.3 500.6,333.4 500.7,330.6 500.8,339.7 500.9,340.1 501.0,338.6 501.1,348.7 501.2,341.8 501.3,341.6 501.4,331.9 501.4,329.1 501.5,332.8 501.6,320.1 501.7,328.9 501.8,316.8 501.9,327.6 502.0,331.0 502.1,333.2 502.2,306.4 502.3,315.0 502.3,321.8 502.4,312.3 502.5,319.1 502.6,311.9 502.7,324.2 502.8,300.6 502.9,316.9 503.0,328.3 503.1,323.7 503.2,328.3 503.2,329.9 503.3,313.4 503.4,318.1 503.5,318.0 503.6,317.0 503.7,322.0 503.8,337.4 503.9,314.7 504.0,303.6 504.1,296.2 504.1,312.8 504.2,309.7 504.3,311.7 504.4,313.5 504.5,307.0 504.6,313.3 504.7,299.7 504.8,316.9 504.9,314.1 505.0,326.0 505.0,314.4 505.1,318.1 505.2,318.9 505.3,316.5 505.4,328.2 505.5,322.3 505.6,343.0 505.7,303.0 505.8,321.9 505.9,310.3 505.9,316.9 506.0,344.6 506.1,324.4 506.2,333.8 506.3,336.3 506.4,336.1 506.5,318.8 506.6,324.6 506.7,315.1 506.8,315.8 506.8,325.0 506.9,326.8 507.0,325.5 507.1,309.2 507.2,322.5 507.3,322.3 507.4,330.0 507.5,313.9 507.6,307.8 507.7,335.1 507.7,322.2 507.8,333.0 507.9,314.1 508.0,335.8 508.1,323.8 508.2,313.6 508.3,324.8 508.4,319.5 508.5,340.2 508.6,323.9 508.6,301.3 508.7,297.0 508.8,314.9 508.9,322.4 509.0,323.9 509.1,310.9 509.2,324.9 509.3,311.3 509.4,329.2 509.5,308.6 509.5,325.7 509.6,314.4 509.7,310.1 509.8,308.6 509.9,312.8 510.0,316.4 510.1,304.0 510.2,315.7 510.3,310.0 510.4,311.3 510.4,299.8 510.5,318.9 510.6,319.4 510.7,313.2 510.8,344.6 510.9,313.4 511.0,300.7 511.1,331.1 511.2,325.1 511.3,307.7 511.3,312.6 511.4,331.0 511.5,324.3 511.6,319.3 511.7,314.8 511.8,323.0 511.9,310.5 512.0,315.5 512.1,312.7 512.2,320.8 512.2,303.5 512.3,315.2 512.4,318.3 512.5,325.8 512.6,318.1 512.7,320.9 512.8,316.8 512.9,317.5 513.0,331.4 513.1,318.9 513.1,313.7 513.2,299.8 513.3,322.2 513.4,337.3 513.5,317.3 513.6,326.0 513.7,315.0 513.8,312.4 513.9,321.5 514.0,314.5 514.0,319.6 514.1,317.9 514.2,321.4 514.3,337.3 514.4,310.6 514.5,297.3 514.6,341.3 514.7,328.3 514.8,330.9 514.9,338.5 514.9,335.2 515.0,317.8 515.1,326.5 515.2,327.3 515.3,319.5 515.4,326.7 515.5,328.8 515.6,321.0 515.7,332.6 515.8,346.1 515.8,325.5 515.9,322.7 516.0,327.0 516.1,327.4 516.2,327.6 516.3,327.3 516.4,319.5 516.5,321.9 516.6,323.5 516.7,321.1 516.7,306.8 516.8,318.3 516.9,317.2 517.0,318.6 517.1,308.4 517.2,319.3 517.3,319.7 517.4,315.3 517.5,329.4 517.6,321.8 517.6,325.1 517.7,315.5 517.8,312.3 517.9,324.0 518.0,318.3 518.1,344.0 518.2,306.2 518.3,320.9 518.4,302.8 518.5,309.7 518.5,330.5 518.6,313.9 518.7,336.4 518.8,329.6 518.9,341.5 519.0,332.5 519.1,336.0 519.2,338.3 519.3,334.4 519.4,337.3 519.4,332.2 519.5,328.8 519.6,328.5 519.7,329.9 519.8,331.5 519.9,327.7 520.0,351.8 520.1,346.0 520.2,333.2 520.3,340.8 520.3,330.5 520.4,333.1 520.5,332.8 520.6,331.8 520.7,333.7 520.8,326.7 520.9,319.9 521.0,313.4 521.1,332.5 521.2,325.7 521.2,324.4 521.3,321.6 521.4,317.6 521.5,318.3 521.6,322.0 521.7,327.0 521.8,313.0 521.9,310.5 522.0,319.3 522.1,328.0 522.1,327.3 522.2,323.0 522.3,314.8 522.4,318.6 522.5,319.1 522.6,313.8 522.7,316.6 522.8,313.5 522.9,320.7 523.0,325.6 523.0,332.1 523.1,324.6 523.2,333.2 523.3,320.3 523.4,320.8 523.5,318.1 523.6,325.9 523.7,340.4 523.8,332.7 523.9,330.3 523.9,319.6 524.0,325.9 524.1,313.0 524.2,324.8 524.3,331.9 524.4,315.8 524.5,326.1 524.6,311.4 524.7,329.6 524.8,326.3 524.8,326.3 524.9,326.1 525.0,327.3 525.1,333.4 525.2,318.4 525.3,325.6 525.4,322.5 525.5,329.5 525.6,341.8 525.7,321.1 525.7,322.3 525.8,329.9 525.9,321.6 526.0,328.7 526.1,320.0 526.2,324.7 526.3,314.4 526.4,328.1 526.5,318.6 526.6,317.7 526.6,332.3 526.7,309.8 526.8,317.2 526.9,334.2 527.0,324.0 527.1,309.7 527.2,316.0 527.3,323.1 527.4,313.0 527.5,300.8 527.5,315.9 527.6,314.3 527.7,326.4 527.8,325.4 527.9,336.1 528.0,307.7 528.1,329.5 528.2,316.9 528.3,334.6 528.4,310.3 528.4,333.6 528.5,320.0 528.6,313.8 528.7,304.5 528.8,328.8 528.9,326.6 529.0,305.5 529.1,320.5 529.2,321.5 529.3,341.7 529.3,336.1 529.4,332.1 529.5,321.1 529.6,326.5 529.7,333.7 529.8,337.6 529.9,334.8 530.0,334.8 530.1,333.5 530.2,326.8 530.2,320.9 530.3,316.5 530.4,322.4 530.5,334.0 530.6,327.4 530.7,329.7 530.8,334.5 530.9,318.0 531.0,321.6 531.1,331.1 531.1,314.9 531.2,318.9 531.3,318.9 531.4,303.4 531.5,318.6 531.6,312.0 531.7,321.3 531.8,321.3 531.9,324.1 532.0,335.1 532.0,317.4 532.1,325.9 532.2,326.8 532.3,325.8 532.4,322.8 532.5,306.3 532.6,314.4 532.7,318.0 532.8,310.2 532.9,324.1 532.9,326.2 533.0,318.8 533.1,304.0 533.2,322.7 533.3,327.1 533.4,321.9 533.5,327.4 533.6,317.3 533.7,313.4 533.8,338.1 533.8,324.6 533.9,309.8 534.0,324.9 534.1,357.6 534.2,324.8 534.3,333.1 534.4,340.2 534.5,303.4 534.6,315.3 534.7,321.0 534.7,327.2 534.8,325.5 534.9,322.2 535.0,327.7 535.1,317.4 535.2,326.1 535.3,332.2 535.4,311.2 535.5,302.2 535.6,313.5 535.6,322.3 535.7,323.4 535.8,319.8 535.9,299.8 536.0,317.6 536.1,325.4 536.2,319.6 536.3,309.2 536.4,318.1 536.5,308.6 536.5,293.1 536.6,322.0 536.7,313.1 536.8,322.5 536.9,312.2 537.0,323.1 537.1,313.4 537.2,316.5 537.3,336.1 537.4,318.2 537.4,323.4 537.5,325.3 537.6,318.9 537.7,311.5 537.8,311.5 537.9,346.0 538.0,340.1 538.1,322.0 538.2,321.4 538.3,316.1 538.3,312.7 538.4,323.3 538.5,314.0 538.6,309.8 538.7,321.8 538.8,303.6 538.9,308.3 539.0,297.0 539.1,313.7 539.2,308.7 539.2,308.6 539.3,302.3 539.4,302.4 539.5,312.6 539.6,325.3 539.7,315.7 539.8,320.9 539.9,324.5 540.0,316.1 540.1,314.7 540.1,332.5 540.2,320.7 540.3,307.9 540.4,324.6 540.5,330.9 540.6,313.2 540.7,323.6 540.8,330.6 540.9,330.7 541.0,308.2 541.0,332.2 541.1,340.1 541.2,327.9 541.3,326.2 541.4,332.8 541.5,332.4 541.6,328.4 541.7,318.3 541.8,329.4 541.9,322.1 541.9,329.2 542.0,327.1 542.1,308.1 542.2,336.8 542.3,331.5 542.4,333.4 542.5,334.9 542.6,333.4 542.7,334.0 542.8,328.1 542.8,325.5 542.9,326.9 543.0,350.9 543.1,344.6 543.2,321.1 543.3,345.5 543.4,328.0 543.5,319.9 543.6,315.1 543.7,311.5 543.7,334.4 543.8,323.3 543.9,322.4 544.0,329.6 544.1,328.6 544.2,345.7 544.3,312.6 544.4,324.7 544.5,331.8 544.6,326.0 544.6,328.2 544.7,340.6 544.8,318.1 544.9,310.5 545.0,329.6 545.1,314.1 545.2,315.4 545.3,328.9 545.4,337.9 545.5,317.5 545.5,321.1 545.6,319.8 545.7,314.3 545.8,320.4 545.9,334.1 546.0,331.9 546.1,325.8 546.2,324.3 546.3,331.4 546.4,327.6 546.4,320.9 546.5,308.7 546.6,319.2 546.7,308.6 546.8,319.0 546.9,317.0 547.0,338.9 547.1,315.0 547.2,315.9 547.3,345.6 547.3,319.2 547.4,309.2 547.5,318.9 547.6,337.9 547.7,317.1 547.8,320.4 547.9,328.1 548.0,320.7 548.1,350.2 548.2,317.5 548.2,339.7 548.3,326.4 548.4,308.0 548.5,300.7 548.6,312.9 548.7,316.3 548.8,321.2 548.9,322.2 549.0,314.0 549.1,314.8 549.1,316.4 549.2,324.9 549.3,327.0 549.4,325.0 549.5,317.7 549.6,318.8 549.7,331.3 549.8,323.4 549.9,294.6 550.0,313.3 550.0,334.4 550.1,315.7 550.2,317.8 550.3,324.7 550.4,314.3 550.5,318.6 550.6,330.7 550.7,322.3 550.8,329.3 550.9,336.1 550.9,315.3 551.0,308.4 551.1,332.5 551.2,304.0 551.3,315.6 551.4,314.5 551.5,299.0 551.6,316.1 551.7,310.8 551.8,310.0 551.8,310.8 551.9,322.5 552.0,306.2 552.1,312.1 552.2,316.7 552.3,310.4 552.4,317.5 552.5,294.6 552.6,321.4 552.7,322.3 552.7,310.4 552.8,310.7 552.9,313.9 553.0,314.9 553.1,315.8 553.2,304.3 553.3,311.2 553.4,317.2 553.5,318.0 553.6,310.3 553.6,327.3 553.7,325.3 553.8,297.6 553.9,311.9 554.0,318.3 554.1,314.6 554.2,293.6 554.3,306.6 554.4,308.3 554.5,327.7 554.5,320.3 554.6,317.3 554.7,306.0 554.8,321.5 554.9,332.0 555.0,307.1 555.1,324.5 555.2,317.1 555.3,325.3 555.4,299.5 555.4,301.9 555.5,312.7 555.6,325.3 555.7,315.2 555.8,313.6 555.9,314.8 556.0,324.5 556.1,320.6 556.2,333.6 556.3,321.5 556.3,319.6 556.4,339.9 556.5,335.7 556.6,313.4 556.7,328.3 556.8,318.2 556.9,311.3 557.0,323.2 557.1,324.0 557.2,331.3 557.2,323.2 557.3,329.9 557.4,317.8 557.5,347.7 557.6,331.5 557.7,346.0 557.8,333.9 557.9,344.5 558.0,323.2 558.1,340.2 558.1,334.6 558.2,332.1 558.3,309.4 558.4,345.0 558.5,329.2 558.6,327.3 558.7,329.5 558.8,327.1 558.9,334.4 559.0,309.6 559.0,334.2 559.1,337.8 559.2,309.6 559.3,325.7 559.4,323.8 559.5,326.3 559.6,301.2 559.7,322.7 559.8,312.7 559.9,313.0 559.9,311.4 560.0,317.2 560.1,313.8 560.2,315.5 560.3,323.3 560.4,301.2 560.5,298.5 560.6,320.7 560.7,314.5 560.8,317.9 560.8,307.9 560.9,320.5 561.0,325.2 561.1,317.1 561.2,339.2 561.3,315.8 561.4,320.1 561.5,325.4 561.6,315.3 561.7,301.7 561.7,316.2 561.8,305.9 561.9,317.7 562.0,314.8 562.1,317.3 562.2,314.0 562.3,311.7 562.4,332.2 562.5,314.9 562.6,330.3 562.6,314.2 562.7,313.6 562.8,307.4 562.9,327.9 563.0,324.5 563.1,336.0 563.2,324.7 563.3,309.3 563.4,301.3 563.5,317.6 563.5,315.8 563.6,306.6 563.7,305.0 563.8,313.5 563.9,310.8 564.0,332.2 564.1,336.3 564.2,317.8 564.3,322.4 564.4,309.1 564.4,339.7 564.5,330.7 564.6,331.8 564.7,335.2 564.8,338.7 564.9,318.6 565.0,325.4 565.1,318.6 565.2,322.5 565.3,340.6 565.3,328.3 565.4,322.0 565.5,337.1 565.6,318.2 565.7,313.4 565.8,329.7 565.9,313.4 566.0,321.5 566.1,319.7 566.2,323.7 566.2,321.6 566.3,322.7 566.4,337.3 566.5,326.6 566.6,291.7 566.7,306.9 566.8,320.0 566.9,306.4 567.0,290.8 567.1,312.2 567.1,324.5 567.2,316.6 567.3,313.5 567.4,325.5 567.5,321.3 567.6,308.9 567.7,320.8 567.8,318.5 567.9,320.7 568.0,322.2 568.0,308.1 568.1,324.1 568.2,325.7 568.3,309.9 568.4,314.7 568.5,329.1 568.6,334.1 568.7,318.2 568.8,308.0 568.9,306.9 568.9,315.0 569.0,311.2 569.1,320.9 569.2,328.0 569.3,329.7 569.4,338.0 569.5,317.1 569.6,316.5 569.7,328.2 569.8,318.5 569.8,330.3 569.9,308.2 570.0,326.3 570.1,317.4 570.2,313.4 570.3,321.1 570.4,338.6 570.5,322.1 570.6,330.7 570.7,330.0 570.7,334.8 570.8,316.8 570.9,323.5 571.0,320.8 571.1,304.8 571.2,326.9 571.3,303.5 571.4,308.3 571.5,320.3 571.6,327.9 571.6,318.1 571.7,317.4 571.8,334.8 571.9,317.2 572.0,338.6 572.1,314.5 572.2,326.7 572.3,337.5 572.4,313.6 572.5,341.3 572.5,330.5 572.6,307.8 572.7,328.5 572.8,322.7 572.9,331.5 573.0,307.8 573.1,308.6 573.2,325.9 573.3,317.1 573.4,319.1 573.4,326.0 573.5,319.9 573.6,343.0 573.7,333.6 573.8,313.9 573.9,321.5 574.0,321.7 574.1,310.7 574.2,314.7 574.3,306.4 574.3,330.8 574.4,316.1 574.5,337.6 574.6,329.6 574.7,323.2 574.8,301.1 574.9,328.3 575.0,325.8 575.1,327.6 575.2,352.5 575.2,326.4 575.3,329.7 575.4,325.4 575.5,326.6 575.6,328.9 575.7,317.4 575.8,319.3 575.9,310.9 576.0,313.3 576.1,302.3 576.1,308.9 576.2,309.2 576.3,297.6 576.4,288.4 576.5,306.7 576.6,323.2 576.7,317.8 576.8,310.6 576.9,306.0 577.0,306.5 577.0,329.5 577.1,311.2 577.2,317.1 577.3,328.4 577.4,314.3 577.5,322.8 577.6,325.4 577.7,314.1 577.8,334.6 577.9,333.2 577.9,313.1 578.0,316.8 578.1,327.9 578.2,298.8 578.3,320.0 578.4,335.4 578.5,322.7 578.6,311.5 578.7,319.8 578.8,316.5 578.8,321.8 578.9,322.7 579.0,324.1 579.1,301.5 579.2,324.0 579.3,322.9 579.4,313.8 579.5,334.5 579.6,322.9 579.7,313.0 579.7,324.4 579.8,324.9 579.9,318.2 580.0,353.5 580.1,312.3 580.2,318.5 580.3,322.5 580.4,309.2 580.5,307.6 580.6,324.0 580.6,324.4 580.7,306.8 580.8,323.3 580.9,322.8 581.0,325.9 581.1,304.5 581.2,306.3 581.3,304.3 581.4,322.3 581.5,319.6 581.5,316.8 581.6,317.8 581.7,319.3 581.8,331.4 581.9,320.3 582.0,344.1 582.1,308.0 582.2,315.1 582.3,328.4 582.4,313.9 582.4,323.6 582.5,305.4 582.6,318.3 582.7,313.5 582.8,312.8 582.9,317.8 583.0,333.5 583.1,303.0 583.2,314.3 583.3,343.0 583.3,307.1 583.4,327.8 583.5,306.9 583.6,305.5 583.7,314.5 583.8,333.8 583.9,311.0 584.0,315.2 584.1,330.7 584.2,312.7 584.2,325.6 584.3,340.5 584.4,321.6 584.5,314.4 584.6,324.7 584.7,322.6 584.8,329.0 584.9,331.8 585.0,327.2 585.1,317.9 585.1,341.8 585.2,314.5 585.3,320.5 585.4,334.8 585.5,311.4 585.6,320.9 585.7,325.1 585.8,323.2 585.9,310.3 586.0,327.0 586.0,324.0 586.1,323.5 586.2,326.1 586.3,321.4 586.4,340.5 586.5,318.6 586.6,335.9 586.7,319.0 586.8,324.2 586.9,327.9 586.9,334.4 587.0,335.1 587.1,343.1 587.2,313.1 587.3,318.1 587.4,307.8 587.5,322.6 587.6,319.7 587.7,321.8 587.8,326.2 587.8,338.8 587.9,316.1 588.0,312.9 588.1,326.4 588.2,317.9 588.3,322.8 588.4,321.9 588.5,318.5 588.6,309.3 588.7,333.1 588.7,316.3 588.8,321.2 588.9,312.6 589.0,302.9 589.1,318.0 589.2,311.5 589.3,311.5 589.4,337.7 589.5,314.2 589.6,306.5 589.6,308.0 589.7,322.5 589.8,310.3 589.9,304.9 590.0,301.3 590.1,314.7 590.2,312.4 590.3,325.9 590.4,314.0 590.5,313.8 590.5,321.3 590.6,327.2 590.7,318.5 590.8,326.7 590.9,318.9 591.0,328.8 591.1,324.9 591.2,327.8 591.3,324.9 591.4,312.9 591.4,322.4 591.5,321.3 591.6,318.5 591.7,327.9 591.8,302.9 591.9,319.4 592.0,327.5 592.1,311.1 592.2,318.4 592.3,322.3 592.3,322.5 592.4,335.1 592.5,312.8 592.6,298.1 592.7,316.4 592.8,323.8 592.9,327.4 593.0,299.4 593.1,305.0 593.2,323.7 593.2,306.1 593.3,330.3 593.4,340.3 593.5,328.4 593.6,323.5 593.7,328.3 593.8,318.3 593.9,298.8 594.0,298.5 594.1,327.2 594.1,314.2 594.2,325.5 594.3,323.9 594.4,307.3 594.5,309.1 594.6,313.7 594.7,317.1 594.8,311.3 594.9,322.9 595.0,326.1 595.0,314.3 595.1,318.4 595.2,324.0 595.3,329.3 595.4,334.3 595.5,333.1 595.6,329.7 595.7,309.4 595.8,319.7 595.9,309.7 595.9,334.5 596.0,332.4 596.1,321.3 596.2,332.4 596.3,336.7 596.4,310.2 596.5,319.0 596.6,334.8 596.7,343.3 596.8,335.1 596.8,316.1 596.9,320.3 597.0,340.4 597.1,324.9 597.2,336.8 597.3,322.1 597.4,311.1 597.5,348.2 597.6,353.1 597.7,344.7 597.7,340.0 597.8,335.9 597.9,343.8 598.0,344.7 598.1,337.4 598.2,335.3 598.3,320.1 598.4,330.7 598.5,329.1 598.6,336.1 598.6,326.5 598.7,339.9 598.8,330.7 598.9,340.9 599.0,334.3 599.1,335.9 599.2,337.0 599.3,333.5 599.4,324.2 599.5,324.3 599.5,318.7 599.6,328.0 599.7,337.2 599.8,317.7 599.9,310.4 600.0,312.4 600.1,311.0 600.2,321.5 600.3,338.3 600.4,323.6 600.4,314.9 600.5,320.3 600.6,356.5 600.7,337.8 600.8,311.5 600.9,311.8 601.0,330.6 601.1,314.7 601.2,320.0 601.3,329.9 601.3,328.0 601.4,304.8 601.5,324.9 601.6,309.6 601.7,320.0 601.8,342.0 601.9,330.5 602.0,331.6 602.1,314.2 602.2,323.9 602.2,311.2 602.3,318.1 602.4,326.5 602.5,318.7 602.6,322.0 602.7,315.2 602.8,323.0 602.9,346.8 603.0,338.8 603.1,331.7 603.1,325.6 603.2,329.4 603.3,328.6 603.4,329.5 603.5,331.6 603.6,311.1 603.7,315.6 603.8,317.6 603.9,302.5 604.0,305.9 604.0,315.0 604.1,310.8 604.2,304.1 604.3,303.6 604.4,323.2 604.5,316.4 604.6,316.4 604.7,315.0 604.8,325.7 604.9,310.3 604.9,312.3 605.0,339.5 605.1,319.1 605.2,302.7 605.3,301.0 605.4,312.0 605.5,323.3 605.6,331.5 605.7,322.0 605.8,331.7 605.8,306.5 605.9,305.7 606.0,322.4 606.1,312.0 606.2,306.6 606.3,336.6 606.4,328.5 606.5,336.3 606.6,325.2 606.7,311.7 606.7,319.5 606.8,295.5 606.9,319.3 607.0,319.0 607.1,310.3 607.2,327.0 607.3,320.0 607.4,306.3 607.5,320.7 607.6,309.1 607.6,325.1 607.7,314.0 607.8,305.4 607.9,333.6 608.0,323.9 608.1,309.3 608.2,314.5 608.3,309.5 608.4,318.6 608.5,331.1 608.5,327.4 608.6,305.6 608.7,317.1 608.8,325.0 608.9,340.4 609.0,318.7 609.1,316.7 609.2,313.7 609.3,316.9 609.4,338.4 609.4,329.2 609.5,312.7 609.6,314.9 609.7,320.2 609.8,326.3 609.9,316.5 610.0,313.4 610.1,307.3 610.2,324.6 610.3,309.3 610.3,301.3 610.4,324.5 610.5,322.8 610.6,315.3 610.7,317.0 610.8,294.2 610.9,318.3 611.0,309.2 611.1,306.5 611.2,308.9 611.2,310.3 611.3,316.1 611.4,323.3 611.5,311.7 611.6,310.0 611.7,307.2 611.8,327.4 611.9,306.6 612.0,320.7 612.1,313.5 612.1,311.8 612.2,324.0 612.3,327.2 612.4,298.0 612.5,317.0 612.6,329.5 612.7,319.1 612.8,314.9 612.9,305.9 613.0,320.8 613.0,316.2 613.1,315.2 613.2,329.6 613.3,302.4 613.4,315.3 613.5,306.3 613.6,312.1 613.7,302.0 613.8,331.3 613.9,307.3 613.9,307.7 614.0,309.9 614.1,330.7 614.2,308.6 614.3,307.2 614.4,319.0 614.5,338.0 614.6,303.0 614.7,317.0 614.8,328.6 614.8,319.4 614.9,307.6 615.0,306.4 615.1,332.7 615.2,334.4 615.3,313.2 615.4,317.9 615.5,312.2 615.6,308.6 615.7,322.8 615.7,300.4 615.8,317.6 615.9,306.2 616.0,321.8 616.1,316.0 616.2,312.2 616.3,311.2 616.4,319.5 616.5,330.7 616.6,325.6 616.6,335.7 616.7,308.5 616.8,311.2 616.9,307.6 617.0,348.4 617.1,326.1 617.2,310.0 617.3,320.9 617.4,325.6 617.5,340.3 617.5,312.9 617.6,322.5 617.7,323.0 617.8,329.7 617.9,310.9 618.0,310.5 618.1,330.2 618.2,328.2 618.3,332.0 618.4,326.6 618.4,325.2 618.5,313.9 618.6,338.3 618.7,339.0 618.8,322.7 618.9,305.1 619.0,326.0 619.1,339.6 619.2,336.9 619.3,320.1 619.3,314.7 619.4,317.8 619.5,321.3 619.6,319.6 619.7,334.3 619.8,318.7 619.9,331.8 620.0,323.2 620.1,310.2 620.2,323.5 620.2,326.3 620.3,324.0 620.4,314.3 620.5,328.6 620.6,312.9 620.7,334.5 620.8,328.6 620.9,333.7 621.0,289.6 621.1,305.7 621.1,312.6 621.2,314.1 621.3,310.7 621.4,327.3 621.5,315.4 621.6,313.6 621.7,310.4 621.8,321.1 621.9,330.8 622.0,326.5 622.0,313.1 622.1,308.1 622.2,336.6 622.3,314.3 622.4,327.4 622.5,321.3 622.6,315.3 622.7,315.7 622.8,326.9 622.9,314.2 622.9,331.3" fill="none" stroke="#f00" stroke-width="1.9" stroke-linejoin="round"/>
<polyline points="157.5,145.5 158.0,160.0 158.4,172.0 158.7,184.0 159.1,175.0 159.5,162.0 160.0,158.0 160.5,170.0 160.9,176.0 161.4,165.0 161.9,157.0 162.4,152.0 162.9,162.0 163.4,172.0 163.8,176.0 164.3,165.0 164.8,152.0 165.2,150.0 165.6,165.0 166.0,172.0 166.4,158.0 166.8,147.0 167.3,155.0 167.8,164.0 168.3,168.0 168.8,156.0 169.3,146.0 169.8,141.0 170.3,152.0 170.7,160.0 171.1,146.0 171.6,133.0 172.1,142.0 172.6,152.0 173.0,140.0 173.5,128.0 173.9,134.0 174.3,126.0 174.6,122.0 175.0,128.0 175.4,136.0 175.6,128.0 176.0,140.0 176.4,152.0 176.8,165.0 177.2,180.0 177.5,195.0 177.7,210.0 177.9,225.0 178.3,238.0 178.7,228.0 179.2,245.0" fill="none" stroke="#f00" stroke-width="2.6" stroke-linejoin="round"/>
</g>
<text x="106.9" y="18.30" font-family="Liberation Sans, sans-serif" font-weight="bold" stroke="#000" stroke-width="0.38" font-size="22.7" text-anchor="end">3000</text>
<text x="106.9" y="71.35" font-family="Liberation Sans, sans-serif" font-weight="bold" stroke="#000" stroke-width="0.38" font-size="22.7" text-anchor="end">2500</text>
<text x="106.9" y="124.40" font-family="Liberation Sans, sans-serif" font-weight="bold" stroke="#000" stroke-width="0.38" font-size="22.7" text-anchor="end">2000</text>
<text x="106.9" y="177.45" font-family="Liberation Sans, sans-serif" font-weight="bold" stroke="#000" stroke-width="0.38" font-size="22.7" text-anchor="end">1500</text>
<text x="106.9" y="230.50" font-family="Liberation Sans, sans-serif" font-weight="bold" stroke="#000" stroke-width="0.38" font-size="22.7" text-anchor="end">1000</text>
<text x="106.9" y="283.55" font-family="Liberation Sans, sans-serif" font-weight="bold" stroke="#000" stroke-width="0.38" font-size="22.7" text-anchor="end">500</text>
<text x="106.9" y="336.60" font-family="Liberation Sans, sans-serif" font-weight="bold" stroke="#000" stroke-width="0.38" font-size="22.7" text-anchor="end">0</text>
<text x="106.9" y="389.65" font-family="Liberation Sans, sans-serif" font-weight="bold" stroke="#000" stroke-width="0.38" font-size="22.7" text-anchor="end">-500</text>
<text x="115.00" y="409.6" font-family="Liberation Sans, sans-serif" font-weight="bold" stroke="#000" stroke-width="0.38" font-size="22.7" text-anchor="middle">0</text>
<text x="199.75" y="409.6" font-family="Liberation Sans, sans-serif" font-weight="bold" stroke="#000" stroke-width="0.38" font-size="22.7" text-anchor="middle">1</text>
<text x="284.50" y="409.6" font-family="Liberation Sans, sans-serif" font-weight="bold" stroke="#000" stroke-width="0.38" font-size="22.7" text-anchor="middle">2</text>
<text x="369.25" y="409.6" font-family="Liberation Sans, sans-serif" font-weight="bold" stroke="#000" stroke-width="0.38" font-size="22.7" text-anchor="middle">3</text>
<text x="454.00" y="409.6" font-family="Liberation Sans, sans-serif" font-weight="bold" stroke="#000" stroke-width="0.38" font-size="22.7" text-anchor="middle">4</text>
<text x="538.75" y="409.6" font-family="Liberation Sans, sans-serif" font-weight="bold" stroke="#000" stroke-width="0.38" font-size="22.7" text-anchor="middle">5</text>
<text x="623.50" y="409.6" font-family="Liberation Sans, sans-serif" font-weight="bold" stroke="#000" stroke-width="0.38" font-size="22.7" text-anchor="middle">6</text>
<text x="306.85" y="455.15" font-family="Liberation Sans, sans-serif" font-weight="bold" stroke="#000" stroke-width="0.38" font-size="28.03" letter-spacing="1.24">Time(ns)</text>
<text transform="translate(24.05,277.3) rotate(-90) scale(1.0154,1.009)" font-family="Liberation Sans, sans-serif" font-weight="bold" stroke="#000" stroke-width="0.38" font-size="29.7">force(pN)</text>
<path d="M616.25,433.85 A23.9,23.9 0 0 0 616.25,470.2 M651.4,433.6 A24.7,24.7 0 0 1 651.4,470.2" fill="none" stroke="#000" stroke-width="2.9"/>
<text transform="translate(619.8,466.65) scale(0.9333,0.9615)" font-family="Liberation Sans, sans-serif" font-size="50" stroke="#000" stroke-width="0.6">a</text>
<line x1="485.7" y1="42.1" x2="528.7" y2="42.1" stroke="#1a1a1a" stroke-width="2.2"/>
<line x1="485.7" y1="67.3" x2="528.7" y2="67.3" stroke="#f00" stroke-width="2.2"/>
<text x="533.6" y="47.8" font-family="Liberation Sans, sans-serif" font-weight="bold" stroke="#000" stroke-width="0.38" font-size="18.55" letter-spacing="0.78">3hfw</text>
<text x="533.6" y="72.8" font-family="Liberation Sans, sans-serif" font-weight="bold" stroke="#000" stroke-width="0.38" font-size="18.55" letter-spacing="0.78">3hfw-p</text>
<path d="M115.3 576.75H124.3 M115.3 669.50H124.3 M115.3 762.25H124.3 M115.3 530.38H120.6 M115.3 623.12H120.6 M115.3 715.88H120.6 M115.3 808.62H120.6 M284.80 855.0V846.8 M454.30 855.0V846.8 M200.05 855.0V850.2 M369.55 855.0V850.2 M539.05 855.0V850.2" stroke="#000" stroke-width="3" stroke-linecap="round" fill="none"/>
<path d="M115.3 484.0 H623.8 V855.0 H115.3 Z" fill="none" stroke="#000" stroke-width="3.8" stroke-linejoin="round"/>
<g clip-path="url(#cb)">
<polyline points="115.8,809.3 116.5,808.1 118.0,808.8 118.5,809.9 119.0,810.1 119.5,811.3 120.0,809.8 120.8,811.4 121.6,813.2 122.4,812.9 123.2,814.0 124.0,812.5 124.9,813.6 125.9,813.2 126.8,814.2 127.8,814.4 128.7,813.2 129.6,813.9 130.6,814.2 131.5,816.1 132.4,815.7 133.4,814.1 134.3,815.8 135.3,814.1 136.2,815.3 137.2,814.0 138.1,813.7 139.1,816.0 140.0,814.2 141.0,814.4 142.0,816.6 143.0,816.4 144.0,815.1 145.0,817.0 145.6,815.0 146.2,814.5 146.8,812.5 147.4,813.5 148.0,812.0 148.9,812.6 149.8,812.3 150.7,810.7 151.6,810.7 152.5,810.1 153.4,810.0 154.3,809.7 155.2,810.2 156.1,810.9 157.0,809.2 157.9,810.9 158.8,809.9 159.7,809.7 160.6,810.9 161.5,809.9 162.4,809.5 163.4,809.8 164.3,810.3 165.3,808.6 166.2,810.9 167.2,808.4 168.1,810.2 169.1,810.4 170.0,808.2 170.9,810.1 171.9,809.0 172.8,809.5 173.8,807.9 174.7,807.9 175.7,808.2 176.6,810.2 177.5,808.0 178.5,809.3 179.4,809.6 180.4,809.4 181.3,807.7 182.3,807.5 183.2,807.8 184.2,808.3 185.1,806.3 186.1,807.8 187.0,807.8 187.9,808.0 188.8,805.9 189.8,808.4 190.7,806.2 191.6,807.0 192.5,807.7 193.5,808.6 194.4,807.2 195.3,808.8 196.2,807.9 197.2,807.4 198.1,807.4 199.0,807.2 199.8,806.4 200.6,805.5 201.3,807.3 202.1,808.2 202.2,803.6 202.3,802.2 202.4,805.4 202.5,802.5 202.6,801.1 202.7,799.4 202.8,800.1 202.9,800.2 203.0,797.7 203.1,796.7 203.2,794.1 203.3,797.0 203.4,792.2 203.5,793.4 203.6,794.0 203.9,790.0 204.2,791.7 204.4,791.8 204.7,789.5 205.0,789.3 205.5,785.4 206.0,786.0 206.5,783.8 207.0,786.0 207.5,782.7 208.2,782.8 209.0,784.5 209.8,783.2 210.5,783.2 211.2,780.2 212.0,779.7 212.8,780.4 213.6,778.9 214.4,777.7 215.2,777.8 216.0,776.2 216.8,776.9 217.7,779.1 218.5,778.6 219.3,776.8 220.1,775.8 220.9,774.7 221.7,773.2 222.5,773.6 223.5,776.1 224.5,776.7 225.5,774.7 226.5,776.8 227.5,777.0 228.5,776.9 229.2,776.2 230.0,776.0 230.8,773.7 231.5,774.7 232.2,772.3 233.0,772.6 233.8,773.3 234.5,772.4 235.4,770.4 236.2,772.9 237.1,771.3 238.0,770.7 238.9,767.9 239.8,769.9 240.6,768.3 241.5,769.8 242.4,768.6 243.2,769.8 244.1,768.8 245.0,769.1 246.0,767.0 247.0,768.2 248.0,768.4 249.0,768.7 250.0,766.5 251.0,768.5 251.9,768.2 252.8,766.9 253.8,767.8 254.7,767.2 255.6,764.9 256.5,764.8 257.4,763.1 258.4,766.0 259.3,766.3 260.2,764.2 261.1,765.0 262.1,765.1 263.0,765.0 263.9,762.2 264.8,764.5 265.6,763.3 266.5,763.3 267.4,761.8 268.3,762.3 268.6,762.0 268.9,760.5 269.2,759.9 269.5,755.9 269.8,755.5 270.0,755.8 270.1,755.9 270.3,753.1 270.4,754.2 270.6,753.1 270.7,749.6 270.9,750.6 271.1,748.7 271.2,747.0 271.4,746.5 271.5,746.4 271.7,744.9 271.8,744.0 272.0,742.5 272.2,743.4 272.4,742.2 272.6,742.3 272.8,741.3 273.0,738.8 273.2,740.9 273.4,736.0 273.6,736.9 273.8,735.4 274.0,735.1 274.2,732.9 274.4,735.2 274.6,732.2 274.8,729.9 275.0,731.5 275.7,728.6 276.3,729.9 277.0,728.3 277.7,728.7 278.3,729.7 279.0,728.4 279.7,726.0 280.3,727.0 281.0,725.6 281.8,723.9 282.5,722.3 283.2,723.7 284.0,723.0 284.8,724.2 285.5,723.7 286.2,721.5 287.0,719.8 287.8,721.8 288.6,717.4 289.5,717.4 290.3,718.9 291.1,718.6 291.9,716.1 292.7,717.8 293.5,718.4 294.4,715.7 295.2,715.5 296.0,714.1 296.9,714.4 297.8,717.3 298.7,714.7 299.6,717.2 300.5,717.0 301.4,715.5 302.3,714.0 303.2,717.2 304.1,715.0 305.0,714.6 305.9,713.8 306.9,716.4 307.8,713.8 308.8,712.6 309.7,713.0 310.6,711.1 311.6,712.9 312.5,711.8 313.2,710.5 314.0,712.0 314.8,711.6 315.5,707.5 316.2,709.1 317.0,707.4 317.8,709.7 318.5,708.4 319.2,705.5 320.0,705.0 320.6,703.8 321.2,706.8 321.7,703.0 322.3,703.7 322.9,702.4 323.5,702.5 324.0,701.6 324.6,701.5 325.2,698.1 325.8,700.2 326.3,697.5 326.9,697.8 327.5,696.3 328.1,695.4 328.7,695.6 329.3,694.6 329.9,693.4 330.5,694.3 331.1,692.9 331.7,689.7 332.3,689.9 332.9,690.1 333.5,691.3 334.2,690.5 334.9,688.3 335.5,685.3 336.2,688.0 336.9,685.8 337.6,685.7 338.3,685.6 339.0,684.6 339.6,683.3 340.3,684.5 341.0,681.5 341.7,680.8 342.4,682.2 343.0,678.6 343.7,678.4 344.4,680.0 345.1,676.0 345.8,678.7 346.5,677.4 347.1,675.6 347.8,674.2 348.5,675.7 349.4,675.9 350.4,672.2 351.3,673.3 352.2,673.2 353.2,672.6 354.1,671.5 355.1,670.4 356.0,671.9 356.8,672.4 357.6,668.7 358.5,668.9 359.3,671.0 360.1,670.4 360.9,669.4 361.7,666.1 362.5,668.7 363.4,669.4 364.2,669.0 365.0,667.2 365.8,663.9 366.7,667.0 367.5,663.8 368.4,665.3 369.2,666.2 370.1,664.7 370.9,661.7 371.8,662.0 372.6,664.3 373.4,660.5 374.1,662.0 374.9,660.6 375.6,659.0 376.4,660.5 377.1,657.5 377.9,657.3 378.6,658.0 379.4,656.1 380.1,655.6 380.9,657.3 381.6,657.6 382.3,657.4 383.1,653.4 383.8,653.9 384.5,652.7 385.3,653.2 386.0,652.0 386.8,653.3 387.5,650.2 388.2,648.2 389.0,650.5 389.8,647.5 390.5,649.0 391.2,647.8 392.0,649.0 392.8,646.8 393.5,646.5 394.5,644.7 395.5,645.8 396.5,644.2 397.5,646.2 398.5,644.9 399.5,643.0 400.2,642.9 401.0,643.0 401.8,644.1 402.5,641.1 403.2,642.9 404.0,642.1 404.8,639.1 405.5,641.1 406.2,638.0 407.0,637.6 408.0,639.8 409.0,638.4 410.0,641.3 411.0,639.7 412.0,639.1 413.0,641.3 413.6,637.2 414.2,639.6 414.7,636.0 415.3,635.7 415.9,638.5 416.5,636.6 417.0,633.9 417.6,632.8 418.2,635.8 418.8,633.8 419.3,633.8 419.9,630.1 420.5,631.5 421.2,629.9 422.0,628.8 422.8,628.8 423.5,629.5 424.2,627.8 425.0,627.5 425.8,625.9 426.5,628.5 427.2,627.2 428.0,627.3 428.8,625.2 429.5,626.5 430.2,624.5 431.0,624.2 431.8,623.5 432.5,623.7 433.2,621.5 434.0,619.6 434.8,618.7 435.5,618.9 436.2,617.6 437.0,620.7 437.9,618.6 438.9,619.6 439.9,616.0 440.8,617.8 441.8,619.3 442.7,617.9 443.7,616.8 444.6,616.6 445.5,615.2 446.5,615.7 447.4,615.9 448.3,617.0 449.2,617.2 450.1,619.6 451.1,616.6 452.0,617.2 452.6,616.6 453.2,615.3 453.8,615.1 454.4,614.1 455.0,614.5 455.6,611.7 456.2,614.9 456.8,611.7 457.4,613.5 458.0,611.6 458.4,610.7 458.8,609.0 459.1,610.3 459.5,605.8 459.9,607.4 460.3,604.9 460.7,605.8 461.0,605.2 461.4,601.8 461.8,601.2 462.8,600.5 463.7,601.5 464.7,601.0 465.7,602.5 466.7,605.2 467.6,602.6 468.6,602.5 470.0,603.4 470.8,601.9 471.5,603.3 472.3,602.6 473.0,599.6 473.8,599.3 474.5,600.6 475.3,601.2 476.0,599.3 476.8,597.7 477.8,599.8 478.7,595.3 479.7,595.2 480.6,598.1 481.6,596.2 482.5,594.3 483.5,596.2 484.4,598.2 485.3,596.1 486.2,595.3 487.1,594.2 488.0,596.0" fill="none" stroke="#000" stroke-width="2.6" stroke-linejoin="round"/>
<polyline points="488.0,596.0 488.3,596.0 488.8,574.0 489.2,573.5 489.7,590.0 490.3,596.0 491.0,593.0 491.7,580.0 492.2,572.0 492.6,590.7 493.6,570.3 495.0,593.5 496.1,571.9 496.9,580.7 498.1,568.7 499.1,580.4 500.1,570.1 500.9,582.3 501.7,568.1 503.2,579.3 504.5,565.4 505.8,582.8 506.7,564.5 508.0,580.4 508.8,561.9 509.6,579.7 511.0,560.2 512.4,575.5 513.1,559.2 514.2,581.3 515.3,559.3 516.1,576.4 516.9,557.2 518.3,577.5 519.0,554.4 520.1,577.3 520.9,554.6 522.3,573.0 523.3,553.7 524.1,570.7 524.9,552.7 526.4,573.2 527.6,551.3 528.4,571.1 529.9,551.2 530.7,566.4 532.1,548.7 533.3,564.5 534.3,549.8 535.5,554.3" fill="none" stroke="#000" stroke-width="1.35" stroke-linejoin="round"/>
<polyline points="535.5,554.3 534.9,552.4 535.6,552.3 536.2,550.0 536.9,548.4 537.6,546.6 538.2,550.0 538.9,548.6 539.6,549.9 540.3,547.4 540.9,549.3 541.6,546.1 542.4,549.0 543.1,548.6 543.9,546.7 544.6,547.3 545.4,548.1 546.1,545.3 546.9,547.2 547.6,548.6 548.4,545.5 548.8,549.1 549.2,549.1 549.6,550.6 550.0,548.4 550.5,547.5 551.0,552.0 551.4,552.6 551.9,551.1 552.4,549.7 552.8,550.8 553.3,553.7 553.8,552.3 554.6,556.4 555.3,554.6 556.1,552.8 556.9,555.7 557.5,554.6 558.1,558.3 558.8,558.8 559.4,557.1 560.0,558.4 560.7,559.0 561.3,559.9 562.0,561.1 562.6,556.0 563.3,558.2 564.0,559.8 564.6,558.4 565.3,560.3 565.9,557.7 566.6,562.4 567.3,560.2 568.0,557.7 568.6,560.5 569.3,558.3 570.0,557.5 570.7,558.9 571.4,556.7 572.1,556.9 572.8,560.3 573.4,559.2 574.1,555.1 574.8,559.2 575.2,554.3 575.6,555.5 576.0,558.1 576.4,556.0 576.8,553.6 577.2,553.5 577.7,553.0 578.1,550.9 578.5,555.2 578.9,549.4 579.3,550.8 579.7,552.1 580.0,550.8 580.4,554.7 580.7,551.2 581.0,556.0 581.3,556.2 581.7,555.6 582.0,557.4 582.3,555.6 582.6,558.4 583.0,558.9 583.3,558.0 583.6,558.4 583.9,560.3 584.3,559.3 584.6,558.2 584.9,562.5 585.2,560.5 585.6,562.4 585.9,564.7 586.4,560.7 586.8,559.3 587.3,559.3 587.7,561.3 588.2,559.4 588.6,558.3 589.1,558.8 589.6,560.9 590.0,556.6 590.5,556.8 590.9,558.9 591.4,556.8 591.8,554.3 592.2,554.8 592.6,554.2 593.0,551.7 593.5,552.4 593.9,551.4 594.3,553.6 594.7,550.3 595.1,551.5 595.5,552.6 596.1,552.8 596.6,550.1 597.2,551.8 597.8,550.6 598.4,551.4 599.0,552.3 599.5,554.4 600.1,555.6 600.7,552.4 601.2,551.2 601.8,554.1 602.4,552.3 602.7,552.8 603.1,557.6 603.4,554.5 603.8,558.5 604.1,557.1 604.5,561.0 604.8,561.1 605.2,557.3 605.5,558.7 605.8,563.5 606.2,562.3 606.5,561.8 606.9,564.4 607.2,565.2 607.6,564.1 607.9,564.5 608.3,563.1 608.6,565.2 609.0,564.6 609.3,567.9 609.7,567.2 610.0,564.0 610.4,566.0 610.8,562.4 611.2,561.9 611.5,564.3 611.9,562.6 612.3,564.4 612.7,562.3 613.0,562.1 613.4,558.2 613.6,561.5 613.9,556.6 614.1,558.9 614.3,559.9 614.6,559.2 614.8,558.4 615.0,555.2 615.3,555.9 615.5,555.8 615.7,551.4 616.0,555.3 616.2,554.4 616.4,552.5 616.6,555.0 616.8,553.9 617.0,553.6 617.2,556.7 617.4,553.8 617.6,558.6 617.8,560.3 618.0,557.1 618.2,561.4 618.4,557.3 618.6,562.3 618.8,559.8 619.0,564.3 619.3,562.0 619.5,565.4 619.8,561.1 620.1,562.1 620.4,566.9 620.6,566.6 620.9,566.7 621.2,564.6 621.4,566.1 621.7,568.6" fill="none" stroke="#000" stroke-width="2.6" stroke-linejoin="round"/>
<polyline points="115.8,814.3 116.8,816.3 117.9,814.3 119.0,815.9 120.0,814.4 121.0,814.8 121.9,816.7 122.9,814.6 123.8,815.7 124.8,815.2 125.8,815.1 126.7,815.2 127.7,814.4 128.6,816.0 129.6,814.0 130.5,814.4 131.5,813.8 132.4,814.3 133.3,814.7 134.2,815.9 135.1,814.5 136.0,813.8 136.9,814.1 137.8,816.0 138.7,813.5 139.6,814.9 140.5,814.2 141.4,814.9 142.3,814.0 143.2,814.9 144.1,814.3 145.0,814.7 145.8,814.6 146.5,813.0 147.2,811.1 148.0,810.2 148.9,812.4 149.8,811.1 150.7,810.2 151.6,812.1 152.5,811.0 153.4,811.3 154.3,811.6 155.2,809.9 156.1,810.0 157.0,811.3 157.9,809.3 158.8,810.8 159.7,809.0 160.6,810.4 161.5,810.3 162.4,810.9 163.4,810.6 164.3,809.7 165.3,808.8 166.2,808.6 167.2,809.6 168.1,809.5 169.1,808.3 170.0,810.4 170.9,809.3 171.9,809.8 172.8,808.5 173.8,808.5 174.7,807.8 175.7,808.6 176.6,808.4 177.5,808.6 178.5,808.3 179.4,809.3 180.4,809.2 181.3,807.2 182.3,807.5 183.2,806.7 184.2,807.8 185.1,808.4 186.1,806.2 187.0,807.5 187.9,806.2 188.8,805.3 189.8,807.1 190.7,805.9 191.6,805.4 192.5,805.9 193.5,805.3 194.4,805.6 195.3,805.6 196.2,805.4 197.2,805.8 198.1,804.9 199.0,804.2 200.0,803.4 201.0,803.4 202.0,805.2 203.0,804.4 203.7,805.4 204.3,803.0 204.6,803.0 205.0,803.4 205.3,798.4 205.7,797.4 206.0,797.0 206.2,797.1 206.4,797.0 206.5,796.8 206.7,794.1 206.9,795.8 207.1,790.6 207.3,793.3 207.5,789.6 207.6,791.6 207.8,786.9 208.0,790.0 209.0,787.7 210.0,788.2 211.0,785.9 212.0,783.6 212.9,787.4 213.7,785.4 214.6,784.2 215.4,786.8 216.3,786.6 217.1,786.9 218.0,785.8 218.9,785.3 219.9,786.9 220.8,786.0 221.8,784.2 222.7,785.2 223.6,786.0 224.6,785.6 225.5,784.2 226.4,783.5 227.3,782.9 228.2,782.0 229.1,781.5 230.0,782.2 230.9,780.4 231.8,782.7 232.7,782.3 233.6,781.5 234.5,778.5 235.2,779.3 235.8,779.0 236.5,776.8 237.2,780.0 237.8,778.4 238.5,776.6 239.2,776.8 239.8,773.9 240.5,773.4 241.4,774.9 242.3,776.0 243.2,775.7 244.1,773.0 245.0,775.8 245.4,776.3 245.9,774.7 246.3,774.7 246.8,774.1 247.2,769.9 247.7,769.4 248.2,769.7 248.6,770.8 249.1,767.3 249.5,768.9 249.9,767.6 250.3,765.3 250.6,764.9 251.0,765.4 251.4,763.7 251.8,760.7 252.2,762.2 252.5,758.5 252.9,758.3 253.3,760.0 253.5,758.6 253.8,755.4 254.0,754.4 254.2,754.9 254.4,755.0 254.7,753.4 254.9,753.6 255.1,751.8 255.4,751.3 255.6,749.5 256.5,748.1 257.4,748.1 258.2,748.1 259.1,747.9 260.0,749.0 260.7,745.8 261.3,744.3 262.0,746.5 262.7,743.8 263.3,743.8 264.0,741.8 264.7,744.3 265.3,741.2 266.0,740.6 267.0,742.6 268.0,741.0 269.0,739.8 270.0,742.2 271.0,739.9 272.0,739.4 272.8,741.5 273.5,740.2 274.2,739.4 275.0,736.6 275.8,738.6 276.5,737.1 277.2,737.5 278.0,734.9 278.9,736.4 279.8,736.2 280.7,734.1 281.6,735.0 282.5,735.2 283.4,735.9 284.3,735.2 285.2,734.4 286.1,731.2 287.0,733.0 287.9,732.9 288.7,729.8 289.6,731.1 290.4,732.4 291.3,732.1 292.1,731.8 293.0,727.7 293.9,729.5 294.8,730.1 295.7,728.7 296.6,726.7 297.5,725.0 297.7,727.9 298.0,726.8 298.2,725.0 298.4,722.8 298.6,723.9 298.9,723.0 299.1,721.7 299.3,720.2 299.6,718.1 299.8,717.1 300.2,716.6 300.6,715.6 301.0,715.6 301.4,713.0 301.9,714.9 302.3,712.4 302.7,710.7 303.1,710.3 303.5,710.1 304.4,709.9 305.3,711.1 306.2,707.7 307.1,707.9 308.0,707.8 308.9,706.9 309.8,709.0 310.7,705.8 311.6,705.2 312.5,707.0 313.2,707.3 314.0,707.1 314.8,705.4 315.5,703.8 316.2,705.7 317.0,704.5 317.8,702.8 318.5,702.6 319.4,703.7 320.2,703.4 321.1,702.6 321.9,698.6 322.8,698.9 323.6,698.7 324.5,697.1 325.2,700.3 326.0,697.8 326.8,702.0 327.5,701.2 328.2,701.9 329.0,701.5 329.8,704.4 330.5,703.3 331.2,704.1 331.9,703.5 332.5,701.8 333.2,702.4 333.9,699.5 334.6,698.3 335.3,699.7 336.0,697.7 336.6,696.0 337.3,697.0 338.0,695.4 338.9,694.3 339.8,697.9 340.7,696.9 341.6,699.4 342.5,697.9 342.9,698.9 343.4,695.2 343.9,694.1 344.3,694.6 344.8,694.8 345.2,694.2 345.6,692.6 346.1,689.5 346.6,689.9 347.0,687.5 347.7,688.3 348.3,690.1 349.0,686.8 349.7,687.7 350.3,686.7 351.0,683.9 351.7,685.7 352.3,682.3 353.0,682.1 353.9,683.4 354.7,681.0 355.6,684.3 356.4,681.5 357.3,681.9 358.1,683.0 359.0,678.8 360.0,682.7 361.0,678.5 362.0,680.9 363.0,681.2 364.0,682.6 365.0,679.9 365.6,681.7 366.2,679.7 366.8,678.1 367.4,676.0 368.0,675.6 368.6,675.4 369.2,674.6 369.8,673.9 370.4,675.1 371.0,672.4 371.6,672.9 372.2,669.6 372.8,669.3 373.3,671.2 373.9,671.3 374.5,668.0 375.1,666.1 375.7,666.3 376.3,666.2 376.8,665.5 377.4,665.7 378.0,663.8 378.6,664.6 379.4,664.8 380.2,664.4 381.1,663.8 381.9,662.7 382.7,660.9 383.5,663.0 384.3,660.2 385.1,662.3 386.0,660.1 386.8,660.5 387.6,659.5 388.2,659.4 388.8,657.3 389.4,657.6 390.0,657.5 390.6,655.1 391.1,655.4 391.7,654.1 392.3,653.4 392.9,652.2 393.5,652.2 394.4,652.8 395.3,650.3 396.2,650.0 397.1,652.9 398.0,649.5 398.9,652.4 399.8,652.2 400.7,649.6 401.6,651.3 402.5,649.5 403.3,651.9 404.1,648.4 405.0,647.7 405.8,646.9 406.6,649.5 407.4,646.8 408.2,646.9 409.0,649.4 409.9,647.9 410.7,647.5 411.5,646.3 412.0,645.8 412.5,642.2 413.0,644.9 413.5,642.0 414.0,643.4 414.5,640.7 415.0,642.1 415.5,637.2 416.0,640.7 416.8,636.3 417.7,637.6 418.5,637.0 419.3,638.7 420.2,637.0 421.0,637.7 421.8,636.8 422.7,634.2 423.5,632.5 424.4,632.6 425.4,635.3 426.3,636.6 427.2,635.5 428.2,634.3 429.1,635.6 430.1,636.1 431.0,634.5 431.6,635.7 432.2,632.8 432.8,631.2 433.4,630.6 434.0,631.7 434.6,631.9 435.2,629.1 435.8,629.1 436.4,629.6 437.0,627.0 437.8,628.5 438.7,629.3 439.5,628.9 440.4,628.4 441.2,631.0 442.1,631.4 442.9,629.6 443.8,632.7 444.6,632.5 445.2,632.7 445.8,631.7 446.4,629.7 447.0,630.0 447.6,627.6 448.2,628.4 448.8,625.2 449.4,625.7 450.0,625.7 450.6,626.7 451.5,626.0 452.4,627.1 453.3,627.1 454.2,627.7 455.1,626.3 456.0,626.4 456.9,625.9 457.8,625.0 458.7,627.7 459.6,627.0 460.1,624.3 460.6,623.9 461.1,623.0 461.6,624.5 462.1,623.2 462.6,620.7 463.1,622.1 463.6,620.8 464.1,618.7 464.6,618.8 465.1,620.4 465.6,615.9 466.5,616.3 467.5,617.9 468.4,619.0 469.3,619.4 470.2,617.1 471.1,618.7 472.1,615.8 473.0,617.0 473.8,618.5 474.5,617.2 475.2,615.7 476.0,615.8 476.8,614.8 477.5,614.5 478.2,615.4 479.0,615.3 479.9,611.4 480.8,613.4 481.7,613.8 482.6,611.8 483.5,610.9 484.4,609.9 485.3,609.9 486.2,609.9 487.0,609.3 487.7,606.5 488.5,609.7 489.1,605.8 489.8,606.2 489.8,603.8 489.8,604.8 489.9,601.4 489.9,601.7 489.9,601.0 489.9,599.8 489.9,599.6 490.0,597.3 490.0,597.9 490.0,598.3 490.0,596.7 490.0,597.3 490.1,596.3 490.1,593.3 490.1,592.4 490.1,592.8 490.1,592.4 490.2,590.0 490.2,589.6 490.2,588.8 490.2,589.0 490.3,589.8 490.3,590.3 490.3,591.4 490.3,592.4 490.4,594.8 490.4,592.8 490.4,593.6 490.5,598.0 490.5,597.1 490.5,598.8 490.5,600.7 490.6,600.8 490.6,601.0 490.6,603.6 490.7,603.0 490.7,603.1 490.7,602.9 490.7,603.7 490.8,607.4 490.8,608.7 490.8,605.5 490.9,605.3 490.9,605.1 490.9,603.9 490.9,601.5 491.0,603.4 491.0,600.9 491.0,600.7 491.1,599.7 491.1,597.7 491.1,597.9 491.1,594.8 491.2,595.4 491.2,595.0 491.2,594.0 491.3,591.6 491.3,590.2 491.3,589.0 491.3,588.2 491.4,587.5 491.4,587.9 491.4,589.2 491.5,590.7 491.5,590.5 491.5,592.8 491.5,590.5 491.6,592.8 491.6,592.7 491.6,595.3 491.6,596.5 491.7,597.5 491.7,597.8 491.7,598.3 491.8,599.1 491.8,599.0 491.8,600.3 491.8,602.5 491.9,603.8 491.9,602.6 491.9,606.8 491.9,604.1 492.0,605.4 492.0,607.8 492.0,606.4 492.1,606.3 492.1,606.1 492.1,604.8 492.1,604.7 492.2,602.4 492.2,602.4 492.2,600.4 492.2,598.2 492.3,597.0 492.3,596.6 492.3,596.8 492.4,595.2 492.4,595.5 492.4,595.1 492.4,595.3 492.5,591.0 492.5,593.6 492.5,588.5 492.5,591.5 492.6,591.0 492.6,587.4 492.6,590.2 492.6,589.8 492.6,591.0 492.6,593.2 492.6,594.5 492.6,592.6 492.6,593.2 492.6,597.1 492.6,596.6 492.6,598.9 492.6,596.8 492.6,600.5 492.6,598.4 492.6,599.2 492.6,600.8 492.6,604.5 492.6,603.0 492.6,604.2 492.6,604.4 492.6,604.4 492.6,606.9 492.6,608.1 492.6,608.3 493.2,609.3 493.9,606.8 494.5,609.1 495.4,608.3 496.4,606.3 496.4,603.3 496.4,604.5 496.4,603.8 496.4,603.1 496.4,601.2 496.4,601.6 496.4,601.9 496.4,599.7 496.4,595.9 496.4,597.6 496.4,596.6 496.4,595.4 496.4,596.2 496.4,591.4 496.4,590.4 496.4,592.6 496.4,588.9 496.4,588.2 496.4,590.3 496.4,587.4 496.4,590.6 496.5,591.1 496.5,591.4 496.5,591.0 496.5,590.7 496.6,595.5 496.6,596.0 496.6,597.1 496.7,596.2 496.7,596.1 496.7,598.5 496.7,598.5 496.8,598.4 496.8,599.0 496.8,601.2 496.9,600.9 496.9,602.4 496.9,606.4 496.9,607.1 497.0,607.8 497.0,607.1 497.0,607.3 497.1,603.7 497.1,604.8 497.1,605.5 497.1,603.8 497.2,603.7 497.2,601.2 497.2,598.9 497.3,596.7 497.3,596.9 497.3,598.5 497.3,596.3 497.4,595.8 497.4,595.7 497.4,592.5 497.5,590.9 497.5,593.3 497.5,591.2 497.5,587.7 497.6,589.8 497.6,589.0 497.6,590.1 497.6,588.2 497.6,589.7 497.6,592.6 497.6,593.3 497.6,592.8 497.6,596.4 497.6,594.4 497.6,597.9 497.6,595.5 497.6,597.8 497.6,601.1 497.6,600.7 497.6,601.9 497.6,603.3 497.6,603.1 497.6,603.7 497.6,605.8 497.6,605.4 497.6,608.2 497.6,608.2 497.6,605.8 498.0,606.1 498.4,607.7 498.7,603.3 499.1,601.9 499.5,603.4 500.1,603.2 500.8,603.8 501.4,603.0 501.4,600.6 501.4,600.0 501.4,598.3 501.4,598.8 501.4,597.2 501.4,593.8 501.4,595.1 501.4,591.6 501.4,591.9 501.4,591.0 501.4,592.6 501.4,588.6 501.4,588.4 501.4,588.3 501.4,587.6 501.5,589.6 501.5,589.8 501.5,592.6 501.5,593.8 501.6,593.8 501.6,595.9 501.6,595.2 501.7,597.2 501.7,595.2 501.7,597.4 501.8,598.0 501.8,601.4 501.8,600.6 501.9,601.0 501.9,603.1 501.9,605.3 501.9,605.7 502.0,606.4 502.0,606.7 502.0,606.4 502.1,604.5 502.1,602.8 502.1,601.6 502.1,600.5 502.2,599.9 502.2,599.7 502.2,600.4 502.3,596.7 502.3,596.5 502.3,595.0 502.4,595.1 502.4,592.4 502.4,593.9 502.5,594.1 502.5,593.4 502.5,590.1 502.5,588.3 502.6,589.9 502.6,589.1 502.6,587.6 502.7,587.9 502.7,591.6 502.7,591.2 502.8,592.8 502.8,593.9 502.8,596.3 502.9,593.9 502.9,595.4 503.0,595.4 503.0,599.2 503.0,597.4 503.1,601.8 503.1,601.7 503.1,602.2 503.2,602.0 503.2,605.6 503.2,601.4 503.3,602.5 503.3,602.6 503.3,600.9 503.4,597.3 503.4,596.6 503.4,596.5 503.5,597.5 503.5,593.9 503.6,596.6 503.6,595.3 503.6,593.0 503.7,593.4 503.7,591.4 503.7,588.4 503.8,588.5 503.8,585.9 504.9,587.6 505.9,589.8 507.0,587.1 508.2,588.2 509.3,586.7 510.5,588.1 511.4,586.7 512.4,589.4 513.4,587.3 514.3,586.8 515.2,587.6 516.2,586.2 517.1,587.5 518.1,589.4 519.0,588.0 520.0,588.4 520.7,588.2 521.3,591.6 522.0,592.6 522.7,591.3 523.3,590.3 524.0,593.0 524.4,595.8 524.8,595.8 525.2,594.8 525.6,595.2 526.1,599.5 526.5,596.8 526.9,600.1 527.3,600.9 527.7,600.0 528.0,602.0 528.3,604.8 528.6,606.3 528.9,603.1 529.1,603.8 529.4,605.7 529.7,605.7 530.0,610.9 530.9,606.1 531.8,607.4 532.6,609.8 533.5,607.4 534.4,606.5 535.2,605.9 536.0,607.1 536.9,607.9 537.8,611.2 538.6,609.3 539.4,610.2 540.3,609.0 541.1,610.3 542.0,613.6 542.8,609.7 543.6,613.4 544.5,611.8 545.3,612.9 546.2,615.0 547.0,613.5 548.0,614.1 548.9,613.9 549.9,613.7 550.9,611.3 551.9,612.8 552.8,612.5 553.8,612.6 554.7,612.1 555.6,613.2 556.5,615.0 557.4,611.6 558.3,611.8 559.2,614.0 560.1,613.9 561.1,614.8 562.0,610.4 562.9,610.0 563.8,612.9 564.8,610.5 565.7,611.7 566.6,610.3 567.4,608.6 568.1,610.5 568.9,608.6 569.7,608.9 570.5,610.4 571.2,607.5 572.0,609.0 572.8,605.5 573.2,605.7 573.6,607.7 574.0,607.9 574.5,611.0 574.9,608.6 575.3,612.6 575.7,610.7 576.1,612.5 576.5,612.3 577.0,612.7 577.4,613.5 577.8,618.8 578.2,614.8 578.6,620.1 579.0,618.4 579.5,621.5 579.9,618.5 580.3,621.5 581.2,621.7 582.1,619.4 583.1,620.7 584.0,622.0 584.9,619.0 585.8,616.7 586.8,619.5 587.7,620.1 588.6,618.1 589.3,620.8 590.0,618.9 590.7,620.1 591.4,620.7 592.0,619.6 592.7,620.1 593.4,623.9 594.1,625.9 594.8,622.8 595.5,627.4 596.4,624.1 597.3,624.4 598.3,622.3 599.2,621.9 600.1,624.8 601.0,626.3 602.0,624.8 602.9,622.0 603.8,624.7 604.2,622.6 604.6,625.3 605.0,627.6 605.4,626.5 605.8,626.9 606.3,627.7 606.7,628.4 607.1,627.7 607.5,632.4 607.9,631.4 608.3,631.2 608.7,632.7 609.0,632.1 609.4,635.2 609.8,636.7 610.2,637.7 610.6,637.6 611.0,641.4 611.3,637.7 611.7,638.8 612.1,641.6 612.5,641.7 612.9,641.9 613.3,645.0 613.6,644.7 614.0,645.9 614.4,647.4 614.8,646.8 615.1,646.4 615.4,648.1 615.7,642.8 615.9,643.6 616.2,643.5 616.5,643.5 616.8,639.0 617.1,638.3 617.4,638.2 617.7,639.5 618.0,636.2 618.2,634.4 618.5,635.6 618.8,633.3 619.1,635.3 619.4,635.9 619.7,634.0 620.0,632.1 620.3,630.4 620.6,627.5 620.8,628.8 621.1,628.4 621.4,626.4 621.7,626.6" fill="none" stroke="#f00" stroke-width="2.6" stroke-linejoin="round"/>
</g>
<text x="106.9" y="490.05" font-family="Liberation Sans, sans-serif" font-weight="bold" stroke="#000" stroke-width="0.38" font-size="22.7" text-anchor="end">50</text>
<text x="106.9" y="582.80" font-family="Liberation Sans, sans-serif" font-weight="bold" stroke="#000" stroke-width="0.38" font-size="22.7" text-anchor="end">40</text>
<text x="106.9" y="675.55" font-family="Liberation Sans, sans-serif" font-weight="bold" stroke="#000" stroke-width="0.38" font-size="22.7" text-anchor="end">30</text>
<text x="106.9" y="768.30" font-family="Liberation Sans, sans-serif" font-weight="bold" stroke="#000" stroke-width="0.38" font-size="22.7" text-anchor="end">20</text>
<text x="106.9" y="861.05" font-family="Liberation Sans, sans-serif" font-weight="bold" stroke="#000" stroke-width="0.38" font-size="22.7" text-anchor="end">10</text>
<text x="115.00" y="881.15" font-family="Liberation Sans, sans-serif" font-weight="bold" stroke="#000" stroke-width="0.38" font-size="22.7" text-anchor="middle">0</text>
<text x="284.50" y="881.15" font-family="Liberation Sans, sans-serif" font-weight="bold" stroke="#000" stroke-width="0.38" font-size="22.7" text-anchor="middle">2</text>
<text x="454.00" y="881.15" font-family="Liberation Sans, sans-serif" font-weight="bold" stroke="#000" stroke-width="0.38" font-size="22.7" text-anchor="middle">4</text>
<text x="623.50" y="881.15" font-family="Liberation Sans, sans-serif" font-weight="bold" stroke="#000" stroke-width="0.38" font-size="22.7" text-anchor="middle">6</text>
<text x="306.85" y="926.55" font-family="Liberation Sans, sans-serif" font-weight="bold" stroke="#000" stroke-width="0.38" font-size="28.03" letter-spacing="1.24">Time(ns)</text>
<text transform="translate(50.05,763.3) rotate(-90) scale(1.013,1.0054)" font-family="Liberation Sans, sans-serif" font-weight="bold" stroke="#000" stroke-width="0.38" font-size="29.7">Distance(A)</text>
<path d="M618,900.6 A24.5,24.5 0 0 0 618,937.5 M652.4,900.9 A24.9,24.9 0 0 1 652.4,937.7" fill="none" stroke="#000" stroke-width="2.9"/>
<text transform="translate(620.55,933.6) scale(0.9702,0.9935)" font-family="Liberation Sans, sans-serif" font-size="52" stroke="#000" stroke-width="0.5">b</text>
<line x1="148.6" y1="507.5" x2="191.4" y2="507.5" stroke="#1a1a1a" stroke-width="2.2"/>
<line x1="148.6" y1="532.7" x2="191.4" y2="532.7" stroke="#f00" stroke-width="2.2"/>
<text x="196.65" y="513.8" font-family="Liberation Sans, sans-serif" font-weight="bold" stroke="#000" stroke-width="0.38" font-size="18.55" letter-spacing="0.78">3hfw</text>
<text x="196.65" y="538.6" font-family="Liberation Sans, sans-serif" font-weight="bold" stroke="#000" stroke-width="0.38" font-size="18.55" letter-spacing="0.78">3hfw-p</text>
</svg>
</body></html>
